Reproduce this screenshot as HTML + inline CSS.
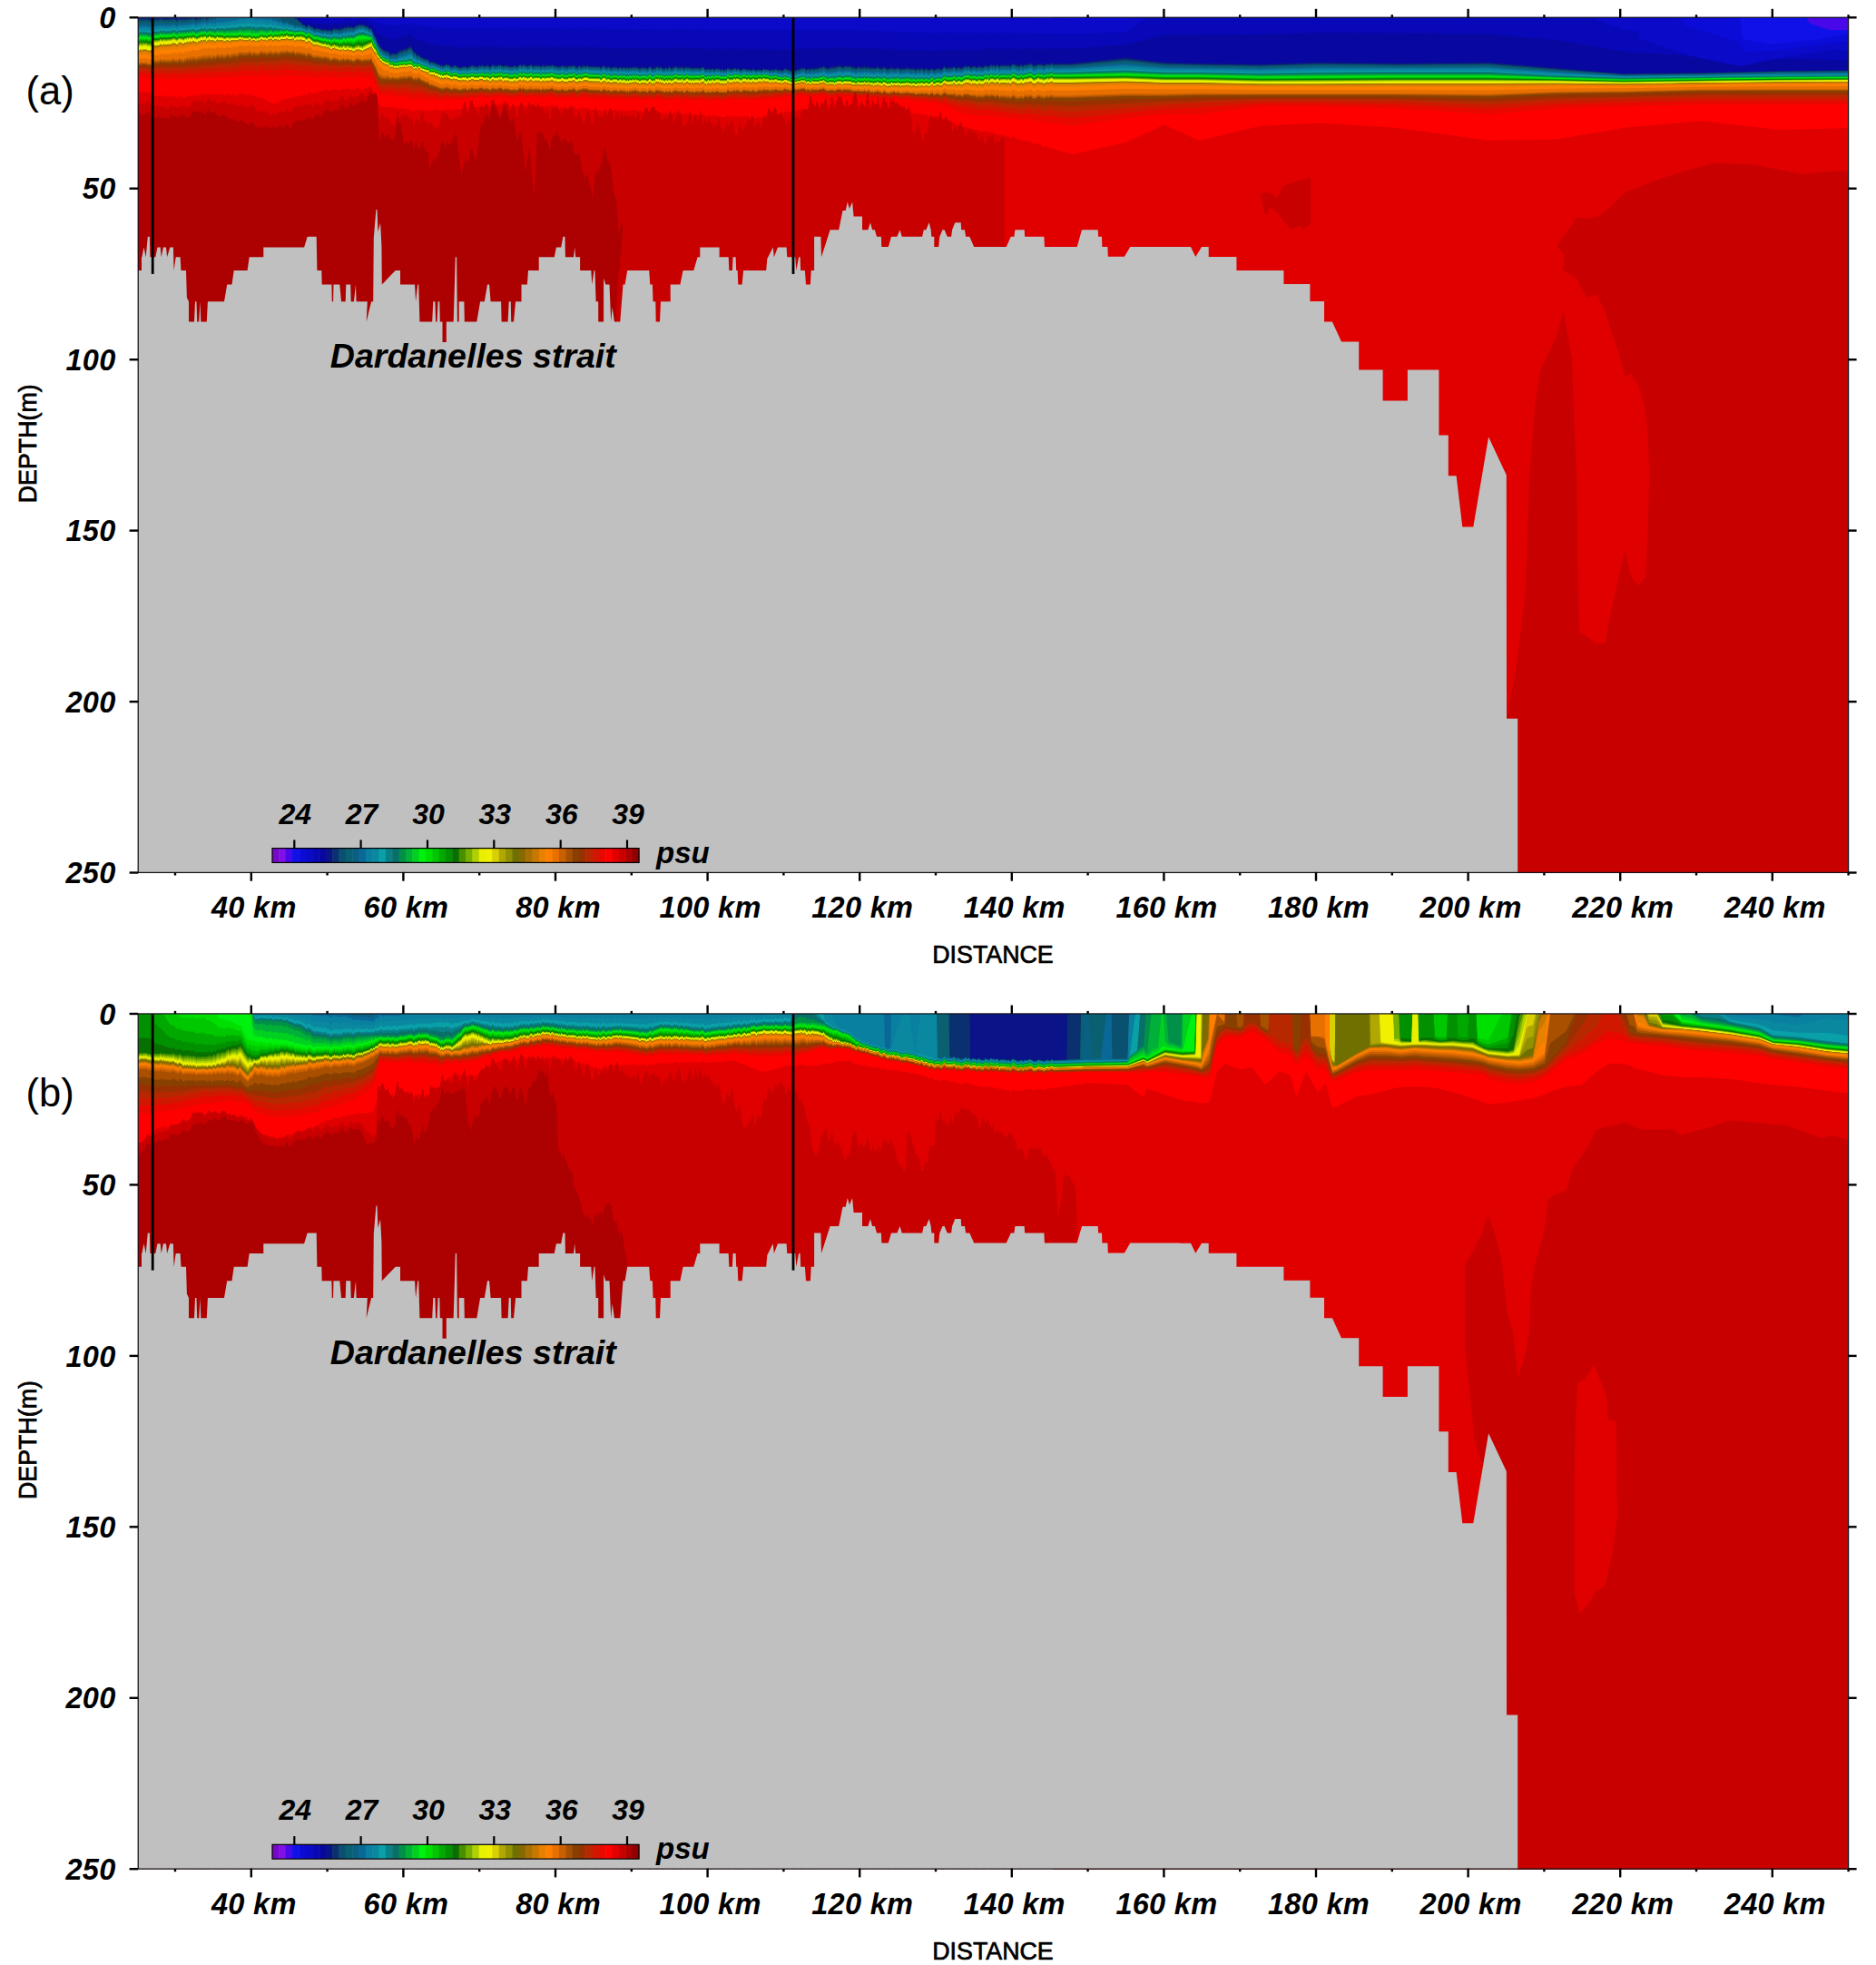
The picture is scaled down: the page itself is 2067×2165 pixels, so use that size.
<!DOCTYPE html><html><head><meta charset="utf-8"><title>Salinity sections</title>
<style>html,body{margin:0;padding:0;background:#fff}svg{display:block}text{font-family:"Liberation Sans",Arial,Helvetica,sans-serif;fill:#000}.t{font-weight:bold;font-style:italic;font-size:32.5px;letter-spacing:0.3px}.c{font-style:italic;font-weight:bold;font-size:32px}</style></head><body>
<svg width="2067" height="2165" viewBox="0 0 2067 2165">
<rect width="2067" height="2165" fill="#fff"/>
<defs><filter id="jagS" filterUnits="userSpaceOnUse" x="130" y="0" width="1930" height="990" color-interpolation-filters="sRGB"><feTurbulence type="fractalNoise" baseFrequency="0.33 0.004" numOctaves="3" seed="3" result="n"/><feColorMatrix in="n" type="matrix" values="0 0 0 0 0.5  0 1 0 0 0  0 0 0 0 0.5  0 0 0 0 1" result="m"/><feDisplacementMap in="SourceGraphic" in2="m" scale="4.5" xChannelSelector="R" yChannelSelector="G"/></filter><filter id="jagM" filterUnits="userSpaceOnUse" x="130" y="0" width="300" height="990" color-interpolation-filters="sRGB"><feTurbulence type="fractalNoise" baseFrequency="0.25 0.003" numOctaves="2" seed="5" result="n"/><feColorMatrix in="n" type="matrix" values="0 0 0 0 0.5  0 1 0 0 0  0 0 0 0 0.5  0 0 0 0 1" result="m"/><feDisplacementMap in="SourceGraphic" in2="m" scale="12" xChannelSelector="R" yChannelSelector="G"/></filter><filter id="jagL" filterUnits="userSpaceOnUse" x="130" y="0" width="1930" height="990" color-interpolation-filters="sRGB"><feTurbulence type="fractalNoise" baseFrequency="0.22 0.002" numOctaves="2" seed="11" result="n"/><feColorMatrix in="n" type="matrix" values="0 0 0 0 0.5  0 1 0 0 0  0 0 0 0 0.5  0 0 0 0 1" result="m"/><feDisplacementMap in="SourceGraphic" in2="m" scale="36" xChannelSelector="R" yChannelSelector="G"/></filter></defs>
<defs><clipPath id="cL"><rect x="130" y="0" width="1030" height="990"/></clipPath><clipPath id="cR"><rect x="1160" y="0" width="900" height="990"/></clipPath><clipPath id="cSL"><rect x="130" y="0" width="287" height="990"/></clipPath><clipPath id="cSR"><rect x="417" y="0" width="1650" height="990"/></clipPath></defs>
<defs><clipPath id="ca"><rect x="152.2" y="19.2" width="1884.4" height="942.2"/></clipPath><clipPath id="cb"><rect x="152.2" y="1117.0" width="1884.4" height="942.2"/></clipPath></defs>
<g clip-path="url(#ca)">
<g transform="translate(0,0.0)">
<defs><g id="bandsA">
<rect x="138.2" y="5.2" width="1912.4" height="970.2" fill="#e00000"/>
<polygon points="138.2,5.2 166.0,5.2 168.9,5.2 198.0,5.2 230.0,5.2 277.9,5.2 301.9,5.2 309.9,5.2 333.9,5.2 357.9,5.2 381.9,5.2 399.5,5.2 409.1,5.2 418.7,5.2 431.5,5.2 452.8,5.2 461.3,5.2 482.6,5.2 510.4,5.2 546.6,5.2 610.6,5.2 661.7,5.2 695.9,5.2 759.8,5.2 840.0,5.2 874.1,5.2 925.3,5.2 999.9,5.2 1031.9,5.2 1063.9,5.2 1117.2,5.2 1181.2,5.2 1240.0,5.2 1282.6,5.2 1321.0,5.2 1389.3,5.2 1453.2,5.2 1538.5,5.2 1640.0,5.2 1714.6,5.2 1789.3,5.2 1874.5,5.2 1959.8,5.2 2050.6,5.2 2050.6,963.5 138.2,963.5" fill="#4808e8" />
<polygon points="138.2,5.2 166.0,5.2 168.9,5.2 198.0,5.2 230.0,5.2 277.9,5.2 301.9,5.2 309.9,5.2 333.9,5.2 357.9,5.2 381.9,5.2 399.5,5.2 409.1,5.2 418.7,5.2 431.5,5.2 452.8,5.2 461.3,5.2 482.6,5.2 510.4,5.2 546.6,5.2 610.6,5.2 661.7,5.2 695.9,5.2 759.8,5.2 840.0,5.2 874.1,5.2 925.3,5.2 999.9,5.2 1031.9,5.2 1063.9,5.2 1117.2,5.2 1181.2,5.2 1240.0,5.2 1282.6,5.2 1321.0,5.2 1389.3,5.2 1453.2,5.2 1538.5,5.2 1640.0,5.2 1714.6,5.2 1789.3,5.2 1874.5,5.2 1959.8,5.2 2050.6,25.4 2050.6,963.5 138.2,963.5" fill="#1010e8" />
<polygon points="138.2,5.2 166.0,5.2 168.9,5.2 198.0,5.2 230.0,5.2 277.9,5.2 301.9,5.2 309.9,5.2 333.9,5.2 357.9,5.2 381.9,5.2 399.5,5.2 409.1,5.2 418.7,5.2 431.5,5.2 452.8,5.2 461.3,5.2 482.6,5.2 510.4,5.2 546.6,5.2 610.6,5.2 661.7,5.2 695.9,5.2 759.8,5.2 840.0,5.2 874.1,5.2 925.3,5.2 999.9,5.2 1031.9,5.2 1063.9,5.2 1117.2,5.2 1181.2,5.2 1240.0,5.2 1282.6,5.2 1321.0,5.2 1389.3,5.2 1453.2,5.2 1538.5,5.2 1640.0,5.2 1714.6,5.2 1789.3,5.2 1874.5,5.2 1959.8,25.3 2050.6,35.7 2050.6,963.5 138.2,963.5" fill="#0c0cd8" />
<polygon points="138.2,5.2 166.0,5.2 168.9,5.2 198.0,5.2 230.0,5.2 277.9,5.2 301.9,5.2 309.9,5.2 333.9,5.2 357.9,5.2 381.9,5.2 399.5,5.2 409.1,5.2 418.7,5.2 431.5,5.2 452.8,5.2 461.3,5.2 482.6,5.2 510.4,5.2 546.6,5.2 610.6,5.2 661.7,5.2 695.9,5.2 759.8,5.2 840.0,5.2 874.1,5.2 925.3,5.2 999.9,5.2 1031.9,5.2 1063.9,5.2 1117.2,19.7 1181.2,21.4 1240.0,22.0 1282.6,5.2 1321.0,5.2 1389.3,5.2 1453.2,5.2 1538.5,5.2 1640.0,5.2 1714.6,5.2 1789.3,5.2 1874.5,26.2 1959.8,38.4 2050.6,46.0 2050.6,963.5 138.2,963.5" fill="#0a0ac8" />
<polygon points="138.2,5.2 166.0,5.2 168.9,5.2 198.0,5.2 230.0,5.2 277.9,5.2 301.9,5.2 309.9,5.2 333.9,20.1 357.9,22.0 381.9,21.2 399.5,20.5 409.1,21.6 418.7,26.5 431.5,28.0 452.8,26.4 461.3,28.6 482.6,30.9 510.4,31.5 546.6,31.3 610.6,31.4 661.7,31.8 695.9,32.1 759.8,32.2 840.0,33.2 874.1,33.0 925.3,32.9 999.9,35.4 1031.9,36.1 1063.9,36.2 1117.2,36.6 1181.2,37.4 1240.0,35.7 1282.6,5.2 1321.0,5.2 1389.3,5.2 1453.2,5.2 1538.5,5.2 1640.0,5.2 1714.6,5.2 1789.3,32.7 1874.5,44.1 1959.8,51.6 2050.6,56.3 2050.6,963.5 138.2,963.5" fill="#0808b8" />
<polygon points="138.2,5.2 166.0,5.2 168.9,5.2 198.0,5.2 230.0,5.2 277.9,5.2 301.9,5.2 309.9,5.2 333.9,23.2 357.9,27.3 381.9,25.3 399.5,23.3 409.1,26.3 418.7,39.1 431.5,43.1 452.8,38.8 461.3,44.7 482.6,50.7 510.4,52.0 546.6,51.4 610.6,51.5 661.7,52.2 695.9,52.9 759.8,52.9 840.0,55.0 874.1,54.4 925.3,52.7 999.9,55.0 1031.9,55.4 1063.9,54.4 1117.2,53.5 1181.2,53.4 1240.0,49.3 1282.6,38.5 1321.0,38.4 1389.3,37.8 1453.2,36.0 1538.5,36.3 1640.0,37.7 1714.6,44.1 1789.3,56.9 1874.5,62.1 1959.8,64.7 2050.6,66.5 2050.6,963.5 138.2,963.5" fill="#0808a0" />
<polygon points="138.2,5.2 166.0,5.2 168.9,5.2 198.0,5.2 230.0,5.2 277.9,5.2 301.9,5.2 309.9,5.2 333.9,26.2 357.9,32.6 381.9,29.4 399.5,26.2 409.1,31.0 418.7,51.8 431.5,58.2 452.8,51.2 461.3,60.8 482.6,70.4 510.4,72.6 546.6,71.5 610.6,71.5 661.7,72.6 695.9,73.6 759.8,73.6 840.0,76.8 874.1,75.8 925.3,72.6 999.9,74.7 1031.9,74.7 1063.9,72.6 1117.2,70.4 1181.2,69.4 1240.0,63.0 1282.6,68.3 1321.0,69.4 1389.3,70.4 1453.2,68.3 1538.5,69.4 1640.0,68.3 1714.6,74.7 1789.3,81.1 1874.5,80.0 1959.8,77.9 2050.6,76.8 2050.6,963.5 138.2,963.5" fill="#0a1488" />
<polygon points="138.2,20.7 166.0,20.7 168.9,20.5 198.0,20.4 230.0,19.8 277.9,5.2 301.9,5.2 309.9,5.2 333.9,27.1 357.9,33.5 381.9,30.6 399.5,27.1 409.1,31.9 418.7,52.9 431.5,59.3 452.8,52.8 461.3,61.8 482.6,71.1 510.4,73.4 546.6,72.3 610.6,72.3 661.7,73.4 695.9,74.4 759.8,74.4 840.0,77.4 874.1,76.7 925.3,73.7 999.9,75.7 1031.9,75.7 1063.9,73.5 1117.2,71.5 1181.2,70.4 1240.0,64.5 1282.6,69.5 1321.0,70.4 1389.3,71.5 1453.2,69.5 1538.5,70.4 1640.0,69.4 1714.6,75.6 1789.3,81.6 1874.5,80.5 1959.8,78.5 2050.6,77.5 2050.6,963.5 138.2,963.5" fill="#0a3070" />
<polygon points="138.2,22.6 166.0,22.6 168.9,22.3 198.0,22.0 230.0,20.9 277.9,5.2 301.9,5.2 309.9,5.2 333.9,27.9 357.9,34.3 381.9,31.7 399.5,27.9 409.1,32.7 418.7,54.1 431.5,60.5 452.8,54.3 461.3,62.7 482.6,71.8 510.4,74.2 546.6,73.1 610.6,73.1 661.7,74.2 695.9,75.3 759.8,75.3 840.0,78.0 874.1,77.6 925.3,74.9 999.9,76.8 1031.9,76.8 1063.9,74.4 1117.2,72.5 1181.2,71.5 1240.0,66.0 1282.6,70.6 1321.0,71.5 1389.3,72.5 1453.2,70.6 1538.5,71.4 1640.0,70.5 1714.6,76.5 1789.3,82.0 1874.5,81.0 1959.8,79.1 2050.6,78.1 2050.6,963.5 138.2,963.5" fill="#0a5070" />
<polygon points="138.2,24.6 166.0,24.6 168.9,24.1 198.0,23.7 230.0,21.9 277.9,5.2 301.9,5.2 309.9,23.1 333.9,28.8 357.9,35.2 381.9,32.9 399.5,28.8 409.1,33.6 418.7,55.3 431.5,61.7 452.8,55.8 461.3,63.6 482.6,72.5 510.4,75.0 546.6,73.9 610.6,73.9 661.7,75.0 695.9,76.1 759.8,76.1 840.0,78.6 874.1,78.6 925.3,76.1 999.9,77.8 1031.9,77.8 1063.9,75.4 1117.2,73.6 1181.2,72.5 1240.0,67.5 1282.6,71.8 1321.0,72.5 1389.3,73.6 1453.2,71.8 1538.5,72.4 1640.0,71.7 1714.6,77.4 1789.3,82.5 1874.5,81.4 1959.8,79.6 2050.6,78.8 2050.6,963.5 138.2,963.5" fill="#0a6070" />
<polygon points="138.2,26.5 166.0,26.5 168.9,25.9 198.0,25.3 230.0,23.0 277.9,5.2 301.9,5.2 309.9,23.7 333.9,29.7 357.9,36.1 381.9,34.0 399.5,29.7 409.1,34.5 418.7,56.4 431.5,62.8 452.8,57.3 461.3,64.6 482.6,73.2 510.4,75.8 546.6,74.8 610.6,74.8 661.7,75.8 695.9,76.9 759.8,76.9 840.0,79.2 874.1,79.5 925.3,77.2 999.9,78.9 1031.9,78.9 1063.9,76.3 1117.2,74.6 1181.2,73.6 1240.0,69.0 1282.6,73.0 1321.0,73.6 1389.3,74.6 1453.2,73.0 1538.5,73.4 1640.0,72.8 1714.6,78.2 1789.3,83.0 1874.5,81.9 1959.8,80.2 2050.6,79.4 2050.6,963.5 138.2,963.5" fill="#0a6080" />
<polygon points="138.2,28.4 166.0,28.4 168.9,27.7 198.0,27.0 230.0,24.1 277.9,5.2 301.9,21.2 309.9,24.3 333.9,30.6 357.9,37.0 381.9,35.2 399.5,30.6 409.1,35.4 418.7,57.6 431.5,64.0 452.8,58.8 461.3,65.5 482.6,73.9 510.4,76.6 546.6,75.6 610.6,75.6 661.7,76.6 695.9,77.7 759.8,77.7 840.0,79.7 874.1,80.4 925.3,78.4 999.9,79.9 1031.9,79.9 1063.9,77.2 1117.2,75.7 1181.2,74.6 1240.0,70.5 1282.6,74.1 1321.0,74.6 1389.3,75.7 1453.2,74.1 1538.5,74.4 1640.0,73.9 1714.6,79.1 1789.3,83.4 1874.5,82.4 1959.8,80.8 2050.6,80.1 2050.6,963.5 138.2,963.5" fill="#0a6898" />
<polygon points="138.2,30.3 166.0,30.3 168.9,29.5 198.0,28.6 230.0,25.7 277.9,20.3 301.9,22.7 309.9,25.7 333.9,31.4 357.9,37.8 381.9,36.3 399.5,31.5 409.1,36.2 418.7,58.6 431.5,65.0 452.8,60.5 461.3,66.5 482.6,74.7 510.4,77.5 546.6,76.5 610.6,76.5 661.7,77.5 695.9,78.6 759.8,78.6 840.0,80.4 874.1,81.5 925.3,79.7 999.9,81.1 1031.9,81.1 1063.9,78.3 1117.2,76.8 1181.2,75.8 1240.0,72.2 1282.6,75.4 1321.0,75.8 1389.3,76.8 1453.2,75.4 1538.5,75.5 1640.0,75.1 1714.6,80.1 1789.3,83.9 1874.5,82.9 1959.8,81.5 2050.6,80.8 2050.6,963.5 138.2,963.5" fill="#0a80a0" />
<polygon points="138.2,32.2 166.0,32.2 168.9,31.4 198.0,30.2 230.0,27.8 277.9,23.3 301.9,25.4 309.9,27.8 333.9,32.2 357.9,38.6 381.9,37.4 399.5,32.6 409.1,37.0 418.7,59.4 431.5,65.8 452.8,62.3 461.3,67.7 482.6,75.6 510.4,78.5 546.6,77.5 610.6,77.5 661.7,78.5 695.9,79.6 759.8,79.6 840.0,81.1 874.1,82.6 925.3,81.1 999.9,82.4 1031.9,82.4 1063.9,79.4 1117.2,78.1 1181.2,77.0 1240.0,74.1 1282.6,76.8 1321.0,77.0 1389.3,78.1 1453.2,76.8 1538.5,76.7 1640.0,76.5 1714.6,81.2 1789.3,84.5 1874.5,83.4 1959.8,82.2 2050.6,81.6 2050.6,963.5 138.2,963.5" fill="#0a88a0" />
<polygon points="138.2,34.1 166.0,34.1 168.9,33.3 198.0,31.8 230.0,29.9 277.9,26.3 301.9,28.1 309.9,29.9 333.9,33.0 357.9,39.4 381.9,38.5 399.5,33.7 409.1,37.8 418.7,60.2 431.5,66.6 452.8,64.2 461.3,68.8 482.6,76.4 510.4,79.5 546.6,78.5 610.6,78.5 661.7,79.5 695.9,80.6 759.8,80.6 840.0,81.8 874.1,83.7 925.3,82.5 999.9,83.7 1031.9,83.7 1063.9,80.5 1117.2,79.4 1181.2,78.3 1240.0,75.9 1282.6,78.3 1321.0,78.3 1389.3,79.4 1453.2,78.3 1538.5,77.9 1640.0,77.9 1714.6,82.3 1789.3,85.1 1874.5,84.0 1959.8,82.9 2050.6,82.4 2050.6,963.5 138.2,963.5" fill="#0aa0a8" />
<polygon points="138.2,35.6 166.0,35.6 168.9,34.7 198.0,33.1 230.0,31.5 277.9,28.7 301.9,30.0 309.9,31.4 333.9,33.7 357.9,40.2 381.9,39.5 399.5,34.7 409.1,38.5 418.7,60.8 431.5,67.1 452.8,65.5 461.3,69.6 482.6,77.0 510.4,80.3 546.6,79.3 610.6,79.3 661.7,80.3 695.9,81.4 759.8,81.4 840.0,82.3 874.1,84.5 925.3,83.6 999.9,84.7 1031.9,84.6 1063.9,81.5 1117.2,80.3 1181.2,79.3 1240.0,77.3 1282.6,79.4 1321.0,79.4 1389.3,80.5 1453.2,79.5 1538.5,79.0 1640.0,79.0 1714.6,83.1 1789.3,85.6 1874.5,84.5 1959.8,83.5 2050.6,83.0 2050.6,963.5 138.2,963.5" fill="#088088" />
<polygon points="138.2,36.8 166.0,36.8 168.9,35.8 198.0,34.2 230.0,32.6 277.9,30.5 301.9,31.3 309.9,32.2 333.9,34.2 357.9,41.0 381.9,40.4 399.5,35.8 409.1,39.2 418.7,61.2 431.5,67.5 452.8,66.3 461.3,70.1 482.6,77.4 510.4,80.7 546.6,79.9 610.6,79.9 661.7,80.9 695.9,82.1 759.8,81.9 840.0,82.7 874.1,85.0 925.3,84.3 999.9,85.4 1031.9,85.2 1063.9,82.2 1117.2,80.9 1181.2,80.0 1240.0,78.2 1282.6,80.1 1321.0,80.1 1389.3,81.4 1453.2,80.5 1538.5,80.0 1640.0,80.0 1714.6,83.7 1789.3,86.1 1874.5,85.0 1959.8,83.9 2050.6,83.4 2050.6,963.5 138.2,963.5" fill="#087068" />
<polygon points="138.2,38.0 166.0,38.0 168.9,36.9 198.0,35.3 230.0,33.7 277.9,32.3 301.9,32.6 309.9,33.0 333.9,34.7 357.9,41.8 381.9,41.3 399.5,36.9 409.1,39.9 418.7,61.6 431.5,67.8 452.8,67.1 461.3,70.5 482.6,77.7 510.4,81.2 546.6,80.6 610.6,80.6 661.7,81.5 695.9,82.7 759.8,82.4 840.0,83.1 874.1,85.5 925.3,85.0 999.9,86.1 1031.9,85.8 1063.9,82.9 1117.2,81.5 1181.2,80.7 1240.0,79.1 1282.6,80.9 1321.0,80.9 1389.3,82.3 1453.2,81.5 1538.5,80.9 1640.0,80.9 1714.6,84.3 1789.3,86.5 1874.5,85.5 1959.8,84.4 2050.6,83.9 2050.6,963.5 138.2,963.5" fill="#009048" />
<polygon points="138.2,39.2 166.0,39.2 168.9,37.9 198.0,36.3 230.0,34.7 277.9,34.1 301.9,33.9 309.9,33.8 333.9,35.3 357.9,42.6 381.9,42.3 399.5,37.9 409.1,40.5 418.7,62.0 431.5,68.2 452.8,68.0 461.3,71.0 482.6,78.1 510.4,81.6 546.6,81.2 610.6,81.2 661.7,82.1 695.9,83.3 759.8,83.0 840.0,83.4 874.1,85.9 925.3,85.7 999.9,86.8 1031.9,86.4 1063.9,83.6 1117.2,82.1 1181.2,81.5 1240.0,79.9 1282.6,81.7 1321.0,81.7 1389.3,83.1 1453.2,82.4 1538.5,81.9 1640.0,81.9 1714.6,84.9 1789.3,87.0 1874.5,85.9 1959.8,84.8 2050.6,84.3 2050.6,963.5 138.2,963.5" fill="#00b038" />
<polygon points="138.2,40.4 166.0,40.4 168.9,39.0 198.0,37.4 230.0,35.8 277.9,35.9 301.9,35.1 309.9,34.6 333.9,35.8 357.9,43.4 381.9,43.2 399.5,39.0 409.1,41.2 418.7,62.4 431.5,68.5 452.8,68.8 461.3,71.4 482.6,78.4 510.4,82.1 546.6,81.8 610.6,81.8 661.7,82.8 695.9,84.0 759.8,83.5 840.0,83.8 874.1,86.4 925.3,86.4 999.9,87.5 1031.9,87.0 1063.9,84.3 1117.2,82.8 1181.2,82.2 1240.0,80.8 1282.6,82.5 1321.0,82.5 1389.3,84.0 1453.2,83.4 1538.5,82.9 1640.0,82.9 1714.6,85.5 1789.3,87.4 1874.5,86.4 1959.8,85.3 2050.6,84.7 2050.6,963.5 138.2,963.5" fill="#00d020" />
<polygon points="138.2,41.6 166.0,41.6 168.9,40.1 198.0,38.5 230.0,36.9 277.9,37.8 301.9,36.4 309.9,35.4 333.9,36.3 357.9,44.2 381.9,44.1 399.5,40.1 409.1,41.9 418.7,62.8 431.5,68.9 452.8,69.6 461.3,71.9 482.6,78.8 510.4,82.6 546.6,82.5 610.6,82.5 661.7,83.4 695.9,84.6 759.8,84.0 840.0,84.1 874.1,86.8 925.3,87.1 999.9,88.2 1031.9,87.6 1063.9,85.0 1117.2,83.4 1181.2,82.9 1240.0,81.7 1282.6,83.3 1321.0,83.3 1389.3,84.9 1453.2,84.4 1538.5,83.8 1640.0,83.8 1714.6,86.1 1789.3,87.9 1874.5,86.8 1959.8,85.8 2050.6,85.1 2050.6,963.5 138.2,963.5" fill="#00f010" />
<polygon points="138.2,42.7 166.0,42.7 168.9,40.9 198.0,39.2 230.0,37.6 277.9,38.9 301.9,37.3 309.9,36.1 333.9,36.9 357.9,44.9 381.9,45.1 399.5,41.5 409.1,42.5 418.7,63.1 431.5,69.2 452.8,70.2 461.3,72.3 482.6,79.1 510.4,83.0 546.6,83.0 610.6,83.0 661.7,83.9 695.9,85.1 759.8,84.6 840.0,84.6 874.1,87.2 925.3,87.7 999.9,88.8 1031.9,88.1 1063.9,85.6 1117.2,83.9 1181.2,83.5 1240.0,82.4 1282.6,83.9 1321.0,83.9 1389.3,85.6 1453.2,85.2 1538.5,84.6 1640.0,84.6 1714.6,86.6 1789.3,88.3 1874.5,87.2 1959.8,86.2 2050.6,85.5 2050.6,963.5 138.2,963.5" fill="#00e000" />
<polygon points="138.2,43.6 166.0,43.6 168.9,41.5 198.0,39.7 230.0,38.1 277.9,39.3 301.9,37.7 309.9,36.7 333.9,37.4 357.9,45.5 381.9,46.3 399.5,43.2 409.1,43.1 418.7,63.5 431.5,69.5 452.8,70.5 461.3,72.5 482.6,79.5 510.4,83.3 546.6,83.4 610.6,83.4 661.7,84.3 695.9,85.6 759.8,85.1 840.0,85.1 874.1,87.5 925.3,88.1 999.9,89.2 1031.9,88.6 1063.9,86.0 1117.2,84.3 1181.2,84.0 1240.0,83.0 1282.6,84.5 1321.0,84.5 1389.3,86.1 1453.2,85.7 1538.5,85.1 1640.0,85.1 1714.6,86.9 1789.3,88.6 1874.5,87.5 1959.8,86.4 2050.6,85.9 2050.6,963.5 138.2,963.5" fill="#00c800" />
<polygon points="138.2,44.6 166.0,44.6 168.9,42.2 198.0,40.2 230.0,38.6 277.9,39.8 301.9,38.2 309.9,37.2 333.9,37.9 357.9,46.2 381.9,47.4 399.5,45.0 409.1,43.8 418.7,63.8 431.5,69.9 452.8,70.8 461.3,72.8 482.6,79.8 510.4,83.6 546.6,83.8 610.6,83.9 661.7,84.7 695.9,86.0 759.8,85.6 840.0,85.6 874.1,87.8 925.3,88.6 999.9,89.6 1031.9,89.0 1063.9,86.4 1117.2,84.7 1181.2,84.5 1240.0,83.6 1282.6,85.0 1321.0,85.0 1389.3,86.6 1453.2,86.2 1538.5,85.7 1640.0,85.7 1714.6,87.3 1789.3,88.9 1874.5,87.8 1959.8,86.7 2050.6,86.2 2050.6,963.5 138.2,963.5" fill="#00a800" />
<polygon points="138.2,45.5 166.0,45.5 168.9,42.8 198.0,40.7 230.0,39.1 277.9,40.2 301.9,38.6 309.9,37.8 333.9,38.5 357.9,46.8 381.9,48.5 399.5,46.7 409.1,44.4 418.7,64.1 431.5,70.2 452.8,71.1 461.3,73.0 482.6,80.2 510.4,83.8 546.6,84.1 610.6,84.3 661.7,85.1 695.9,86.4 759.8,86.1 840.0,86.1 874.1,88.1 925.3,89.0 999.9,90.1 1031.9,89.4 1063.9,86.9 1117.2,85.1 1181.2,85.0 1240.0,84.1 1282.6,85.6 1321.0,85.6 1389.3,87.2 1453.2,86.7 1538.5,86.2 1640.0,86.2 1714.6,87.6 1789.3,89.2 1874.5,88.1 1959.8,87.0 2050.6,86.6 2050.6,963.5 138.2,963.5" fill="#009000" />
<polygon points="138.2,46.5 166.0,46.5 168.9,43.5 198.0,41.1 230.0,39.5 277.9,40.7 301.9,39.1 309.9,38.4 333.9,39.0 357.9,47.5 381.9,49.6 399.5,48.5 409.1,45.1 418.7,64.4 431.5,70.5 452.8,71.4 461.3,73.3 482.6,80.5 510.4,84.1 546.6,84.5 610.6,84.7 661.7,85.6 695.9,86.9 759.8,86.6 840.0,86.6 874.1,88.4 925.3,89.4 999.9,90.5 1031.9,89.8 1063.9,87.3 1117.2,85.6 1181.2,85.5 1240.0,84.7 1282.6,86.2 1321.0,86.2 1389.3,87.7 1453.2,87.2 1538.5,86.8 1640.0,86.8 1714.6,88.0 1789.3,89.5 1874.5,88.4 1959.8,87.3 2050.6,86.9 2050.6,963.5 138.2,963.5" fill="#087000" />
<polygon points="138.2,47.6 166.0,47.6 168.9,44.2 198.0,41.7 230.0,40.1 277.9,41.2 301.9,39.6 309.9,39.0 333.9,39.7 357.9,48.1 381.9,50.6 399.5,49.9 409.1,45.8 418.7,64.8 431.5,70.8 452.8,71.7 461.3,73.6 482.6,80.9 510.4,84.5 546.6,85.0 610.6,85.2 661.7,86.0 695.9,87.4 759.8,87.1 840.0,87.1 874.1,88.7 925.3,89.9 999.9,90.9 1031.9,90.3 1063.9,87.8 1117.2,86.1 1181.2,86.1 1240.0,85.2 1282.6,86.7 1321.0,86.7 1389.3,88.2 1453.2,87.9 1538.5,87.4 1640.0,87.4 1714.6,88.3 1789.3,89.8 1874.5,88.7 1959.8,87.7 2050.6,87.2 2050.6,963.5 138.2,963.5" fill="#489000" />
<polygon points="138.2,48.8 166.0,48.8 168.9,45.1 198.0,42.5 230.0,40.7 277.9,41.8 301.9,40.2 309.9,39.6 333.9,40.4 357.9,48.8 381.9,51.5 399.5,51.0 409.1,46.7 418.7,65.1 431.5,71.2 452.8,72.0 461.3,73.8 482.6,81.4 510.4,85.0 546.6,85.5 610.6,85.6 661.7,86.5 695.9,87.9 759.8,87.6 840.0,87.6 874.1,89.1 925.3,90.3 999.9,91.4 1031.9,90.8 1063.9,88.3 1117.2,86.7 1181.2,86.7 1240.0,85.8 1282.6,87.4 1321.0,87.4 1389.3,88.8 1453.2,88.6 1538.5,88.1 1640.0,88.1 1714.6,88.8 1789.3,90.2 1874.5,89.1 1959.8,88.1 2050.6,87.6 2050.6,963.5 138.2,963.5" fill="#78b000" />
<polygon points="138.2,50.1 166.0,50.1 168.9,46.0 198.0,43.2 230.0,41.3 277.9,42.3 301.9,40.7 309.9,40.2 333.9,41.1 357.9,49.6 381.9,52.4 399.5,52.0 409.1,47.6 418.7,65.5 431.5,71.5 452.8,72.3 461.3,74.1 482.6,81.9 510.4,85.5 546.6,86.0 610.6,86.1 661.7,87.0 695.9,88.5 759.8,88.2 840.0,88.0 874.1,89.4 925.3,90.8 999.9,91.9 1031.9,91.2 1063.9,88.9 1117.2,87.3 1181.2,87.3 1240.0,86.4 1282.6,88.0 1321.0,88.0 1389.3,89.5 1453.2,89.3 1538.5,88.7 1640.0,88.7 1714.6,89.2 1789.3,90.6 1874.5,89.4 1959.8,88.4 2050.6,87.9 2050.6,963.5 138.2,963.5" fill="#b0d000" />
<polygon points="138.2,51.3 166.0,51.3 168.9,46.9 198.0,43.9 230.0,41.9 277.9,42.9 301.9,41.3 309.9,40.8 333.9,41.8 357.9,50.3 381.9,53.3 399.5,53.1 409.1,48.5 418.7,65.8 431.5,71.9 452.8,72.7 461.3,74.4 482.6,82.3 510.4,86.0 546.6,86.5 610.6,86.6 661.7,87.4 695.9,89.1 759.8,88.7 840.0,88.5 874.1,89.7 925.3,91.3 999.9,92.4 1031.9,91.7 1063.9,89.5 1117.2,87.9 1181.2,87.9 1240.0,86.9 1282.6,88.6 1321.0,88.6 1389.3,90.1 1453.2,90.0 1538.5,89.4 1640.0,89.4 1714.6,89.6 1789.3,91.0 1874.5,89.7 1959.8,88.8 2050.6,88.2 2050.6,963.5 138.2,963.5" fill="#e8f000" />
<polygon points="138.2,52.6 166.0,52.6 168.9,47.8 198.0,44.6 230.0,42.5 277.9,43.5 301.9,41.9 309.9,41.4 333.9,42.5 357.9,51.0 381.9,54.2 399.5,54.2 409.1,49.4 418.7,66.2 431.5,72.2 452.8,73.0 461.3,74.7 482.6,82.8 510.4,86.4 546.6,87.1 610.6,87.1 661.7,87.9 695.9,89.6 759.8,89.2 840.0,89.0 874.1,90.1 925.3,91.8 999.9,92.8 1031.9,92.2 1063.9,90.1 1117.2,88.6 1181.2,88.6 1240.0,87.5 1282.6,89.2 1321.0,89.2 1389.3,90.7 1453.2,90.7 1538.5,90.1 1640.0,90.1 1714.6,90.1 1789.3,91.3 1874.5,90.1 1959.8,89.2 2050.6,88.6 2050.6,963.5 138.2,963.5" fill="#f0f000" />
<polygon points="138.2,55.2 166.0,55.2 168.9,50.4 198.0,47.2 230.0,44.2 277.9,44.3 301.9,43.1 309.9,42.8 333.9,43.8 357.9,52.0 381.9,55.2 399.5,55.4 409.1,51.2 418.7,67.4 431.5,73.5 452.8,74.0 461.3,75.8 482.6,84.5 510.4,87.8 546.6,88.5 610.6,88.7 661.7,89.5 695.9,91.1 759.8,90.8 840.0,90.5 874.1,91.1 925.3,92.8 999.9,94.3 1031.9,93.4 1063.9,91.8 1117.2,90.7 1181.2,90.7 1240.0,89.4 1282.6,90.9 1321.0,90.9 1389.3,92.3 1453.2,92.3 1538.5,91.8 1640.0,91.8 1714.6,91.5 1789.3,92.4 1874.5,91.1 1959.8,90.3 2050.6,89.8 2050.6,963.5 138.2,963.5" fill="#d8d000" />
<polygon points="138.2,55.4 166.0,55.4 168.9,50.6 198.0,47.4 230.0,44.4 277.9,44.4 301.9,43.3 309.9,42.9 333.9,43.9 357.9,52.1 381.9,55.3 399.5,55.5 409.1,51.3 418.7,67.5 431.5,73.6 452.8,74.0 461.3,75.9 482.6,84.7 510.4,87.9 546.6,88.6 610.6,88.8 661.7,89.7 695.9,91.3 759.8,90.9 840.0,90.6 874.1,91.2 925.3,92.9 999.9,94.4 1031.9,93.5 1063.9,92.0 1117.2,90.9 1181.2,90.9 1240.0,89.5 1282.6,91.1 1321.0,91.1 1389.3,92.4 1453.2,92.4 1538.5,92.0 1640.0,92.0 1714.6,91.7 1789.3,92.5 1874.5,91.2 1959.8,90.4 2050.6,89.9 2050.6,963.5 138.2,963.5" fill="#b0a800" />
<polygon points="138.2,55.7 166.0,55.7 168.9,50.9 198.0,47.7 230.0,44.5 277.9,44.5 301.9,43.4 309.9,43.0 333.9,44.1 357.9,52.2 381.9,55.4 399.5,55.6 409.1,51.5 418.7,67.6 431.5,73.8 452.8,74.1 461.3,76.0 482.6,84.8 510.4,88.0 546.6,88.8 610.6,89.0 661.7,89.8 695.9,91.4 759.8,91.1 840.0,90.8 874.1,91.3 925.3,93.0 999.9,94.5 1031.9,93.6 1063.9,92.1 1117.2,91.1 1181.2,91.1 1240.0,89.7 1282.6,91.2 1321.0,91.2 1389.3,92.6 1453.2,92.6 1538.5,92.1 1640.0,92.1 1714.6,91.8 1789.3,92.6 1874.5,91.3 1959.8,90.5 2050.6,90.0 2050.6,963.5 138.2,963.5" fill="#909000" />
<polygon points="138.2,55.9 166.0,55.9 168.9,51.1 198.0,47.9 230.0,44.7 277.9,44.6 301.9,43.5 309.9,43.2 333.9,44.2 357.9,52.3 381.9,55.5 399.5,55.7 409.1,51.7 418.7,67.7 431.5,73.9 452.8,74.2 461.3,76.1 482.6,85.0 510.4,88.1 546.6,88.9 610.6,89.1 661.7,90.0 695.9,91.5 759.8,91.2 840.0,90.9 874.1,91.4 925.3,93.1 999.9,94.7 1031.9,93.8 1063.9,92.3 1117.2,91.3 1181.2,91.3 1240.0,89.9 1282.6,91.4 1321.0,91.4 1389.3,92.7 1453.2,92.7 1538.5,92.3 1640.0,92.3 1714.6,92.0 1789.3,92.7 1874.5,91.4 1959.8,90.6 2050.6,90.1 2050.6,963.5 138.2,963.5" fill="#707000" />
<polygon points="138.2,56.1 166.0,56.1 168.9,51.3 198.0,48.1 230.0,44.9 277.9,44.7 301.9,43.6 309.9,43.3 333.9,44.3 357.9,52.3 381.9,55.5 399.5,55.8 409.1,51.8 418.7,67.8 431.5,74.0 452.8,74.3 461.3,76.2 482.6,85.1 510.4,88.3 546.6,89.0 610.6,89.3 661.7,90.1 695.9,91.7 759.8,91.4 840.0,91.0 874.1,91.5 925.3,93.2 999.9,94.8 1031.9,93.9 1063.9,92.5 1117.2,91.5 1181.2,91.5 1240.0,90.0 1282.6,91.5 1321.0,91.5 1389.3,92.9 1453.2,92.9 1538.5,92.5 1640.0,92.5 1714.6,92.1 1789.3,92.8 1874.5,91.5 1959.8,90.7 2050.6,90.2 2050.6,963.5 138.2,963.5" fill="#886800" />
<polygon points="138.2,56.4 166.0,56.4 168.9,51.6 198.0,48.4 230.0,45.0 277.9,44.8 301.9,43.7 309.9,43.4 333.9,44.4 357.9,52.4 381.9,55.6 399.5,55.9 409.1,52.0 418.7,67.9 431.5,74.1 452.8,74.4 461.3,76.3 482.6,85.3 510.4,88.4 546.6,89.2 610.6,89.4 661.7,90.3 695.9,91.8 759.8,91.5 840.0,91.2 874.1,91.6 925.3,93.3 999.9,94.9 1031.9,94.0 1063.9,92.6 1117.2,91.7 1181.2,91.7 1240.0,90.2 1282.6,91.7 1321.0,91.7 1389.3,93.0 1453.2,93.0 1538.5,92.6 1640.0,92.6 1714.6,92.2 1789.3,92.9 1874.5,91.6 1959.8,90.8 2050.6,90.4 2050.6,963.5 138.2,963.5" fill="#a87000" />
<polygon points="138.2,56.6 166.0,56.6 168.9,51.8 198.0,48.6 230.0,45.2 277.9,44.8 301.9,43.9 309.9,43.6 333.9,44.6 357.9,52.5 381.9,55.7 399.5,56.0 409.1,52.2 418.7,68.0 431.5,74.2 452.8,74.5 461.3,76.4 482.6,85.5 510.4,88.5 546.6,89.3 610.6,89.6 661.7,90.4 695.9,91.9 759.8,91.7 840.0,91.3 874.1,91.7 925.3,93.4 999.9,95.1 1031.9,94.1 1063.9,92.8 1117.2,91.9 1181.2,91.9 1240.0,90.4 1282.6,91.9 1321.0,91.9 1389.3,93.2 1453.2,93.2 1538.5,92.8 1640.0,92.8 1714.6,92.4 1789.3,93.0 1874.5,91.7 1959.8,90.9 2050.6,90.5 2050.6,963.5 138.2,963.5" fill="#c87800" />
<polygon points="138.2,58.3 166.0,58.3 168.9,53.5 198.0,50.3 230.0,46.3 277.9,45.4 301.9,44.7 309.9,44.5 333.9,45.4 357.9,53.2 381.9,56.4 399.5,56.8 409.1,53.3 418.7,68.8 431.5,75.1 452.8,75.1 461.3,77.0 482.6,86.6 510.4,89.4 546.6,90.2 610.6,90.6 661.7,91.4 695.9,92.9 759.8,92.7 840.0,92.3 874.1,92.4 925.3,94.1 999.9,96.0 1031.9,94.9 1063.9,93.9 1117.2,93.3 1181.2,93.3 1240.0,91.6 1282.6,93.0 1321.0,93.0 1389.3,94.2 1453.2,94.2 1538.5,93.9 1640.0,93.9 1714.6,93.3 1789.3,93.7 1874.5,92.4 1959.8,91.5 2050.6,91.3 2050.6,963.5 138.2,963.5" fill="#e88000" />
<polygon points="138.2,61.4 166.0,61.4 168.9,56.6 198.0,53.4 230.0,48.4 277.9,46.5 301.9,46.2 309.9,46.1 333.9,47.0 357.9,54.4 381.9,57.6 399.5,58.3 409.1,55.5 418.7,70.3 431.5,76.6 452.8,76.3 461.3,78.3 482.6,88.6 510.4,91.0 546.6,92.0 610.6,92.5 661.7,93.4 695.9,94.7 759.8,94.6 840.0,94.1 874.1,93.7 925.3,95.4 999.9,97.7 1031.9,96.4 1063.9,96.0 1117.2,95.8 1181.2,95.8 1240.0,93.8 1282.6,95.0 1321.0,95.0 1389.3,96.1 1453.2,96.1 1538.5,96.0 1640.0,96.0 1714.6,95.1 1789.3,95.0 1874.5,93.7 1959.8,92.8 2050.6,92.7 2050.6,963.5 138.2,963.5" fill="#ff8000" />
<polygon points="138.2,65.2 166.0,65.2 168.9,61.0 198.0,58.3 230.0,53.3 277.9,50.3 301.9,50.2 309.9,50.0 333.9,51.0 357.9,57.6 381.9,60.4 399.5,61.0 409.1,59.2 418.7,75.1 431.5,79.6 452.8,79.3 461.3,81.2 482.6,91.6 510.4,93.5 546.6,94.3 610.6,94.8 661.7,95.7 695.9,96.9 759.8,97.1 840.0,96.4 874.1,95.5 925.3,97.0 999.9,99.7 1031.9,98.8 1063.9,99.3 1117.2,99.8 1181.2,99.8 1240.0,97.7 1282.6,98.5 1321.0,98.3 1389.3,99.1 1453.2,99.1 1538.5,99.1 1640.0,99.3 1714.6,97.8 1789.3,97.2 1874.5,95.7 1959.8,95.1 2050.6,95.1 2050.6,963.5 138.2,963.5" fill="#e87000" />
<polygon points="138.2,69.7 166.0,69.7 168.9,66.6 198.0,65.1 230.0,61.1 277.9,57.1 301.9,56.5 309.9,55.9 333.9,57.3 357.9,62.8 381.9,64.9 399.5,65.1 409.1,64.4 418.7,83.3 431.5,84.1 452.8,84.3 461.3,85.7 482.6,95.6 510.4,97.0 546.6,97.3 610.6,97.5 661.7,98.5 695.9,99.6 759.8,100.1 840.0,99.4 874.1,97.8 925.3,99.0 999.9,102.0 1031.9,102.3 1063.9,103.8 1117.2,105.3 1181.2,105.3 1240.0,103.2 1282.6,103.5 1321.0,102.7 1389.3,103.1 1453.2,103.1 1538.5,103.1 1640.0,103.8 1714.6,101.2 1789.3,100.4 1874.5,98.5 1959.8,98.2 2050.6,98.2 2050.6,963.5 138.2,963.5" fill="#c86000" />
<polygon points="138.2,70.8 166.0,70.8 168.9,68.0 198.0,66.8 230.0,63.2 277.9,58.8 301.9,58.1 309.9,57.5 333.9,58.9 357.9,64.2 381.9,66.0 399.5,66.2 409.1,65.8 418.7,85.4 431.5,85.2 452.8,85.6 461.3,86.8 482.6,96.6 510.4,97.9 546.6,98.1 610.6,98.2 661.7,99.2 695.9,100.3 759.8,100.8 840.0,100.2 874.1,98.3 925.3,99.5 999.9,102.6 1031.9,103.2 1063.9,105.0 1117.2,106.7 1181.2,106.7 1240.0,104.6 1282.6,104.8 1321.0,103.9 1389.3,104.1 1453.2,104.1 1538.5,104.1 1640.0,105.0 1714.6,102.1 1789.3,101.2 1874.5,99.2 1959.8,99.1 2050.6,99.1 2050.6,963.5 138.2,963.5" fill="#a85000" />
<polygon points="138.2,72.0 166.0,72.0 168.9,69.5 198.0,68.5 230.0,65.2 277.9,60.5 301.9,59.8 309.9,59.0 333.9,60.6 357.9,65.5 381.9,67.2 399.5,67.2 409.1,67.1 418.7,87.5 431.5,86.4 452.8,86.9 461.3,88.0 482.6,97.6 510.4,98.8 546.6,98.8 610.6,98.9 661.7,99.9 695.9,101.0 759.8,101.6 840.0,101.0 874.1,98.9 925.3,100.0 999.9,103.2 1031.9,104.1 1063.9,106.1 1117.2,108.1 1181.2,108.1 1240.0,106.0 1282.6,106.0 1321.0,105.0 1389.3,105.1 1453.2,105.1 1538.5,105.1 1640.0,106.1 1714.6,103.0 1789.3,102.0 1874.5,99.9 1959.8,99.9 2050.6,99.9 2050.6,963.5 138.2,963.5" fill="#884000" />
<polygon points="138.2,73.6 166.0,73.6 168.9,71.6 198.0,71.0 230.0,68.0 277.9,63.5 301.9,62.7 309.9,61.9 333.9,63.5 357.9,67.8 381.9,69.1 399.5,69.1 409.1,69.1 418.7,90.2 431.5,88.6 452.8,89.6 461.3,90.5 482.6,99.2 510.4,100.1 546.6,99.9 610.6,99.9 661.7,101.0 695.9,102.1 759.8,102.8 840.0,102.2 874.1,99.8 925.3,100.8 999.9,104.0 1031.9,105.3 1063.9,108.1 1117.2,110.9 1181.2,111.7 1240.0,109.2 1282.6,108.5 1321.0,107.2 1389.3,106.7 1453.2,106.7 1538.5,106.9 1640.0,108.5 1714.6,105.1 1789.3,103.8 1874.5,101.7 1959.8,101.7 2050.6,101.7 2050.6,963.5 138.2,963.5" fill="#983000" />
<polygon points="138.2,75.8 166.0,75.8 168.9,74.6 198.0,74.2 230.0,71.8 277.9,67.8 301.9,67.0 309.9,66.2 333.9,67.8 357.9,71.0 381.9,71.8 399.5,71.8 409.1,71.8 418.7,93.4 431.5,91.8 452.8,93.9 461.3,94.4 482.6,101.4 510.4,101.9 546.6,101.4 610.6,101.4 661.7,102.4 695.9,103.5 759.8,104.3 840.0,104.0 874.1,100.8 925.3,101.9 999.9,105.1 1031.9,106.7 1063.9,110.9 1117.2,115.2 1181.2,117.3 1240.0,114.1 1282.6,112.0 1321.0,110.4 1389.3,108.8 1453.2,108.8 1538.5,109.3 1640.0,112.0 1714.6,108.3 1789.3,106.7 1874.5,104.6 1959.8,104.6 2050.6,104.6 2050.6,963.5 138.2,963.5" fill="#b82800" />
<polygon points="138.2,77.9 166.0,77.9 168.9,77.5 198.0,77.4 230.0,75.5 277.9,72.0 301.9,71.2 309.9,70.4 333.9,72.0 357.9,74.2 381.9,74.4 399.5,74.4 409.1,74.4 418.7,96.6 431.5,95.0 452.8,98.2 461.3,98.3 482.6,103.5 510.4,103.7 546.6,102.8 610.6,102.8 661.7,103.8 695.9,104.9 759.8,105.9 840.0,105.8 874.1,101.9 925.3,103.0 999.9,106.2 1031.9,108.1 1063.9,113.8 1117.2,119.5 1181.2,123.0 1240.0,119.1 1282.6,115.6 1321.0,113.6 1389.3,110.9 1453.2,110.9 1538.5,111.8 1640.0,115.6 1714.6,111.5 1789.3,109.5 1874.5,107.4 1959.8,107.4 2050.6,107.4 2050.6,963.5 138.2,963.5" fill="#d01800" />
<polygon points="138.2,81.1 166.0,81.1 168.9,81.6 198.0,81.6 230.0,80.0 277.9,77.4 301.9,76.8 309.9,76.3 333.9,77.4 357.9,79.0 381.9,79.0 399.5,79.0 409.1,79.0 418.7,100.3 431.5,99.2 452.8,103.1 461.3,103.1 482.6,106.3 510.4,106.0 546.6,104.7 610.6,104.7 661.7,105.8 695.9,106.7 759.8,108.0 840.0,108.0 874.1,103.5 925.3,104.6 999.9,107.8 1031.9,110.2 1063.9,118.8 1117.2,124.5 1181.2,130.1 1240.0,124.5 1282.6,120.2 1321.0,118.8 1389.3,113.8 1453.2,113.8 1538.5,115.2 1640.0,120.2 1714.6,115.2 1789.3,113.1 1874.5,110.9 1959.8,110.9 2050.6,110.9 2050.6,963.5 138.2,963.5" fill="#e80800" />
<polygon points="138.2,85.4 166.0,85.4 168.9,87.0 198.0,87.0 230.0,85.4 277.9,83.8 301.9,83.8 309.9,83.8 333.9,83.8 357.9,85.4 381.9,85.4 399.5,85.4 409.1,85.4 418.7,104.6 431.5,104.6 452.8,108.8 461.3,108.8 482.6,109.9 510.4,108.8 546.6,107.1 610.6,107.1 661.7,108.4 695.9,108.8 759.8,110.5 840.0,110.5 874.1,105.6 925.3,106.7 999.9,109.9 1031.9,113.1 1063.9,125.9 1117.2,130.1 1181.2,138.7 1240.0,130.1 1282.6,125.9 1321.0,125.9 1389.3,117.3 1453.2,117.3 1538.5,119.5 1640.0,125.9 1714.6,119.5 1789.3,117.3 1874.5,115.2 1959.8,115.2 2050.6,115.2 2050.6,963.5 138.2,963.5" fill="#ff0000" />
<polygon points="138.2,102.2 166.0,102.2 168.9,105.4 198.0,107.0 230.0,103.8 277.9,104.6 301.9,114.1 309.9,110.9 333.9,104.6 357.9,99.8 381.9,98.2 399.5,98.2 409.1,95.0 418.7,117.3 431.5,117.3 452.8,121.6 461.3,121.6 482.6,121.6 510.4,119.5 546.6,116.3 610.6,117.3 661.7,121.6 695.9,121.6 759.8,125.9 840.0,130.1 874.1,121.6 925.3,117.3 999.9,123.7 1031.9,128.0 1063.9,140.8 1117.2,151.5 1181.2,170.0 1240.0,157.0 1282.6,137.6 1321.0,154.7 1389.3,138.7 1453.2,135.5 1538.5,140.8 1640.0,154.7 1714.6,153.6 1789.3,140.8 1874.5,133.3 1959.8,142.9 2050.6,140.8 2050.6,963.5 138.2,963.5" fill="#e00000" />
</g></defs>
<g clip-path="url(#cL)"><use href="#bandsA" filter="url(#jagS)"/></g>
<g clip-path="url(#cR)"><use href="#bandsA"/></g>
<defs><g id="strA">
<polygon points="138.2,961.5 138.2,112.5 150.0,112.5 170.8,115.7 198.0,117.3 230.0,111.0 278.0,117.3 302.0,127.0 310.0,125.3 334.0,117.3 358.0,112.5 382.0,107.7 399.5,106.0 409.0,98.0 418.7,127.0 431.4,127.0 440.0,134.4 447.0,128.0 452.0,136.0 461.0,130.0 470.0,128.0 476.0,140.0 482.6,134.4 490.0,126.0 497.0,131.0 510.0,121.6 530.0,119.0 546.6,117.3 570.0,120.0 590.0,118.0 610.6,121.6 630.0,124.0 653.0,130.0 661.7,123.7 680.0,127.0 696.0,125.9 720.0,124.0 740.0,129.0 760.0,130.0 781.0,130.0 800.0,138.0 813.0,143.0 826.0,135.0 840.0,134.4 852.8,117.3 862.0,124.0 874.0,134.4 882.6,125.9 893.0,115.2 910.0,113.0 925.0,111.0 945.0,114.0 968.0,113.0 989.0,115.2 1002.0,125.9 1006.0,143.0 1011.0,133.0 1017.0,151.5 1023.0,138.7 1033.0,128.0 1042.6,130.0 1048.0,140.0 1053.0,143.0 1058.0,135.0 1064.0,153.6 1070.0,145.0 1074.5,151.5 1080.0,148.0 1085.0,164.0 1092.0,150.0 1100.0,155.0 1106.7,151.5 1106.7,961.5" fill="#c80000" />
<polygon points="138.2,961.5 138.2,123.7 150.0,123.7 170.8,128.5 198.0,127.0 230.0,123.7 278.0,136.5 302.0,141.3 310.0,141.3 334.0,133.3 358.0,123.7 382.0,117.3 399.5,114.0 409.0,101.4 416.0,105.0 417.6,149.6 441.6,140.0 444.8,162.3 457.6,159.1 472.0,162.3 473.6,187.9 483.2,162.3 495.9,159.1 502.3,143.2 508.7,194.3 515.1,175.1 524.7,175.1 527.9,143.2 540.7,124.0 553.5,120.8 566.3,136.8 574.3,152.7 579.1,184.7 583.9,168.7 588.7,219.9 591.9,149.6 598.3,146.4 604.7,155.9 614.3,149.6 623.9,159.1 636.7,168.7 646.3,194.3 652.7,213.5 655.9,200.7 665.5,162.3 671.9,187.9 678.2,213.5 681.4,251.9 686.2,255.1 684.6,283.9 681.4,296.7 678.2,360.6 678.0,961.5" fill="#ad0000" />
</g></defs>
<g clip-path="url(#cSL)"><use href="#strA" filter="url(#jagM)"/></g>
<g clip-path="url(#cSR)"><use href="#strA" filter="url(#jagL)"/></g>
<polygon points="2039.3,188.1 2010.8,189.3 1986.4,192.2 1961.9,187.3 1929.4,181.2 1888.6,180.0 1860.1,187.3 1827.6,197.5 1790.9,211.7 1774.6,228.0 1762.4,238.2 1746.1,241.1 1738.0,239.0 1725.8,256.5 1715.6,270.8 1723.7,281.0 1721.7,297.3 1738.0,307.4 1740.0,313.5 1748.2,327.8 1758.3,324.5 1766.5,338.0 1774.6,362.4 1782.8,386.8 1790.9,415.3 1797.0,411.3 1805.2,425.5 1811.3,443.8 1815.3,472.4 1817.4,521.2 1815.3,590.4 1813.3,635.2 1805.2,645.4 1797.0,635.2 1790.1,606.7 1782.8,639.3 1774.6,676.0 1768.5,708.5 1758.3,709.3 1750.2,702.4 1740.0,696.3 1738.0,610.8 1737.2,529.4 1734.7,468.3 1731.9,395.0 1722.5,343.3 1715.6,368.5 1709.5,382.8 1697.3,407.2 1691.1,447.9 1685.0,529.4 1681.0,651.5 1670.8,733.0 1660.6,790.0 1660.6,977.3 2039.3,977.3" fill="#c80000" />
<polygon points="1388.2,214.7 1393.0,211.5 1401.0,213.1 1407.4,217.9 1413.7,205.1 1444.1,194.9 1444.1,246.7 1436.1,253.1 1432.9,248.3 1421.7,253.1 1407.4,233.9 1397.8,227.5 1397.8,237.1 1393.0,235.5 1391.4,224.3" fill="#c80000" />
<polygon points="1804.2,18.2 1806.3,42.7 1863.9,61.9 1917.2,73.0 1949.2,66.2 2038.7,51.2 2038.7,18.2" fill="#0a0ac8" />
<polygon points="1853.2,18.2 1855.4,27.8 1917.2,47.0 1921.4,57.6 1959.8,55.5 2038.7,44.9 2038.7,18.2" fill="#0c0cd8" />
<polygon points="1917.2,18.2 1919.3,42.7 1949.2,49.1 2002.5,43.8 2038.7,36.3 2038.7,18.2" fill="#1010e8" />
<polygon points="1989.7,18.2 1993.9,25.7 2015.3,33.1 2038.7,33.1 2038.7,18.2" fill="#4808e8" />
<polygon points="150.2,966.5 150.2,298.1 153.2,298.1 156.0,298.1 156.0,283.2 156.4,283.2 158.5,272.5 160.7,283.2 162.8,260.8 164.9,260.8 165.4,283.2 171.3,283.2 173.5,272.5 176.7,272.5 177.7,283.2 179.9,272.5 183.0,272.5 184.1,283.2 187.3,272.5 190.9,272.5 191.6,298.1 193.7,283.2 198.6,283.2 199.5,298.1 205.0,298.1 205.9,327.9 208.0,332.2 208.0,354.6 214.0,354.6 215.0,332.2 216.5,332.2 217.2,354.6 219.3,354.6 220.4,332.2 221.4,354.6 227.8,354.6 228.9,332.2 247.0,332.2 250.2,313.6 255.5,313.6 257.7,298.1 272.6,298.1 274.7,283.2 290.3,283.2 290.3,272.5 335.1,272.5 338.7,260.8 348.7,260.8 349.4,298.1 354.3,298.1 354.7,313.6 365.4,313.6 365.8,332.2 367.1,332.2 367.5,313.6 374.3,313.6 376.0,332.2 380.7,332.2 381.3,313.6 386.2,313.6 386.7,332.2 389.9,332.2 392.0,313.6 392.6,332.2 404.8,332.2 403.7,354.6 409.1,332.2 411.2,332.2 411.8,261.8 414.4,230.9 415.5,230.9 416.5,255.4 419.1,245.8 420.4,270.4 420.8,313.6 435.7,298.1 441.0,298.1 441.0,313.6 457.0,313.6 458.1,332.2 460.2,313.6 461.3,313.6 462.4,354.6 476.2,354.6 477.3,332.2 479.4,332.2 480.1,354.6 481.6,354.6 482.6,332.2 484.3,332.2 484.8,354.6 487.5,354.6 487.5,377.0 491.8,377.0 491.8,354.6 499.7,354.6 501.8,283.2 503.1,283.2 503.9,354.6 505.7,354.6 505.7,332.2 511.4,332.2 511.8,354.6 525.3,354.6 529.1,332.2 533.8,332.2 537.0,313.6 539.1,313.6 540.6,332.2 550.0,332.2 550.0,332.2 552.1,332.2 552.6,354.6 559.6,354.6 560.7,332.2 562.8,332.2 563.2,354.6 566.0,354.6 568.1,332.2 574.5,332.2 574.5,313.6 580.9,313.6 582.0,298.1 593.7,298.1 593.7,283.2 610.8,283.2 612.9,272.5 618.2,272.5 620.4,260.8 622.5,260.8 622.9,283.2 632.1,283.2 633.2,272.5 634.2,283.2 639.1,283.2 639.1,298.1 651.3,298.1 652.3,313.6 654.5,298.1 655.5,298.1 656.6,332.2 659.2,332.2 659.2,354.6 665.1,354.6 665.1,306.6 667.3,313.6 671.5,313.6 673.2,354.6 674.7,338.6 676.9,354.6 683.3,354.6 686.5,313.6 688.6,313.6 691.2,298.1 715.2,298.1 716.3,313.6 718.9,313.6 719.5,332.2 722.3,332.2 722.7,354.6 727.0,354.6 728.0,332.2 738.7,332.2 738.7,313.6 749.4,313.6 752.6,298.1 764.3,298.1 768.6,283.2 771.3,283.2 771.3,272.5 792.6,272.5 792.6,283.2 802.7,283.2 803.3,298.1 806.9,298.1 807.6,283.2 810.6,283.2 811.2,298.1 812.7,298.1 813.3,313.6 817.6,313.6 819.1,298.1 844.2,298.1 845.3,285.3 851.7,272.5 852.8,283.2 857.0,272.5 866.6,272.5 867.3,283.2 876.2,283.2 877.3,298.1 880.1,283.2 881.6,283.2 882.2,298.1 886.9,298.1 888.0,313.6 892.9,313.6 893.7,298.1 897.1,298.1 897.1,260.8 904.4,260.8 905.0,283.2 914.6,253.3 924.2,253.3 928.5,232.0 931.7,232.0 933.8,222.4 935.9,229.9 939.1,222.4 940.6,238.4 950.0,238.4 950.0,253.3 956.4,253.3 959.0,245.2 961.1,253.3 963.9,253.3 966.0,260.8 970.9,260.8 971.3,271.9 978.8,271.9 982.0,260.8 988.4,260.8 991.6,253.3 993.7,260.8 1016.1,260.8 1017.8,253.3 1020.4,253.3 1023.6,245.2 1025.7,253.3 1026.3,260.8 1029.3,260.8 1029.3,271.9 1034.2,271.9 1035.3,260.8 1038.5,253.3 1040.6,253.3 1043.8,260.8 1048.1,260.8 1049.1,253.3 1052.3,245.2 1058.7,245.2 1059.2,253.3 1063.0,253.3 1064.1,260.8 1068.3,260.8 1073.2,271.9 1108.8,271.9 1113.8,260.8 1117.4,260.8 1118.4,253.3 1128.7,253.3 1129.1,260.8 1150.4,260.8 1150.9,271.9 1186.7,271.9 1192.0,253.3 1209.7,253.3 1210.1,260.8 1214.0,260.8 1214.4,271.9 1220.4,271.9 1220.8,282.7 1238.9,282.7 1245.3,271.9 1299.7,271.9 1300.0,272.1 1312.0,272.1 1317.3,283.1 1324.0,272.1 1331.7,272.1 1331.7,283.1 1362.4,283.1 1362.4,298.0 1414.4,298.0 1414.4,313.1 1443.4,313.1 1443.4,332.0 1459.0,332.0 1459.0,354.6 1467.9,354.6 1478.0,376.6 1497.2,376.6 1497.2,407.6 1523.6,407.6 1523.6,441.4 1550.9,441.4 1550.9,407.6 1585.4,407.6 1585.4,479.6 1595.8,479.6 1595.8,524.2 1604.6,524.2 1611.3,580.5 1623.3,580.5 1640.1,481.5 1659.8,523.4 1660.0,791.7 1672.2,791.7 1672.2,966.5" fill="#c0c0c0" />
<rect x="166.8" y="19.2" width="2.8" height="282.7" fill="#000"/>
<rect x="872.6" y="19.2" width="2.8" height="282.7" fill="#000"/>
</g></g>
<g transform="translate(0,0.0)">
<rect x="152.2" y="19.2" width="1884.4" height="942.2" fill="none" stroke="#101018" stroke-width="1.2"/>
<rect x="191.8" y="16.2" width="2.4" height="3" fill="#000"/>
<rect x="191.8" y="961.5" width="2.4" height="3" fill="#000"/>
<rect x="275.6" y="9.8" width="2.4" height="9.5" fill="#000"/>
<rect x="275.6" y="960.9" width="2.4" height="9.8" fill="#000"/>
<text class="t" x="279.8" y="1011.3" text-anchor="middle">40 km</text>
<rect x="359.4" y="16.2" width="2.4" height="3" fill="#000"/>
<rect x="359.4" y="961.5" width="2.4" height="3" fill="#000"/>
<rect x="443.2" y="9.8" width="2.4" height="9.5" fill="#000"/>
<rect x="443.2" y="960.9" width="2.4" height="9.8" fill="#000"/>
<text class="t" x="447.4" y="1011.3" text-anchor="middle">60 km</text>
<rect x="527.0" y="16.2" width="2.4" height="3" fill="#000"/>
<rect x="527.0" y="961.5" width="2.4" height="3" fill="#000"/>
<rect x="610.8" y="9.8" width="2.4" height="9.5" fill="#000"/>
<rect x="610.8" y="960.9" width="2.4" height="9.8" fill="#000"/>
<text class="t" x="615.0" y="1011.3" text-anchor="middle">80 km</text>
<rect x="694.6" y="16.2" width="2.4" height="3" fill="#000"/>
<rect x="694.6" y="961.5" width="2.4" height="3" fill="#000"/>
<rect x="778.4" y="9.8" width="2.4" height="9.5" fill="#000"/>
<rect x="778.4" y="960.9" width="2.4" height="9.8" fill="#000"/>
<text class="t" x="782.6" y="1011.3" text-anchor="middle">100 km</text>
<rect x="862.2" y="16.2" width="2.4" height="3" fill="#000"/>
<rect x="862.2" y="961.5" width="2.4" height="3" fill="#000"/>
<rect x="946.0" y="9.8" width="2.4" height="9.5" fill="#000"/>
<rect x="946.0" y="960.9" width="2.4" height="9.8" fill="#000"/>
<text class="t" x="950.2" y="1011.3" text-anchor="middle">120 km</text>
<rect x="1029.8" y="16.2" width="2.4" height="3" fill="#000"/>
<rect x="1029.8" y="961.5" width="2.4" height="3" fill="#000"/>
<rect x="1113.6" y="9.8" width="2.4" height="9.5" fill="#000"/>
<rect x="1113.6" y="960.9" width="2.4" height="9.8" fill="#000"/>
<text class="t" x="1117.8" y="1011.3" text-anchor="middle">140 km</text>
<rect x="1197.4" y="16.2" width="2.4" height="3" fill="#000"/>
<rect x="1197.4" y="961.5" width="2.4" height="3" fill="#000"/>
<rect x="1281.2" y="9.8" width="2.4" height="9.5" fill="#000"/>
<rect x="1281.2" y="960.9" width="2.4" height="9.8" fill="#000"/>
<text class="t" x="1285.4" y="1011.3" text-anchor="middle">160 km</text>
<rect x="1365.0" y="16.2" width="2.4" height="3" fill="#000"/>
<rect x="1365.0" y="961.5" width="2.4" height="3" fill="#000"/>
<rect x="1448.8" y="9.8" width="2.4" height="9.5" fill="#000"/>
<rect x="1448.8" y="960.9" width="2.4" height="9.8" fill="#000"/>
<text class="t" x="1453.0" y="1011.3" text-anchor="middle">180 km</text>
<rect x="1532.6" y="16.2" width="2.4" height="3" fill="#000"/>
<rect x="1532.6" y="961.5" width="2.4" height="3" fill="#000"/>
<rect x="1616.4" y="9.8" width="2.4" height="9.5" fill="#000"/>
<rect x="1616.4" y="960.9" width="2.4" height="9.8" fill="#000"/>
<text class="t" x="1620.6" y="1011.3" text-anchor="middle">200 km</text>
<rect x="1700.2" y="16.2" width="2.4" height="3" fill="#000"/>
<rect x="1700.2" y="961.5" width="2.4" height="3" fill="#000"/>
<rect x="1784.0" y="9.8" width="2.4" height="9.5" fill="#000"/>
<rect x="1784.0" y="960.9" width="2.4" height="9.8" fill="#000"/>
<text class="t" x="1788.2" y="1011.3" text-anchor="middle">220 km</text>
<rect x="1867.8" y="16.2" width="2.4" height="3" fill="#000"/>
<rect x="1867.8" y="961.5" width="2.4" height="3" fill="#000"/>
<rect x="1951.6" y="9.8" width="2.4" height="9.5" fill="#000"/>
<rect x="1951.6" y="960.9" width="2.4" height="9.8" fill="#000"/>
<text class="t" x="1955.8" y="1011.3" text-anchor="middle">240 km</text>
<rect x="2035.4" y="16.2" width="2.4" height="3" fill="#000"/>
<rect x="2035.4" y="961.5" width="2.4" height="3" fill="#000"/>
<rect x="142.6" y="18.1" width="9.6" height="2.4" fill="#000"/>
<rect x="2036.6" y="18.1" width="9" height="2.4" fill="#000"/>
<text class="t" x="127.6" y="30.9" text-anchor="end">0</text>
<rect x="142.6" y="206.5" width="9.6" height="2.4" fill="#000"/>
<rect x="2036.6" y="206.5" width="9" height="2.4" fill="#000"/>
<text class="t" x="127.6" y="219.4" text-anchor="end">50</text>
<rect x="142.6" y="395.0" width="9.6" height="2.4" fill="#000"/>
<rect x="2036.6" y="395.0" width="9" height="2.4" fill="#000"/>
<text class="t" x="127.6" y="407.9" text-anchor="end">100</text>
<rect x="142.6" y="583.4" width="9.6" height="2.4" fill="#000"/>
<rect x="2036.6" y="583.4" width="9" height="2.4" fill="#000"/>
<text class="t" x="127.6" y="596.3" text-anchor="end">150</text>
<rect x="142.6" y="771.9" width="9.6" height="2.4" fill="#000"/>
<rect x="2036.6" y="771.9" width="9" height="2.4" fill="#000"/>
<text class="t" x="127.6" y="784.8" text-anchor="end">200</text>
<rect x="142.6" y="960.3" width="9.6" height="2.4" fill="#000"/>
<rect x="2036.6" y="960.3" width="9" height="2.4" fill="#000"/>
<text class="t" x="127.6" y="973.2" text-anchor="end">250</text>
<text x="40" y="488.8" font-size="26.8" text-anchor="middle" stroke="#000" stroke-width="0.7" transform="rotate(-90 40 488.8)">DEPTH(m)</text>
<text x="1094" y="1060.9" font-size="26.8" text-anchor="middle" stroke="#000" stroke-width="0.7">DISTANCE</text>
<text x="28.5" y="115.3" font-size="43.5">(a)</text>
<text x="363.8" y="404.9" font-size="37" font-weight="bold" font-style="italic" textLength="315" lengthAdjust="spacingAndGlyphs">Dardanelles strait</text>
<rect x="300.00" y="934.6" width="7.75" height="15.8" fill="#7808c8"/>
<rect x="307.35" y="934.6" width="7.75" height="15.8" fill="#8010e8"/>
<rect x="314.69" y="934.6" width="7.75" height="15.8" fill="#4808e8"/>
<rect x="322.04" y="934.6" width="7.75" height="15.8" fill="#1010e8"/>
<rect x="329.38" y="934.6" width="7.75" height="15.8" fill="#0c0cd8"/>
<rect x="336.73" y="934.6" width="7.75" height="15.8" fill="#0a0ac8"/>
<rect x="344.07" y="934.6" width="7.75" height="15.8" fill="#0808b8"/>
<rect x="351.42" y="934.6" width="7.75" height="15.8" fill="#0808a0"/>
<rect x="358.76" y="934.6" width="7.75" height="15.8" fill="#0a1488"/>
<rect x="366.11" y="934.6" width="7.75" height="15.8" fill="#0a3070"/>
<rect x="373.45" y="934.6" width="7.75" height="15.8" fill="#0a5070"/>
<rect x="380.80" y="934.6" width="7.75" height="15.8" fill="#0a6070"/>
<rect x="388.15" y="934.6" width="7.75" height="15.8" fill="#0a6080"/>
<rect x="395.49" y="934.6" width="7.75" height="15.8" fill="#0a6898"/>
<rect x="402.84" y="934.6" width="7.75" height="15.8" fill="#0a80a0"/>
<rect x="410.18" y="934.6" width="7.75" height="15.8" fill="#0a88a0"/>
<rect x="417.53" y="934.6" width="7.75" height="15.8" fill="#0aa0a8"/>
<rect x="424.87" y="934.6" width="7.75" height="15.8" fill="#088088"/>
<rect x="432.22" y="934.6" width="7.75" height="15.8" fill="#087068"/>
<rect x="439.56" y="934.6" width="7.75" height="15.8" fill="#009048"/>
<rect x="446.91" y="934.6" width="7.75" height="15.8" fill="#00b038"/>
<rect x="454.25" y="934.6" width="7.75" height="15.8" fill="#00d020"/>
<rect x="461.60" y="934.6" width="7.75" height="15.8" fill="#00f010"/>
<rect x="468.95" y="934.6" width="7.75" height="15.8" fill="#00e000"/>
<rect x="476.29" y="934.6" width="7.75" height="15.8" fill="#00c800"/>
<rect x="483.64" y="934.6" width="7.75" height="15.8" fill="#00a800"/>
<rect x="490.98" y="934.6" width="7.75" height="15.8" fill="#009000"/>
<rect x="498.33" y="934.6" width="7.75" height="15.8" fill="#087000"/>
<rect x="505.67" y="934.6" width="7.75" height="15.8" fill="#489000"/>
<rect x="513.02" y="934.6" width="7.75" height="15.8" fill="#78b000"/>
<rect x="520.36" y="934.6" width="7.75" height="15.8" fill="#b0d000"/>
<rect x="527.71" y="934.6" width="7.75" height="15.8" fill="#e8f000"/>
<rect x="535.05" y="934.6" width="7.75" height="15.8" fill="#f0f000"/>
<rect x="542.40" y="934.6" width="7.75" height="15.8" fill="#d8d000"/>
<rect x="549.75" y="934.6" width="7.75" height="15.8" fill="#b0a800"/>
<rect x="557.09" y="934.6" width="7.75" height="15.8" fill="#909000"/>
<rect x="564.44" y="934.6" width="7.75" height="15.8" fill="#707000"/>
<rect x="571.78" y="934.6" width="7.75" height="15.8" fill="#886800"/>
<rect x="579.13" y="934.6" width="7.75" height="15.8" fill="#a87000"/>
<rect x="586.47" y="934.6" width="7.75" height="15.8" fill="#c87800"/>
<rect x="593.82" y="934.6" width="7.75" height="15.8" fill="#e88000"/>
<rect x="601.16" y="934.6" width="7.75" height="15.8" fill="#ff8000"/>
<rect x="608.51" y="934.6" width="7.75" height="15.8" fill="#e87000"/>
<rect x="615.85" y="934.6" width="7.75" height="15.8" fill="#c86000"/>
<rect x="623.20" y="934.6" width="7.75" height="15.8" fill="#a85000"/>
<rect x="630.55" y="934.6" width="7.75" height="15.8" fill="#884000"/>
<rect x="637.89" y="934.6" width="7.75" height="15.8" fill="#983000"/>
<rect x="645.24" y="934.6" width="7.75" height="15.8" fill="#b82800"/>
<rect x="652.58" y="934.6" width="7.75" height="15.8" fill="#d01800"/>
<rect x="659.93" y="934.6" width="7.75" height="15.8" fill="#e80800"/>
<rect x="667.27" y="934.6" width="7.75" height="15.8" fill="#ff0000"/>
<rect x="674.62" y="934.6" width="7.75" height="15.8" fill="#e00000"/>
<rect x="681.96" y="934.6" width="7.75" height="15.8" fill="#c80000"/>
<rect x="689.31" y="934.6" width="7.75" height="15.8" fill="#ad0000"/>
<rect x="696.65" y="934.6" width="7.75" height="15.8" fill="#900000"/>
<rect x="300.0" y="934.6" width="404.0" height="15.8" fill="none" stroke="#000" stroke-width="1.2"/>
<rect x="323.2" y="925.4" width="2.2" height="9.2" fill="#000"/>
<text class="c" x="325.3" y="907.6" text-anchor="middle">24</text>
<rect x="396.5" y="925.4" width="2.2" height="9.2" fill="#000"/>
<text class="c" x="398.6" y="907.6" text-anchor="middle">27</text>
<rect x="469.9" y="925.4" width="2.2" height="9.2" fill="#000"/>
<text class="c" x="472.0" y="907.6" text-anchor="middle">30</text>
<rect x="543.2" y="925.4" width="2.2" height="9.2" fill="#000"/>
<text class="c" x="545.3" y="907.6" text-anchor="middle">33</text>
<rect x="616.6" y="925.4" width="2.2" height="9.2" fill="#000"/>
<text class="c" x="618.7" y="907.6" text-anchor="middle">36</text>
<rect x="689.9" y="925.4" width="2.2" height="9.2" fill="#000"/>
<text class="c" x="692.0" y="907.6" text-anchor="middle">39</text>
<text x="723" y="950.5" font-size="33" font-weight="bold" font-style="italic">psu</text>
</g>
<g clip-path="url(#cb)">
<g transform="translate(0,1097.7)">
<defs><g id="bandsB">
<rect x="138.2" y="5.2" width="1912.4" height="970.2" fill="#e00000"/>
<polygon points="138.2,5.2 2050.6,5.2 2050.6,963.5 138.2,963.5" fill="#0a1488" />
<polygon points="138.2,5.2 1068.3,5.2 1069.1,68.2 1071.9,68.3 1114.5,69.8 1157.2,70.5 1175.3,69.7 1176.4,5.2 2050.6,5.2 2050.6,963.5 138.2,963.5" fill="#0a3070" />
<polygon points="138.2,5.2 1045.2,5.2 1046.3,67.3 1068.3,68.2 1069.1,68.5 1071.9,68.6 1114.5,70.1 1157.2,70.7 1175.3,70.0 1176.4,69.7 1190.2,69.1 1191.3,5.2 2050.6,5.2 2050.6,963.5 138.2,963.5" fill="#0a5070" />
<polygon points="138.2,5.2 1045.2,5.2 1046.3,67.6 1068.3,68.5 1069.1,68.7 1071.9,68.8 1114.5,70.3 1157.2,71.0 1175.3,70.2 1176.4,70.0 1190.2,69.5 1191.3,5.2 1224.3,5.2 1225.4,68.7 1242.5,68.5 1244.6,5.2 2050.6,5.2 2050.6,963.5 138.2,963.5" fill="#0a6070" />
<polygon points="138.2,5.2 377.6,5.2 392.5,19.2 411.2,19.9 418.7,5.2 1031.8,5.2 1032.7,66.9 1045.2,67.4 1046.3,67.9 1068.3,68.8 1069.1,69.0 1071.9,69.1 1114.5,70.6 1157.2,71.2 1175.3,70.5 1176.4,70.3 1190.2,69.8 1191.3,69.2 1195.6,5.2 1199.8,18.8 1204.1,68.9 1212.6,68.7 1221.2,5.2 1224.3,5.2 1225.4,69.1 1242.5,68.9 1244.6,5.2 2050.6,5.2 2050.6,963.5 138.2,963.5" fill="#0a6080" />
<polygon points="138.2,5.2 364.6,5.2 377.6,18.8 392.5,22.1 411.2,23.6 418.7,5.2 1031.8,5.2 1032.7,67.6 1045.2,68.1 1046.3,68.3 1068.3,69.1 1069.1,69.2 1071.9,69.3 1114.5,70.8 1157.2,71.5 1175.3,70.7 1176.4,70.6 1190.2,70.1 1191.3,69.9 1195.6,69.3 1199.8,69.4 1204.1,69.5 1212.6,69.4 1221.2,5.2 1224.3,5.2 1225.4,69.4 1242.5,69.3 1244.6,5.2 2050.6,5.2 2050.6,963.5 138.2,963.5" fill="#0a6898" />
<polygon points="138.2,5.2 329.1,5.2 345.9,20.8 364.6,22.3 377.6,22.2 392.5,26.0 411.2,27.5 418.7,21.7 441.0,21.4 470.9,5.2 973.8,5.2 974.9,56.3 975.9,56.6 981.3,57.5 982.3,5.2 1031.8,5.2 1032.7,68.2 1045.2,68.7 1046.3,68.7 1068.3,69.6 1069.1,69.6 1071.9,69.7 1114.5,71.2 1157.2,71.9 1175.3,71.1 1176.4,71.1 1190.2,70.5 1191.3,70.5 1195.6,70.3 1199.8,70.2 1204.1,70.1 1212.6,70.0 1221.2,69.9 1224.3,69.9 1225.4,69.9 1242.5,69.7 1244.6,5.2 1895.9,5.2 1906.5,19.7 1917.2,20.5 1938.5,20.5 1949.2,5.2 1953.4,19.5 1981.2,23.0 2013.1,5.2 2050.6,5.2 2050.6,963.5 138.2,963.5" fill="#0a80a0" />
<polygon points="138.2,5.2 291.8,5.2 310.4,19.8 329.1,21.9 345.9,27.1 364.6,29.5 377.6,29.1 392.5,31.0 411.2,31.9 418.7,27.7 441.0,26.7 470.9,24.4 485.8,23.6 498.9,24.4 500.0,24.4 502.1,24.1 512.8,22.7 523.5,22.3 538.4,23.6 553.3,24.4 570.4,23.6 602.3,22.3 627.9,23.6 659.9,24.4 681.2,24.0 713.2,24.9 730.3,23.2 777.2,24.9 809.2,23.6 841.2,21.5 871.0,5.2 909.9,5.2 922.6,33.6 935.4,39.1 944.0,45.0 950.4,49.5 973.8,56.4 974.9,57.2 975.9,57.5 981.3,58.3 982.3,57.7 999.4,5.2 1007.9,62.1 1016.5,5.2 1031.8,5.2 1032.7,68.7 1045.2,69.2 1046.3,69.3 1068.3,70.2 1069.1,70.2 1071.9,70.3 1114.5,71.8 1157.2,72.4 1175.3,71.7 1176.4,71.7 1190.2,71.1 1191.3,71.1 1195.6,70.9 1199.8,70.7 1204.1,70.7 1212.6,70.6 1221.2,70.5 1224.3,70.5 1225.4,70.5 1242.5,70.3 1244.6,66.6 1253.1,5.2 1874.5,5.2 1895.9,18.8 1906.5,22.7 1917.2,24.1 1938.5,25.7 1949.2,27.1 1953.4,28.6 1981.2,31.5 2013.1,24.1 2050.6,29.2 2050.6,963.5 138.2,963.5" fill="#0a88a0" />
<polygon points="138.2,5.2 275.9,5.2 278.7,18.8 280.6,21.5 291.8,21.5 310.4,22.9 329.1,26.7 345.9,33.4 364.6,36.7 377.6,36.0 392.5,35.9 411.2,36.2 418.7,33.6 441.0,32.0 470.9,30.0 485.8,28.5 498.9,30.0 500.0,30.1 502.1,29.6 512.8,26.7 523.5,25.9 538.4,28.4 553.3,30.1 570.4,28.4 602.3,25.9 627.9,28.4 659.9,30.1 681.2,29.3 713.2,31.0 730.3,27.6 777.2,31.0 809.2,28.4 841.2,25.6 871.0,24.0 880.0,5.2 901.3,5.2 909.9,28.0 922.6,35.2 935.4,40.6 944.0,46.4 950.4,50.9 973.8,57.6 974.9,58.1 975.9,58.4 981.3,59.2 982.3,59.1 999.4,61.3 1007.9,63.2 1016.5,64.3 1029.3,68.2 1031.8,68.3 1032.7,69.3 1045.2,69.8 1046.3,69.8 1068.3,70.7 1069.1,70.8 1071.9,70.9 1114.5,72.4 1157.2,73.0 1175.3,72.3 1176.4,72.2 1190.2,71.7 1191.3,71.6 1195.6,71.5 1199.8,71.3 1204.1,71.2 1212.6,71.2 1221.2,71.1 1224.3,71.0 1225.4,71.0 1242.5,70.9 1244.6,66.6 1253.1,5.2 1874.5,5.2 1895.9,18.8 1906.5,25.7 1917.2,27.6 1938.5,31.0 1949.2,35.5 1953.4,37.6 1981.2,40.0 2013.1,40.4 2050.6,44.9 2050.6,963.5 138.2,963.5" fill="#0aa0a8" />
<polygon points="138.2,5.2 275.9,5.2 278.7,18.8 280.6,24.0 291.8,24.1 310.4,25.0 329.1,30.0 345.9,37.8 364.6,41.5 377.6,40.6 392.5,39.5 411.2,39.4 418.7,37.9 441.0,36.2 470.9,34.2 485.8,33.7 498.9,35.0 500.0,35.1 502.1,34.2 512.8,29.4 523.5,28.4 538.4,31.9 553.3,33.9 570.4,31.7 602.3,28.5 627.9,31.7 659.9,33.9 681.2,32.6 713.2,34.9 730.3,30.5 777.2,34.8 809.2,31.6 841.2,28.4 871.0,27.5 880.0,5.2 901.3,19.9 909.9,30.1 922.6,36.2 935.4,41.5 944.0,47.4 950.4,51.8 973.8,58.4 974.9,58.7 975.9,59.0 981.3,59.8 982.3,60.0 999.4,62.6 1007.9,63.9 1016.5,66.2 1029.3,69.7 1031.8,69.8 1032.7,69.8 1045.2,70.3 1046.3,70.4 1068.3,71.3 1069.1,71.3 1071.9,71.4 1114.5,72.9 1157.2,73.5 1175.3,72.8 1176.4,72.8 1190.2,72.2 1191.3,72.2 1195.6,72.0 1199.8,71.8 1204.1,71.8 1212.6,71.7 1221.2,71.6 1224.3,71.6 1225.4,71.6 1242.5,71.4 1244.6,66.6 1253.1,60.1 1257.4,5.2 1863.9,5.2 1874.5,20.0 1895.9,20.6 1906.5,27.9 1917.2,30.1 1938.5,34.3 1949.2,40.4 1953.4,42.8 1981.2,44.9 2013.1,49.2 2050.6,53.3 2050.6,963.5 138.2,963.5" fill="#088088" />
<polygon points="138.2,5.2 275.9,5.2 278.7,18.8 280.6,24.9 291.8,25.4 310.4,26.3 329.1,31.9 345.9,40.3 364.6,44.0 377.6,42.9 392.5,41.7 411.2,41.2 418.7,40.7 441.0,39.3 470.9,36.9 485.8,39.3 498.9,39.4 500.0,39.4 502.1,38.0 512.8,30.9 523.5,29.8 538.4,34.0 553.3,35.6 570.4,33.5 602.3,30.3 627.9,33.5 659.9,35.6 681.2,34.0 713.2,36.7 730.3,31.9 777.2,36.2 809.2,33.2 841.2,29.8 871.0,29.3 880.0,5.2 901.3,23.5 909.9,31.0 922.6,36.7 935.4,42.0 944.0,47.9 950.4,52.3 973.8,58.9 974.9,59.2 975.9,59.5 981.3,60.3 982.3,60.5 999.4,63.1 1007.9,64.4 1016.5,66.7 1029.3,70.2 1031.8,70.3 1032.7,70.3 1045.2,70.8 1046.3,70.9 1068.3,71.7 1069.1,71.8 1071.9,71.9 1114.5,73.4 1157.2,74.0 1175.3,73.3 1176.4,73.3 1190.2,72.7 1191.3,72.7 1195.6,72.5 1199.8,72.3 1204.1,72.3 1212.6,72.2 1221.2,72.1 1224.3,72.1 1225.4,72.1 1242.5,71.9 1244.6,66.6 1253.1,60.1 1257.4,5.2 1853.2,5.2 1863.9,18.8 1874.5,22.5 1895.9,24.2 1906.5,29.4 1917.2,31.5 1938.5,35.8 1949.2,41.7 1953.4,44.1 1981.2,46.2 2013.1,50.5 2050.6,54.4 2050.6,963.5 138.2,963.5" fill="#087068" />
<polygon points="138.2,5.2 275.9,5.2 278.7,18.8 280.6,25.8 291.8,26.6 310.4,27.5 329.1,33.8 345.9,42.8 364.6,46.5 377.6,45.3 392.5,43.9 411.2,43.1 418.7,43.4 441.0,42.3 470.9,39.7 485.8,44.8 498.9,43.7 500.0,43.6 502.1,41.7 512.8,32.3 523.5,31.2 538.4,36.2 553.3,37.4 570.4,35.3 602.3,32.1 627.9,35.3 659.9,37.4 681.2,35.5 713.2,38.5 730.3,33.3 777.2,37.6 809.2,34.8 841.2,31.2 871.0,31.0 880.0,22.5 901.3,27.1 909.9,31.9 922.6,37.2 935.4,42.5 944.0,48.4 950.4,52.8 973.8,59.4 974.9,59.7 975.9,60.0 981.3,60.8 982.3,61.0 999.4,63.6 1007.9,64.9 1016.5,67.2 1029.3,70.7 1031.8,70.8 1032.7,70.8 1045.2,71.3 1046.3,71.4 1068.3,72.2 1069.1,72.3 1071.9,72.4 1114.5,73.9 1157.2,74.5 1175.3,73.8 1176.4,73.8 1190.2,73.2 1191.3,73.2 1195.6,73.0 1199.8,72.8 1204.1,72.8 1212.6,72.7 1221.2,72.6 1224.3,72.6 1225.4,72.6 1242.5,72.4 1244.6,66.6 1253.1,60.1 1257.4,56.9 1260.0,54.9 1263.8,5.2 1853.2,5.2 1863.9,18.8 1874.5,24.9 1895.9,27.9 1906.5,30.8 1917.2,32.9 1938.5,37.2 1949.2,43.0 1953.4,45.3 1981.2,47.5 2013.1,51.7 2050.6,55.5 2050.6,963.5 138.2,963.5" fill="#009048" />
<polygon points="138.2,5.2 275.9,5.2 278.7,23.3 280.6,29.6 291.8,31.0 310.4,32.0 329.1,38.1 345.9,46.2 364.6,49.3 377.6,48.0 392.5,46.5 411.2,44.9 418.7,45.1 441.0,44.2 470.9,41.4 485.8,47.9 498.9,46.3 500.0,46.1 502.1,44.0 512.8,33.3 523.5,32.3 538.4,37.6 553.3,38.7 570.4,36.5 602.3,33.3 627.9,36.5 659.9,38.7 681.2,36.5 713.2,39.7 730.3,34.4 777.2,38.7 809.2,35.9 841.2,32.3 871.0,32.3 880.0,29.0 901.3,29.7 909.9,32.9 922.6,37.7 935.4,43.0 944.0,48.9 950.4,53.3 973.8,59.9 974.9,60.2 975.9,60.5 981.3,61.3 982.3,61.5 999.4,64.1 1007.9,65.4 1016.5,67.7 1029.3,71.2 1031.8,71.3 1032.7,71.3 1045.2,71.8 1046.3,71.9 1068.3,72.7 1069.1,72.8 1071.9,72.9 1114.5,74.4 1157.2,75.0 1175.3,74.3 1176.4,74.3 1190.2,73.7 1191.3,73.7 1195.6,73.5 1199.8,73.3 1204.1,73.3 1212.6,73.2 1221.2,73.1 1224.3,73.1 1225.4,73.1 1242.5,72.9 1244.6,67.7 1253.1,61.7 1257.4,58.7 1260.0,56.9 1263.8,63.5 1270.2,5.2 1283.5,5.2 1287.7,50.0 1301.6,55.4 1302.6,5.2 1853.2,5.2 1863.9,20.4 1874.5,26.9 1895.9,30.4 1906.5,32.1 1917.2,34.2 1938.5,38.4 1949.2,44.1 1953.4,46.4 1981.2,48.5 2013.1,52.8 2050.6,56.4 2050.6,963.5 138.2,963.5" fill="#00b038" />
<polygon points="138.2,5.2 275.9,5.2 278.7,32.3 280.6,36.1 291.8,38.4 310.4,39.8 329.1,44.9 345.9,50.5 364.6,52.4 377.6,51.1 392.5,49.6 411.2,46.8 418.7,45.8 441.0,44.9 470.9,42.1 485.8,48.6 498.9,47.0 500.0,46.8 502.1,44.7 512.8,34.0 523.5,33.0 538.4,38.3 553.3,39.4 570.4,37.2 602.3,34.0 627.9,37.2 659.9,39.4 681.2,37.2 713.2,40.4 730.3,35.1 777.2,39.4 809.2,36.6 841.2,33.0 871.0,33.0 880.0,30.4 901.3,31.3 909.9,34.0 922.6,38.2 935.4,43.5 944.0,49.4 950.4,53.8 973.8,60.4 974.9,60.7 975.9,61.0 981.3,61.8 982.3,62.0 999.4,64.6 1007.9,65.9 1016.5,68.2 1029.3,71.7 1031.8,71.8 1032.7,71.8 1045.2,72.3 1046.3,72.4 1068.3,73.2 1069.1,73.3 1071.9,73.4 1114.5,74.9 1157.2,75.5 1175.3,74.8 1176.4,74.8 1190.2,74.2 1191.3,74.2 1195.6,74.0 1199.8,73.8 1204.1,73.8 1212.6,73.7 1221.2,73.6 1224.3,73.6 1225.4,73.6 1242.5,73.4 1244.6,69.9 1253.1,64.9 1257.4,62.3 1260.0,60.8 1263.8,65.6 1270.2,58.9 1276.0,56.5 1281.3,5.2 1283.5,49.1 1287.7,53.5 1301.6,57.3 1302.6,56.6 1303.7,5.2 1842.6,5.2 1853.2,22.1 1863.9,23.8 1874.5,28.3 1895.9,31.7 1906.5,33.4 1917.2,35.4 1938.5,39.5 1949.2,45.0 1953.4,47.3 1981.2,49.2 2013.1,53.7 2050.6,57.1 2050.6,963.5 138.2,963.5" fill="#00d020" />
<polygon points="138.2,5.2 275.9,5.2 278.7,41.4 280.6,42.6 291.8,45.9 310.4,47.6 329.1,51.8 345.9,54.9 364.6,55.5 377.6,54.2 392.5,52.7 411.2,48.7 418.7,46.5 441.0,45.5 470.9,42.7 485.8,49.3 498.9,47.7 500.0,47.6 502.1,45.4 512.8,34.8 523.5,33.7 538.4,39.0 553.3,40.1 570.4,38.0 602.3,34.8 627.9,38.0 659.9,40.1 681.2,38.0 713.2,41.2 730.3,35.8 777.2,40.1 809.2,37.3 841.2,33.7 871.0,33.7 880.0,31.8 901.3,32.8 909.9,35.2 922.6,38.7 935.4,44.0 944.0,49.9 950.4,54.3 973.8,60.9 974.9,61.2 975.9,61.5 981.3,62.3 982.3,62.5 999.4,65.1 1007.9,66.4 1016.5,68.7 1029.3,72.2 1031.8,72.3 1032.7,72.3 1045.2,72.8 1046.3,72.9 1068.3,73.7 1069.1,73.8 1071.9,73.9 1114.5,75.4 1157.2,76.0 1175.3,75.3 1176.4,75.2 1190.2,74.7 1191.3,74.7 1195.6,74.5 1199.8,74.3 1204.1,74.3 1212.6,74.2 1221.2,74.1 1224.3,74.1 1225.4,74.1 1242.5,73.9 1244.6,72.1 1253.1,68.0 1257.4,66.0 1260.0,64.7 1263.8,67.7 1270.2,63.2 1276.0,60.3 1281.3,54.5 1283.5,55.1 1287.7,56.9 1301.6,59.2 1302.6,59.0 1303.7,57.2 1316.5,5.2 1842.6,5.2 1853.2,25.5 1863.9,27.1 1874.5,29.7 1895.9,33.0 1906.5,34.7 1917.2,36.6 1938.5,40.6 1949.2,46.0 1953.4,48.1 1981.2,49.9 2013.1,54.5 2050.6,57.8 2050.6,963.5 138.2,963.5" fill="#00f010" />
<polygon points="138.2,5.2 237.7,5.2 239.6,23.9 254.5,27.2 265.7,33.8 273.1,48.4 275.9,48.5 278.7,48.6 280.6,48.7 291.8,51.5 310.4,52.4 329.1,56.1 345.9,57.9 364.6,57.9 377.6,56.6 392.5,55.2 411.2,50.4 418.7,47.3 441.0,46.3 470.9,43.5 485.8,50.1 498.9,48.6 500.0,48.4 502.1,46.3 512.8,35.6 523.5,34.6 538.4,40.1 553.3,41.2 570.4,38.8 602.3,35.4 627.9,38.7 659.9,40.9 681.2,38.7 713.2,41.9 730.3,36.9 777.2,40.9 809.2,38.1 841.2,34.4 871.0,34.4 880.0,32.9 901.3,34.0 909.9,36.3 922.6,39.8 935.4,45.0 944.0,50.5 950.4,54.7 973.8,61.3 974.9,61.6 975.9,61.9 981.3,62.7 982.3,62.9 999.4,65.5 1007.9,66.8 1016.5,69.1 1029.3,72.6 1031.8,72.7 1032.7,72.7 1045.2,73.2 1046.3,73.2 1068.3,74.1 1069.1,74.2 1071.9,74.3 1114.5,75.8 1157.2,76.4 1175.3,75.7 1176.4,75.6 1190.2,75.1 1191.3,75.0 1195.6,74.9 1199.8,74.7 1204.1,74.6 1212.6,74.6 1221.2,74.5 1224.3,74.4 1225.4,74.4 1242.5,74.3 1244.6,73.4 1253.1,69.8 1257.4,67.9 1260.0,66.8 1263.8,69.0 1270.2,65.6 1276.0,62.4 1281.3,59.5 1283.5,58.4 1287.7,58.9 1301.6,60.4 1302.6,60.6 1303.7,60.6 1316.5,60.5 1317.6,5.2 1831.9,5.2 1842.6,18.8 1853.2,27.8 1863.9,29.3 1874.5,30.9 1895.9,34.1 1906.5,35.7 1917.2,37.6 1938.5,41.4 1949.2,46.7 1953.4,48.8 1981.2,50.5 2013.1,55.2 2050.6,58.4 2050.6,963.5 138.2,963.5" fill="#00e000" />
<polygon points="138.2,5.2 187.3,5.2 198.5,23.2 206.0,23.6 224.6,24.3 237.7,29.7 239.6,34.2 254.5,34.7 265.7,39.4 273.1,53.3 275.9,53.7 278.7,54.0 280.6,54.3 291.8,55.2 310.4,54.3 329.1,58.0 345.9,59.4 364.6,59.4 377.6,58.3 392.5,57.1 411.2,51.9 418.7,48.2 441.0,47.3 470.9,44.5 485.8,51.0 498.9,49.6 500.0,49.5 502.1,47.4 512.8,36.7 523.5,35.6 538.4,41.5 553.3,42.6 570.4,39.9 602.3,36.0 627.9,39.4 659.9,41.8 681.2,39.4 713.2,42.8 730.3,38.3 777.2,41.8 809.2,39.1 841.2,35.1 871.0,35.1 880.0,33.6 901.3,34.8 909.9,37.5 922.6,41.5 935.4,46.5 944.0,51.3 950.4,55.0 973.8,61.6 974.9,61.9 975.9,62.2 981.3,63.0 982.3,63.1 999.4,65.8 1007.9,67.1 1016.5,69.4 1029.3,72.8 1031.8,72.9 1032.7,72.9 1045.2,73.5 1046.3,73.5 1068.3,74.4 1069.1,74.4 1071.9,74.5 1114.5,76.0 1157.2,76.6 1175.3,75.9 1176.4,75.9 1190.2,75.3 1191.3,75.3 1195.6,75.1 1199.8,74.9 1204.1,74.9 1212.6,74.8 1221.2,74.7 1224.3,74.7 1225.4,74.7 1242.5,74.5 1244.6,73.6 1253.1,70.1 1257.4,68.3 1260.0,67.2 1263.8,69.4 1270.2,66.0 1276.0,62.9 1281.3,60.0 1283.5,58.9 1287.7,59.4 1301.6,61.0 1302.6,61.1 1303.7,61.1 1316.5,60.8 1317.6,5.2 1625.7,5.2 1627.8,46.1 1635.3,47.2 1640.0,49.0 1661.3,5.2 1831.9,5.2 1842.6,18.8 1853.2,28.8 1863.9,30.3 1874.5,31.8 1895.9,34.9 1906.5,36.4 1917.2,38.3 1938.5,42.2 1949.2,47.2 1953.4,49.2 1981.2,51.0 2013.1,55.8 2050.6,59.0 2050.6,963.5 138.2,963.5" fill="#00c800" />
<polygon points="138.2,5.2 170.5,5.2 187.3,31.0 198.5,36.8 206.0,38.5 224.6,41.2 237.7,43.0 239.6,44.5 254.5,42.2 265.7,44.9 273.1,58.3 275.9,58.9 278.7,59.5 280.6,59.9 291.8,58.9 310.4,56.1 329.1,59.9 345.9,61.0 364.6,61.0 377.6,60.0 392.5,58.9 411.2,53.5 418.7,49.1 441.0,48.2 470.9,45.4 485.8,51.9 498.9,50.7 500.0,50.6 502.1,48.4 512.8,37.8 523.5,36.7 538.4,42.9 553.3,44.0 570.4,41.0 602.3,36.5 627.9,40.1 659.9,42.8 681.2,40.1 713.2,43.6 730.3,39.7 777.2,42.8 809.2,40.0 841.2,35.8 871.0,35.8 880.0,34.4 901.3,35.5 909.9,38.6 922.6,43.2 935.4,48.0 944.0,52.2 950.4,55.3 973.8,61.8 974.9,62.1 975.9,62.4 981.3,63.2 982.3,63.4 999.4,66.1 1007.9,67.4 1016.5,69.7 1029.3,73.1 1031.8,73.2 1032.7,73.2 1045.2,73.7 1046.3,73.7 1068.3,74.6 1069.1,74.7 1071.9,74.8 1114.5,76.3 1157.2,76.9 1175.3,76.2 1176.4,76.1 1190.2,75.6 1191.3,75.5 1195.6,75.4 1199.8,75.2 1204.1,75.2 1212.6,75.1 1221.2,75.0 1224.3,75.0 1225.4,74.9 1242.5,74.8 1244.6,73.9 1253.1,70.4 1257.4,68.6 1260.0,67.6 1263.8,69.9 1270.2,66.5 1276.0,63.4 1281.3,60.5 1283.5,59.4 1287.7,59.9 1301.6,61.6 1302.6,61.7 1303.7,61.7 1316.5,61.2 1317.6,5.2 1578.8,5.2 1580.9,44.3 1586.2,45.6 1593.7,45.3 1595.8,5.2 1625.7,5.2 1627.8,48.8 1635.3,51.7 1640.0,53.0 1661.3,45.8 1667.7,5.2 1831.9,5.2 1842.6,18.8 1853.2,29.9 1863.9,31.3 1874.5,32.7 1895.9,35.6 1906.5,37.1 1917.2,39.0 1938.5,42.9 1949.2,47.7 1953.4,49.6 1981.2,51.5 2013.1,56.4 2050.6,59.6 2050.6,963.5 138.2,963.5" fill="#00a800" />
<polygon points="138.2,5.2 167.7,5.2 170.5,29.7 187.3,45.9 198.5,48.7 206.0,50.5 224.6,53.8 237.7,53.0 239.6,52.9 254.5,48.7 265.7,49.6 273.1,62.2 275.9,62.9 278.7,63.6 280.6,64.1 291.8,61.7 310.4,57.8 329.1,61.5 345.9,62.4 364.6,62.4 377.6,61.6 392.5,60.6 411.2,55.0 418.7,50.1 441.0,49.1 470.9,46.3 485.8,52.9 498.9,51.7 500.0,51.6 502.1,49.5 512.8,38.8 523.5,37.8 538.4,44.2 553.3,45.2 570.4,42.0 602.3,37.2 627.9,40.8 659.9,43.6 681.2,40.8 713.2,44.5 730.3,41.0 777.2,43.6 809.2,40.8 841.2,36.4 871.0,36.6 880.0,35.1 901.3,36.3 909.9,39.8 922.6,44.9 935.4,49.5 944.0,53.0 950.4,55.6 973.8,62.1 974.9,62.4 975.9,62.7 981.3,63.5 982.3,63.7 999.4,66.4 1007.9,67.7 1016.5,70.0 1029.3,73.3 1031.8,73.4 1032.7,73.5 1045.2,74.0 1046.3,74.0 1068.3,74.9 1069.1,74.9 1071.9,75.0 1114.5,76.5 1157.2,77.2 1175.3,76.4 1176.4,76.4 1190.2,75.8 1191.3,75.8 1195.6,75.6 1199.8,75.5 1204.1,75.4 1212.6,75.3 1221.2,75.2 1224.3,75.2 1225.4,75.2 1242.5,75.0 1244.6,74.2 1253.1,70.8 1257.4,69.0 1260.0,68.0 1263.8,70.3 1270.2,66.9 1276.0,63.9 1281.3,61.1 1283.5,60.0 1287.7,60.5 1301.6,62.2 1302.6,62.4 1303.7,62.3 1316.5,61.7 1317.6,5.2 1578.8,5.2 1580.9,45.4 1586.2,48.0 1593.7,47.5 1595.8,5.2 1604.3,5.2 1606.5,45.1 1611.8,45.2 1617.1,45.2 1619.3,5.2 1625.7,5.2 1627.8,50.8 1635.3,54.7 1640.0,55.7 1661.3,51.5 1667.7,5.2 1825.5,5.2 1831.9,21.1 1842.6,21.7 1853.2,31.0 1863.9,32.3 1874.5,33.6 1895.9,36.4 1906.5,37.8 1917.2,39.7 1938.5,43.5 1949.2,48.2 1953.4,50.0 1981.2,52.0 2013.1,56.9 2050.6,60.1 2050.6,963.5 138.2,963.5" fill="#009000" />
<polygon points="138.2,46.2 167.7,46.2 170.5,51.7 187.3,57.1 198.5,58.8 206.0,59.9 224.6,62.2 237.7,59.8 239.6,59.4 254.5,54.3 265.7,53.3 273.1,65.0 275.9,65.7 278.7,66.4 280.6,66.9 291.8,63.6 310.4,59.2 329.1,62.9 345.9,63.8 364.6,63.8 377.6,63.0 392.5,62.0 411.2,56.4 418.7,51.0 441.0,50.1 470.9,47.3 485.8,53.8 498.9,52.8 500.0,52.7 502.1,50.6 512.8,39.9 523.5,38.8 538.4,45.2 553.3,46.3 570.4,43.1 602.3,37.9 627.9,41.6 659.9,44.3 681.2,41.6 713.2,45.3 730.3,42.0 777.2,44.3 809.2,41.6 841.2,37.0 871.0,37.3 880.0,35.8 901.3,37.1 909.9,40.9 922.6,46.6 935.4,51.0 944.0,53.8 950.4,55.9 973.8,62.3 974.9,62.6 975.9,62.9 981.3,63.8 982.3,63.9 999.4,66.7 1007.9,68.0 1016.5,70.2 1029.3,73.6 1031.8,73.7 1032.7,73.7 1045.2,74.2 1046.3,74.3 1068.3,75.1 1069.1,75.2 1071.9,75.3 1114.5,76.8 1157.2,77.4 1175.3,76.7 1176.4,76.6 1190.2,76.1 1191.3,76.1 1195.6,75.9 1199.8,75.7 1204.1,75.7 1212.6,75.6 1221.2,75.5 1224.3,75.5 1225.4,75.5 1242.5,75.3 1244.6,74.5 1253.1,71.2 1257.4,69.5 1260.0,68.5 1263.8,70.7 1270.2,67.4 1276.0,64.4 1281.3,61.7 1283.5,60.6 1287.7,61.2 1301.6,63.0 1302.6,63.1 1303.7,63.0 1316.5,62.2 1317.6,5.2 1540.4,5.2 1542.5,44.7 1543.6,46.0 1555.3,47.3 1556.8,5.2 1561.7,5.2 1563.2,46.7 1569.2,45.6 1578.8,46.0 1580.9,47.8 1586.2,49.1 1593.7,48.5 1595.8,46.1 1601.2,46.0 1604.3,46.1 1606.5,47.8 1611.8,48.2 1617.1,48.2 1619.3,46.4 1622.5,46.4 1625.7,47.1 1627.8,52.1 1635.3,56.3 1640.0,57.3 1661.3,57.3 1667.7,41.2 1674.1,5.2 1825.5,5.2 1831.9,25.9 1842.6,27.5 1853.2,32.0 1863.9,33.2 1874.5,34.3 1895.9,37.1 1906.5,38.4 1917.2,40.3 1938.5,44.0 1949.2,48.6 1953.4,50.5 1981.2,52.5 2013.1,57.4 2050.6,60.6 2050.6,963.5 138.2,963.5" fill="#087000" />
<polygon points="138.2,63.3 167.7,63.3 170.5,63.4 187.3,63.5 198.5,64.8 206.0,65.7 224.6,67.4 237.7,64.4 239.6,63.9 254.5,58.1 265.7,56.5 273.1,67.4 275.9,67.9 278.7,68.4 280.6,68.7 291.8,65.0 310.4,60.6 329.1,64.1 345.9,65.0 364.6,64.8 377.6,64.0 392.5,63.0 411.2,57.3 418.7,51.8 441.0,50.9 470.9,48.1 485.8,54.6 498.9,53.7 500.0,53.6 502.1,51.5 512.8,40.9 523.5,39.9 538.4,46.4 553.3,47.2 570.4,43.9 602.3,38.5 627.9,42.2 659.9,44.9 681.2,42.2 713.2,46.0 730.3,42.9 777.2,44.9 809.2,42.2 841.2,37.5 871.0,37.9 880.0,36.5 901.3,37.7 909.9,41.8 922.6,47.8 935.4,51.9 944.0,54.3 950.4,56.2 973.8,62.6 974.9,62.9 975.9,63.2 981.3,64.1 982.3,64.2 999.4,67.0 1007.9,68.4 1016.5,70.6 1029.3,73.9 1031.8,74.0 1032.7,74.0 1045.2,74.5 1046.3,74.6 1068.3,75.4 1069.1,75.5 1071.9,75.6 1114.5,77.1 1157.2,77.7 1175.3,77.0 1176.4,76.9 1190.2,76.4 1191.3,76.3 1195.6,76.2 1199.8,76.0 1204.1,76.0 1212.6,75.9 1221.2,75.8 1224.3,75.8 1225.4,75.7 1242.5,75.6 1244.6,74.8 1253.1,71.6 1257.4,70.0 1260.0,69.0 1263.8,71.2 1270.2,67.9 1276.0,65.0 1281.3,62.3 1283.5,61.2 1287.7,61.8 1301.6,63.6 1302.6,63.8 1303.7,63.7 1316.5,62.8 1317.6,5.2 1540.4,5.2 1542.5,45.7 1543.6,49.0 1555.3,49.7 1556.8,5.2 1561.7,5.2 1563.2,49.0 1569.2,48.0 1578.8,49.1 1580.9,49.3 1586.2,50.0 1593.7,49.5 1595.8,49.4 1601.2,49.0 1604.3,49.3 1606.5,49.6 1611.8,50.1 1617.1,50.1 1619.3,50.2 1622.5,50.2 1625.7,52.0 1627.8,53.2 1635.3,57.4 1640.0,58.6 1661.3,60.7 1667.7,58.8 1674.1,22.2 1682.6,5.2 1825.5,5.2 1831.9,28.8 1842.6,30.8 1853.2,32.8 1863.9,33.9 1874.5,34.9 1895.9,37.6 1906.5,39.0 1917.2,40.8 1938.5,44.5 1949.2,49.0 1953.4,50.8 1981.2,53.0 2013.1,57.9 2050.6,61.2 2050.6,963.5 138.2,963.5" fill="#489000" />
<polygon points="138.2,64.5 167.7,64.5 170.5,64.8 187.3,65.2 198.5,66.8 206.0,68.0 224.6,69.5 237.7,66.8 239.6,66.4 254.5,60.2 265.7,58.9 273.1,69.5 280.6,69.5 291.8,65.8 310.4,62.1 329.1,65.2 345.9,65.8 364.6,65.5 377.6,64.6 392.5,63.6 411.2,57.7 418.7,52.4 441.0,51.5 470.9,48.7 485.8,55.2 498.9,54.4 500.0,54.3 502.1,52.2 512.8,41.9 523.5,40.8 538.4,47.6 553.3,47.9 570.4,44.5 602.3,39.0 627.9,42.6 659.9,45.4 681.2,42.6 713.2,46.5 730.3,43.5 777.2,45.4 809.2,42.6 841.2,38.0 871.0,38.4 880.0,37.1 901.3,38.3 909.9,42.4 922.6,48.5 935.4,52.2 944.0,54.7 950.4,56.5 973.8,63.0 974.9,63.3 975.9,63.5 981.3,64.4 982.3,64.6 999.4,67.3 1007.9,68.7 1016.5,70.9 1029.3,74.2 1031.8,74.3 1032.7,74.3 1045.2,74.8 1046.3,74.9 1068.3,75.8 1069.1,75.8 1071.9,75.9 1114.5,77.4 1157.2,78.0 1175.3,77.3 1176.4,77.3 1190.2,76.7 1191.3,76.7 1195.6,76.5 1199.8,76.3 1204.1,76.3 1212.6,76.2 1221.2,76.1 1224.3,76.1 1225.4,76.1 1242.5,75.9 1244.6,75.1 1253.1,71.9 1257.4,70.3 1260.0,69.3 1263.8,71.6 1270.2,68.4 1276.0,65.5 1281.3,62.8 1283.5,61.8 1287.7,62.3 1301.6,64.2 1302.6,64.3 1303.7,64.3 1316.5,63.5 1317.6,59.5 1319.3,5.2 1540.4,5.2 1542.5,47.5 1543.6,50.0 1555.3,50.2 1556.8,5.2 1561.7,5.2 1563.2,49.7 1569.2,48.9 1578.8,49.9 1580.9,50.1 1586.2,50.7 1593.7,50.3 1595.8,50.2 1601.2,50.0 1604.3,50.3 1606.5,50.5 1611.8,51.0 1617.1,51.2 1619.3,51.3 1622.5,51.4 1625.7,53.1 1627.8,54.2 1635.3,58.1 1640.0,59.6 1661.3,61.7 1667.7,60.1 1674.1,32.5 1682.6,5.2 1817.0,5.2 1825.5,18.8 1831.9,29.7 1842.6,31.5 1853.2,33.3 1863.9,34.3 1874.5,35.4 1895.9,38.1 1906.5,39.4 1917.2,41.2 1938.5,44.9 1949.2,49.3 1953.4,51.1 1981.2,53.4 2013.1,58.4 2050.6,61.6 2050.6,963.5 138.2,963.5" fill="#78b000" />
<polygon points="138.2,65.8 167.7,65.8 170.5,66.3 187.3,66.8 198.5,68.9 206.0,70.2 224.6,71.6 237.7,69.2 239.6,68.9 254.5,62.3 265.7,61.4 273.1,71.6 275.9,71.1 278.7,70.7 280.6,70.3 291.8,66.6 310.4,63.5 329.1,66.2 345.9,66.6 364.6,66.1 377.6,65.2 392.5,64.2 411.2,58.1 418.7,53.0 441.0,52.1 470.9,49.3 485.8,55.8 498.9,55.1 500.0,55.0 502.1,53.0 512.8,42.8 523.5,41.7 538.4,48.7 553.3,48.6 570.4,45.1 602.3,39.5 627.9,43.1 659.9,45.9 681.2,43.1 713.2,47.0 730.3,44.1 777.2,45.9 809.2,43.1 841.2,38.4 871.0,38.9 880.0,37.7 901.3,38.9 909.9,43.0 922.6,49.3 935.4,52.6 944.0,55.0 950.4,56.8 973.8,63.3 974.9,63.6 975.9,63.9 981.3,64.7 982.3,64.9 999.4,67.7 1007.9,69.1 1016.5,71.3 1029.3,74.5 1031.8,74.6 1032.7,74.7 1045.2,75.2 1046.3,75.2 1068.3,76.1 1069.1,76.1 1071.9,76.2 1114.5,77.7 1157.2,78.4 1175.3,77.6 1176.4,77.6 1190.2,77.1 1191.3,77.0 1195.6,76.8 1199.8,76.7 1204.1,76.6 1212.6,76.5 1221.2,76.5 1224.3,76.4 1225.4,76.4 1242.5,76.2 1244.6,75.4 1253.1,72.2 1257.4,70.6 1260.0,69.6 1263.8,72.1 1270.2,68.9 1276.0,66.0 1281.3,63.4 1283.5,62.3 1287.7,62.9 1301.6,64.8 1302.6,64.9 1303.7,64.8 1316.5,64.2 1317.6,61.5 1319.3,5.2 1534.0,5.2 1536.1,47.0 1540.4,46.9 1542.5,49.2 1543.6,50.9 1555.3,50.8 1556.8,5.2 1561.7,5.2 1563.2,50.4 1569.2,49.9 1578.8,50.7 1580.9,50.9 1586.2,51.4 1593.7,51.2 1595.8,51.1 1601.2,50.9 1604.3,51.2 1606.5,51.4 1611.8,52.0 1617.1,52.3 1619.3,52.4 1622.5,52.6 1625.7,54.1 1627.8,55.2 1635.3,58.9 1640.0,60.5 1661.3,62.6 1667.7,61.3 1674.1,42.8 1682.6,5.2 1817.0,5.2 1825.5,18.8 1831.9,30.7 1842.6,32.2 1853.2,33.7 1863.9,34.8 1874.5,35.9 1895.9,38.5 1906.5,39.8 1917.2,41.6 1938.5,45.2 1949.2,49.6 1953.4,51.4 1981.2,53.8 2013.1,58.8 2050.6,62.1 2050.6,963.5 138.2,963.5" fill="#b0d000" />
<polygon points="138.2,67.0 167.7,67.0 170.5,67.8 187.3,68.5 198.5,70.9 206.0,72.5 224.6,73.7 237.7,71.7 239.6,71.4 254.5,64.3 265.7,63.9 273.1,73.7 275.9,72.7 278.7,71.8 280.6,71.2 291.8,67.4 310.4,65.0 329.1,67.2 345.9,67.4 364.6,66.7 377.6,65.8 392.5,64.8 411.2,58.5 418.7,53.7 441.0,52.7 470.9,49.9 485.8,56.5 498.9,55.8 500.0,55.7 502.1,53.7 512.8,43.8 523.5,42.7 538.4,49.9 553.3,49.3 570.4,45.6 602.3,40.0 627.9,43.6 659.9,46.4 681.2,43.6 713.2,47.4 730.3,44.7 777.2,46.4 809.2,43.6 841.2,38.9 871.0,39.3 880.0,38.3 901.3,39.4 909.9,43.7 922.6,50.0 935.4,52.9 944.0,55.3 950.4,57.2 973.8,63.6 974.9,63.9 975.9,64.2 981.3,65.1 982.3,65.3 999.4,68.1 1007.9,69.5 1016.5,71.6 1029.3,74.9 1031.8,75.0 1032.7,75.0 1045.2,75.5 1046.3,75.6 1068.3,76.4 1069.1,76.5 1071.9,76.6 1114.5,78.1 1157.2,78.7 1175.3,78.0 1176.4,77.9 1190.2,77.4 1191.3,77.3 1195.6,77.2 1199.8,77.0 1204.1,77.0 1212.6,76.9 1221.2,76.8 1224.3,76.8 1225.4,76.7 1242.5,76.6 1244.6,75.8 1253.1,72.6 1257.4,70.9 1260.0,70.0 1263.8,72.6 1270.2,69.4 1276.0,66.6 1281.3,64.0 1283.5,62.9 1287.7,63.5 1301.6,65.3 1302.6,65.5 1303.7,65.4 1316.5,64.9 1317.6,63.6 1319.3,5.2 1534.0,5.2 1536.1,49.4 1540.4,49.7 1542.5,50.9 1543.6,51.9 1555.3,51.4 1556.8,5.2 1561.7,5.2 1563.2,51.1 1569.2,50.8 1578.8,51.5 1580.9,51.7 1586.2,52.1 1593.7,52.0 1595.8,51.9 1601.2,51.9 1604.3,52.2 1606.5,52.4 1611.8,52.9 1617.1,53.3 1619.3,53.5 1622.5,53.8 1625.7,55.2 1627.8,56.2 1635.3,59.6 1640.0,61.5 1661.3,63.6 1667.7,62.6 1674.1,53.1 1682.6,19.3 1689.0,5.2 1817.0,5.2 1825.5,18.8 1831.9,31.6 1842.6,32.9 1853.2,34.2 1863.9,35.3 1874.5,36.3 1895.9,38.9 1906.5,40.2 1917.2,42.0 1938.5,45.6 1949.2,49.9 1953.4,51.7 1981.2,54.1 2013.1,59.2 2050.6,62.6 2050.6,963.5 138.2,963.5" fill="#e8f000" />
<polygon points="138.2,68.3 167.7,68.3 170.5,69.2 187.3,70.1 198.5,72.9 206.0,74.8 224.6,75.7 237.7,74.1 239.6,73.9 254.5,66.4 265.7,66.4 273.1,75.7 275.9,74.3 278.7,72.9 280.6,72.0 291.8,68.3 310.4,66.4 329.1,68.3 345.9,68.3 364.6,67.3 377.6,66.5 392.5,65.5 411.2,58.9 418.7,54.3 441.0,53.3 470.9,50.5 485.8,57.1 498.9,56.5 500.0,56.4 502.1,54.5 512.8,44.7 523.5,43.6 538.4,51.1 553.3,50.0 570.4,46.2 602.3,40.4 627.9,44.1 659.9,46.8 681.2,44.1 713.2,47.9 730.3,45.3 777.2,46.8 809.2,44.1 841.2,39.4 871.0,39.8 880.0,39.0 901.3,40.0 909.9,44.3 922.6,50.7 935.4,53.2 944.0,55.7 950.4,57.5 973.8,64.0 974.9,64.2 975.9,64.5 981.3,65.4 982.3,65.6 999.4,68.4 1007.9,69.9 1016.5,72.0 1029.3,75.2 1031.8,75.3 1032.7,75.3 1045.2,75.8 1046.3,75.9 1068.3,76.8 1069.1,76.8 1071.9,76.9 1114.5,78.4 1157.2,79.0 1175.3,78.3 1176.4,78.3 1190.2,77.7 1191.3,77.7 1195.6,77.5 1199.8,77.3 1204.1,77.3 1212.6,77.2 1221.2,77.1 1224.3,77.1 1225.4,77.1 1242.5,76.9 1244.6,76.1 1253.1,72.9 1257.4,71.3 1260.0,70.3 1263.8,73.1 1270.2,69.9 1276.0,67.1 1281.3,64.5 1283.5,63.5 1287.7,64.0 1301.6,65.9 1302.6,66.0 1303.7,66.0 1316.5,65.6 1317.6,65.6 1319.3,5.2 1534.0,5.2 1536.1,51.9 1540.4,52.4 1542.5,52.7 1543.6,52.8 1555.3,52.0 1556.8,51.9 1558.5,51.7 1569.2,51.7 1578.8,52.3 1580.9,52.5 1586.2,52.8 1601.2,52.8 1604.3,53.1 1606.5,53.3 1611.8,53.9 1617.1,54.4 1619.3,54.6 1622.5,54.9 1625.7,56.3 1627.8,57.2 1635.3,60.3 1640.0,62.4 1661.3,64.5 1667.7,63.9 1674.1,63.5 1682.6,21.1 1689.0,5.2 1817.0,5.2 1825.5,18.8 1831.9,32.6 1842.6,33.6 1853.2,34.7 1863.9,35.8 1874.5,36.8 1895.9,39.4 1906.5,40.7 1917.2,42.4 1938.5,46.0 1949.2,50.3 1953.4,52.0 1981.2,54.5 2013.1,59.6 2050.6,63.0 2050.6,963.5 138.2,963.5" fill="#f0f000" />
<polygon points="138.2,68.9 167.7,68.9 170.5,69.8 187.3,70.8 198.5,73.6 206.0,75.4 224.6,76.4 237.7,74.7 239.6,74.5 254.5,68.1 265.7,68.9 273.1,77.8 275.9,75.9 278.7,73.9 280.6,72.6 291.8,70.1 310.4,68.5 329.1,69.5 345.9,68.8 364.6,67.8 377.6,66.9 392.5,65.9 411.2,59.3 418.7,55.4 441.0,54.5 470.9,51.9 485.8,58.2 498.9,57.1 500.0,57.0 502.1,55.3 512.8,46.8 523.5,45.8 538.4,52.4 553.3,51.0 570.4,47.2 602.3,41.5 627.9,45.0 659.9,47.9 681.2,45.1 713.2,49.2 730.3,46.5 777.2,48.2 809.2,45.3 841.2,41.0 871.0,41.3 880.0,40.6 901.3,41.6 909.9,45.5 922.6,51.2 935.4,53.7 944.0,56.1 950.4,57.9 973.8,64.3 974.9,64.6 975.9,64.9 981.3,65.8 982.3,66.0 999.4,68.9 1007.9,70.3 1016.5,72.4 1029.3,75.6 1031.8,75.7 1032.7,75.7 1045.2,76.2 1046.3,76.3 1068.3,77.1 1069.1,77.2 1071.9,77.3 1114.5,78.8 1157.2,79.4 1175.3,78.7 1176.4,78.7 1190.2,78.1 1191.3,78.1 1195.6,77.9 1199.8,77.8 1204.1,77.7 1212.6,77.6 1221.2,77.5 1224.3,77.5 1225.4,77.5 1242.5,77.3 1244.6,76.5 1253.1,73.2 1257.4,71.6 1260.0,70.6 1263.8,73.6 1270.2,70.5 1276.0,67.6 1281.3,65.0 1283.5,63.9 1287.7,64.5 1301.6,66.5 1302.6,66.6 1303.7,66.6 1316.5,66.6 1317.6,66.6 1319.3,66.8 1322.9,67.2 1324.0,5.2 1519.1,5.2 1521.2,49.9 1526.5,51.4 1534.0,52.3 1536.1,52.6 1540.4,53.1 1542.5,53.4 1543.6,53.5 1555.3,52.7 1556.8,52.6 1558.5,52.5 1569.2,52.5 1578.8,53.1 1580.9,53.2 1586.2,53.5 1601.2,53.5 1604.3,53.8 1606.5,54.1 1611.8,54.6 1617.1,55.1 1619.3,55.3 1622.5,55.7 1625.7,57.0 1627.8,57.9 1635.3,61.0 1640.0,63.0 1661.3,65.2 1667.7,64.7 1674.1,64.3 1682.6,21.4 1689.0,18.8 1695.4,5.2 1810.6,5.2 1817.0,18.8 1825.5,18.8 1831.9,33.0 1842.6,34.4 1853.2,35.8 1863.9,36.8 1874.5,37.9 1895.9,40.4 1906.5,41.7 1917.2,43.4 1938.5,46.9 1949.2,51.0 1953.4,52.7 1981.2,55.4 2013.1,60.6 2050.6,64.0 2050.6,963.5 138.2,963.5" fill="#d8d000" />
<polygon points="138.2,69.5 167.7,69.5 170.5,70.4 187.3,71.4 198.5,74.2 206.0,76.0 224.6,77.0 237.7,75.3 239.6,75.1 254.5,69.7 265.7,71.4 273.1,79.9 275.9,77.4 278.7,74.9 280.6,73.2 291.8,72.0 310.4,70.6 329.1,70.8 345.9,69.3 364.6,68.2 377.6,67.3 392.5,66.3 411.2,59.6 418.7,55.6 441.0,54.6 470.9,52.1 485.8,58.3 498.9,57.6 500.0,57.6 502.1,56.1 512.8,49.0 523.5,47.9 538.4,52.6 553.3,51.1 570.4,47.2 602.3,41.6 627.9,45.1 659.9,48.0 681.2,45.2 713.2,49.4 730.3,46.6 777.2,48.3 809.2,45.4 841.2,41.1 871.0,41.4 880.0,40.7 901.3,41.8 909.9,45.6 922.6,51.3 935.4,53.7 944.0,56.1 950.4,58.0 973.8,64.4 974.9,64.7 975.9,64.9 981.3,65.8 982.3,66.0 999.4,68.9 1007.9,70.3 1016.5,72.4 1029.3,75.6 1031.8,75.7 1032.7,75.7 1045.2,76.2 1046.3,76.3 1068.3,77.2 1069.1,77.2 1071.9,77.3 1114.5,78.8 1157.2,79.4 1175.3,78.7 1176.4,78.7 1190.2,78.2 1191.3,78.1 1195.6,78.0 1199.8,77.8 1204.1,77.8 1212.6,77.7 1221.2,77.6 1224.3,77.6 1225.4,77.5 1242.5,77.4 1244.6,76.6 1253.1,73.4 1257.4,71.8 1260.0,70.9 1263.8,73.6 1270.2,70.6 1276.0,67.9 1281.3,65.4 1283.5,64.4 1287.7,65.1 1301.6,67.1 1302.6,67.3 1303.7,67.3 1316.5,67.5 1317.6,67.5 1319.3,67.7 1322.9,68.0 1324.0,5.2 1464.3,5.2 1465.1,60.4 1467.9,70.4 1470.7,71.8 1471.5,5.2 1519.1,5.2 1521.2,51.1 1526.5,52.1 1534.0,53.0 1536.1,53.3 1540.4,53.8 1542.5,54.1 1543.6,54.2 1555.3,53.4 1556.8,53.3 1558.5,53.2 1569.2,53.2 1578.8,53.8 1580.9,53.9 1586.2,54.2 1601.2,54.2 1604.3,54.6 1606.5,54.8 1611.8,55.3 1617.1,55.8 1619.3,56.0 1622.5,56.4 1625.7,57.7 1627.8,58.6 1635.3,61.7 1640.0,63.6 1661.3,65.8 1667.7,65.4 1674.1,65.2 1682.6,33.9 1689.0,31.5 1695.4,5.2 1810.6,5.2 1817.0,22.1 1825.5,22.8 1831.9,33.5 1842.6,34.7 1853.2,35.9 1863.9,36.9 1874.5,38.0 1895.9,40.5 1906.5,41.8 1917.2,43.5 1938.5,47.0 1949.2,51.1 1953.4,52.8 1981.2,55.5 2013.1,60.7 2050.6,64.1 2050.6,963.5 138.2,963.5" fill="#b0a800" />
<polygon points="138.2,70.1 167.7,70.1 170.5,71.1 187.3,72.0 198.5,74.8 206.0,76.7 224.6,77.6 237.7,76.0 239.6,75.7 254.5,71.4 265.7,73.9 273.1,82.0 275.9,78.9 278.7,75.9 280.6,73.9 291.8,73.9 310.4,72.6 329.1,72.0 345.9,69.8 364.6,68.6 377.6,67.7 392.5,66.7 411.2,59.9 418.7,55.7 441.0,54.7 470.9,52.2 485.8,58.5 498.9,58.2 500.0,58.1 502.1,57.0 512.8,51.1 523.5,50.0 538.4,52.7 553.3,51.2 570.4,47.3 602.3,41.7 627.9,45.2 659.9,48.1 681.2,45.3 713.2,49.5 730.3,46.7 777.2,48.4 809.2,45.5 841.2,41.3 871.0,41.6 880.0,40.8 901.3,41.9 909.9,45.7 922.6,51.3 935.4,53.7 944.0,56.2 950.4,58.0 973.8,64.4 974.9,64.7 975.9,65.0 981.3,65.9 982.3,66.1 999.4,68.9 1007.9,70.4 1016.5,72.5 1029.3,75.6 1031.8,75.7 1032.7,75.8 1045.2,76.3 1046.3,76.3 1068.3,77.2 1069.1,77.2 1071.9,77.3 1114.5,78.8 1157.2,79.5 1175.3,78.8 1176.4,78.7 1190.2,78.2 1191.3,78.2 1195.6,78.0 1199.8,77.8 1204.1,77.8 1212.6,77.7 1221.2,77.6 1224.3,77.6 1225.4,77.6 1242.5,77.4 1244.6,76.6 1253.1,73.6 1257.4,72.1 1260.0,71.1 1263.8,73.7 1270.2,70.8 1276.0,68.2 1281.3,65.8 1283.5,64.9 1287.7,65.6 1301.6,67.7 1302.6,67.9 1303.7,67.9 1316.5,68.4 1317.6,68.4 1319.3,68.5 1322.9,68.7 1324.0,66.7 1325.0,5.2 1464.3,5.2 1465.1,60.4 1467.9,71.5 1470.7,72.8 1471.5,5.2 1509.5,5.2 1510.5,53.0 1519.1,51.6 1521.2,52.4 1526.5,52.8 1534.0,53.7 1536.1,54.0 1540.4,54.5 1542.5,54.8 1543.6,54.9 1555.3,54.1 1556.8,54.0 1558.5,53.9 1569.2,53.9 1578.8,54.5 1580.9,54.6 1586.2,54.9 1601.2,54.9 1604.3,55.3 1606.5,55.5 1611.8,56.0 1617.1,56.5 1619.3,56.8 1622.5,57.1 1625.7,58.4 1627.8,59.3 1635.3,62.4 1640.0,64.3 1661.3,66.4 1667.7,66.2 1674.1,66.0 1682.6,46.4 1689.0,44.3 1695.4,5.2 1810.6,5.2 1817.0,25.4 1825.5,26.8 1831.9,34.0 1842.6,35.0 1853.2,36.0 1863.9,37.0 1874.5,38.1 1895.9,40.6 1906.5,41.9 1917.2,43.6 1938.5,47.1 1949.2,51.2 1953.4,52.8 1981.2,55.6 2013.1,60.8 2050.6,64.2 2050.6,963.5 138.2,963.5" fill="#909000" />
<polygon points="138.2,70.8 167.7,70.8 170.5,71.7 187.3,72.6 198.5,75.4 206.0,77.3 224.6,78.2 237.7,76.6 239.6,76.4 254.5,73.0 265.7,76.4 273.1,84.0 275.9,80.4 278.7,76.9 280.6,74.5 291.8,75.7 310.4,74.7 329.1,73.2 345.9,70.3 364.6,69.0 377.6,68.1 392.5,67.1 411.2,60.3 418.7,55.8 441.0,54.8 470.9,52.3 485.8,58.6 498.9,58.7 500.0,58.7 502.1,57.8 512.8,53.2 523.5,52.2 538.4,52.8 553.3,51.3 570.4,47.4 602.3,41.8 627.9,45.3 659.9,48.2 681.2,45.4 713.2,49.6 730.3,46.8 777.2,48.5 809.2,45.6 841.2,41.4 871.0,41.7 880.0,41.0 901.3,42.1 909.9,45.8 922.6,51.4 935.4,53.8 944.0,56.2 950.4,58.0 973.8,64.4 974.9,64.7 975.9,65.0 981.3,65.9 982.3,66.1 999.4,69.0 1007.9,70.4 1016.5,72.5 1029.3,75.7 1031.8,75.8 1032.7,75.8 1045.2,76.3 1046.3,76.4 1068.3,77.2 1069.1,77.3 1071.9,77.4 1114.5,78.9 1157.2,79.5 1175.3,78.8 1176.4,78.8 1190.2,78.2 1191.3,78.2 1195.6,78.0 1199.8,77.9 1204.1,77.8 1212.6,77.7 1221.2,77.7 1224.3,77.6 1225.4,77.6 1242.5,77.5 1244.6,76.7 1253.1,73.8 1257.4,72.3 1260.0,71.4 1263.8,73.7 1270.2,71.0 1276.0,68.5 1281.3,66.3 1283.5,65.4 1287.7,66.1 1301.6,68.3 1302.6,68.5 1303.7,68.6 1316.5,69.3 1317.6,69.4 1319.3,69.4 1322.9,69.5 1324.0,68.8 1325.0,5.2 1464.3,5.2 1465.1,60.4 1467.9,72.5 1470.7,73.7 1471.5,5.2 1508.4,5.2 1509.5,53.9 1510.5,54.2 1519.1,53.4 1521.2,53.6 1526.5,53.5 1534.0,54.5 1536.1,54.7 1540.4,55.3 1542.5,55.5 1543.6,55.7 1555.3,54.8 1556.8,54.7 1558.5,54.6 1569.2,54.6 1578.8,55.2 1580.9,55.3 1586.2,55.7 1601.2,55.7 1604.3,56.0 1606.5,56.2 1611.8,56.7 1617.1,57.3 1619.3,57.5 1622.5,57.8 1625.7,59.1 1627.8,60.0 1635.3,63.1 1640.0,64.9 1661.3,67.0 1667.7,66.9 1674.1,66.9 1682.6,58.9 1689.0,57.1 1695.4,23.8 1701.8,5.2 1810.6,5.2 1817.0,28.8 1825.5,30.8 1831.9,34.5 1842.6,35.3 1853.2,36.0 1863.9,37.1 1874.5,38.2 1895.9,40.7 1906.5,42.0 1917.2,43.7 1938.5,47.1 1949.2,51.3 1953.4,52.9 1981.2,55.7 2013.1,60.9 2050.6,64.3 2050.6,963.5 138.2,963.5" fill="#707000" />
<polygon points="138.2,71.5 167.7,71.5 170.5,72.5 187.3,73.4 198.5,76.1 206.0,78.0 224.6,78.9 237.7,77.3 239.6,77.0 254.5,74.4 265.7,78.2 273.1,85.6 275.9,81.7 278.7,77.9 280.6,75.3 291.8,77.2 310.4,76.3 329.1,74.2 345.9,70.9 364.6,69.6 377.6,68.7 392.5,67.7 411.2,60.8 418.7,55.9 441.0,54.9 470.9,52.5 485.8,58.7 498.9,59.2 500.0,59.3 502.1,58.5 512.8,54.8 523.5,53.8 538.4,52.9 553.3,51.4 570.4,47.5 602.3,41.9 627.9,45.4 659.9,48.3 681.2,45.5 713.2,49.7 730.3,47.0 777.2,48.7 809.2,45.7 841.2,41.6 871.0,41.8 880.0,41.1 901.3,42.2 909.9,45.9 922.6,51.4 935.4,53.8 944.0,56.3 950.4,58.1 973.8,64.5 974.9,64.8 975.9,65.0 981.3,66.0 982.3,66.1 999.4,69.0 1007.9,70.5 1016.5,72.6 1029.3,75.7 1031.8,75.8 1032.7,75.8 1045.2,76.4 1046.3,76.4 1068.3,77.3 1069.1,77.3 1071.9,77.4 1114.5,78.9 1157.2,79.5 1175.3,78.9 1176.4,78.8 1190.2,78.3 1191.3,78.2 1195.6,78.1 1199.8,77.9 1204.1,77.9 1212.6,77.8 1221.2,77.7 1224.3,77.7 1225.4,77.7 1242.5,77.5 1244.6,76.8 1253.1,74.0 1257.4,72.6 1260.0,71.7 1263.8,73.8 1270.2,71.2 1276.0,68.9 1281.3,66.7 1283.5,65.9 1287.7,66.6 1301.6,68.9 1302.6,69.1 1303.7,69.2 1316.5,70.2 1317.6,70.3 1319.3,70.4 1322.9,70.5 1324.0,70.5 1325.0,63.0 1331.4,5.2 1464.3,5.2 1465.1,60.4 1467.9,73.8 1470.7,74.7 1471.5,75.0 1473.2,75.5 1494.5,62.7 1508.4,55.8 1509.5,55.3 1510.5,55.2 1519.1,54.7 1521.2,54.6 1526.5,54.3 1534.0,55.2 1536.1,55.5 1540.4,56.0 1542.5,56.3 1543.6,56.4 1555.3,55.5 1556.8,55.4 1558.5,55.3 1561.7,55.3 1563.2,55.3 1569.2,55.4 1578.8,56.0 1580.9,56.1 1586.2,56.4 1593.7,56.5 1595.8,56.5 1601.2,56.5 1604.3,56.8 1606.5,57.1 1611.8,57.6 1617.1,58.1 1619.3,58.4 1622.5,58.7 1625.7,60.0 1627.8,60.8 1635.3,63.8 1640.0,65.5 1661.3,67.8 1667.7,67.8 1674.1,67.9 1682.6,65.8 1689.0,64.2 1695.4,26.7 1701.8,5.2 1804.2,5.2 1810.6,18.8 1817.0,30.9 1825.5,33.2 1831.9,35.0 1842.6,35.6 1853.2,36.1 1863.9,37.2 1874.5,38.3 1895.9,40.8 1906.5,42.0 1917.2,43.8 1938.5,47.2 1949.2,51.3 1953.4,53.0 1981.2,55.8 2013.1,60.9 2050.6,64.4 2050.6,963.5 138.2,963.5" fill="#886800" />
<polygon points="138.2,72.5 167.7,72.5 170.5,73.4 187.3,74.3 198.5,77.0 206.0,78.7 224.6,79.7 237.7,78.0 239.6,77.8 254.5,75.5 265.7,79.3 273.1,86.7 275.9,82.8 278.7,78.8 280.6,76.2 291.8,78.3 310.4,77.4 329.1,75.0 345.9,71.8 364.6,70.3 377.6,69.5 392.5,68.5 411.2,61.4 418.7,56.0 441.0,55.0 470.9,52.6 485.8,58.8 498.9,59.7 500.0,59.8 502.1,59.2 512.8,55.9 523.5,54.8 538.4,53.1 553.3,51.4 570.4,47.6 602.3,42.0 627.9,45.5 659.9,48.4 681.2,45.6 713.2,49.9 730.3,47.1 777.2,48.8 809.2,45.9 841.2,41.7 871.0,42.0 880.0,41.3 901.3,42.4 909.9,46.0 922.6,51.5 935.4,53.9 944.0,56.3 950.4,58.1 973.8,64.5 974.9,64.8 975.9,65.1 981.3,66.0 982.3,66.2 999.4,69.1 1007.9,70.5 1016.5,72.6 1029.3,75.7 1031.8,75.8 1032.7,75.9 1045.2,76.4 1046.3,76.4 1068.3,77.3 1069.1,77.3 1071.9,77.5 1114.5,78.9 1157.2,79.6 1175.3,78.9 1176.4,78.9 1190.2,78.3 1191.3,78.3 1195.6,78.1 1199.8,78.0 1204.1,77.9 1212.6,77.8 1221.2,77.7 1224.3,77.7 1225.4,77.7 1242.5,77.5 1244.6,76.9 1253.1,74.2 1257.4,72.8 1260.0,72.0 1263.8,73.8 1270.2,71.4 1276.0,69.2 1281.3,67.2 1283.5,66.4 1287.7,67.1 1301.6,69.6 1302.6,69.8 1303.7,69.9 1316.5,71.0 1317.6,71.1 1319.3,71.3 1322.9,71.7 1324.0,71.8 1325.0,63.0 1331.4,46.9 1332.5,5.2 1464.3,5.2 1465.1,60.4 1467.9,75.3 1470.7,75.7 1471.5,75.9 1473.2,76.2 1494.5,63.4 1508.4,56.4 1509.5,55.9 1510.5,55.9 1519.1,55.5 1521.2,55.4 1526.5,55.2 1534.0,56.1 1536.1,56.4 1540.4,56.9 1542.5,57.2 1543.6,57.3 1555.3,56.2 1556.8,56.1 1558.5,55.9 1561.7,56.0 1563.2,56.0 1569.2,56.2 1578.8,56.8 1580.9,57.0 1586.2,57.3 1593.7,57.4 1595.8,57.4 1601.2,57.5 1604.3,57.8 1606.5,58.1 1611.8,58.7 1617.1,59.2 1619.3,59.4 1622.5,59.7 1625.7,60.9 1627.8,61.7 1635.3,64.4 1640.0,66.3 1661.3,68.7 1667.7,68.8 1674.1,69.0 1682.6,67.1 1689.0,65.7 1695.4,27.5 1701.8,5.2 1804.2,5.2 1810.6,18.8 1817.0,31.7 1825.5,33.9 1831.9,35.5 1842.6,35.9 1853.2,36.2 1863.9,37.3 1874.5,38.4 1895.9,40.9 1906.5,42.1 1917.2,43.9 1938.5,47.3 1949.2,51.4 1953.4,53.0 1981.2,55.8 2013.1,61.0 2050.6,64.4 2050.6,963.5 138.2,963.5" fill="#a87000" />
<polygon points="138.2,73.4 167.7,73.4 170.5,74.3 187.3,75.3 198.5,77.8 206.0,79.5 224.6,80.4 237.7,78.8 239.6,78.5 254.5,76.7 265.7,80.4 273.1,87.9 275.9,83.8 278.7,79.8 280.6,77.1 291.8,79.5 310.4,78.5 329.1,75.7 345.9,72.7 364.6,71.1 377.6,70.2 392.5,69.2 411.2,62.0 418.7,56.1 441.0,55.2 470.9,52.7 485.8,58.9 498.9,60.3 500.0,60.4 502.1,59.8 512.8,57.0 523.5,55.9 538.4,53.2 553.3,51.5 570.4,47.7 602.3,42.1 627.9,45.6 659.9,48.5 681.2,45.7 713.2,50.0 730.3,47.2 777.2,48.9 809.2,46.0 841.2,41.9 871.0,42.1 880.0,41.4 901.3,42.5 909.9,46.1 922.6,51.5 935.4,53.9 944.0,56.3 950.4,58.2 973.8,64.5 974.9,64.8 975.9,65.1 981.3,66.0 982.3,66.2 999.4,69.1 1007.9,70.5 1016.5,72.6 1029.3,75.8 1031.8,75.9 1032.7,75.9 1045.2,76.4 1046.3,76.5 1068.3,77.3 1069.1,77.4 1071.9,77.5 1114.5,79.0 1157.2,79.6 1175.3,78.9 1176.4,78.9 1190.2,78.4 1191.3,78.3 1195.6,78.2 1199.8,78.0 1204.1,78.0 1212.6,77.9 1221.2,77.8 1224.3,77.7 1225.4,77.7 1242.5,77.6 1244.6,76.9 1253.1,74.4 1257.4,73.1 1260.0,72.3 1263.8,73.9 1270.2,71.6 1276.0,69.5 1281.3,67.6 1283.5,66.9 1287.7,67.7 1301.6,70.2 1302.6,70.4 1303.7,70.5 1316.5,71.9 1317.6,72.0 1319.3,72.3 1322.9,72.9 1324.0,73.1 1325.0,63.1 1331.4,46.9 1332.5,5.2 1464.3,5.2 1465.1,60.4 1467.9,76.8 1473.2,76.8 1494.5,64.0 1508.4,57.1 1509.5,56.5 1510.5,56.5 1519.1,56.2 1521.2,56.2 1526.5,56.0 1534.0,56.9 1536.1,57.2 1540.4,57.7 1542.5,58.0 1543.6,58.1 1555.3,56.9 1556.8,56.7 1558.5,56.5 1561.7,56.7 1563.2,56.8 1569.2,57.1 1578.8,57.7 1580.9,57.8 1586.2,58.1 1593.7,58.3 1595.8,58.3 1601.2,58.5 1604.3,58.8 1606.5,59.1 1611.8,59.7 1617.1,60.3 1619.3,60.5 1622.5,60.8 1625.7,61.9 1627.8,62.6 1635.3,65.1 1640.0,67.0 1661.3,69.7 1667.7,69.9 1674.1,70.2 1682.6,68.5 1689.0,67.2 1695.4,28.2 1701.8,18.8 1708.2,5.2 1804.2,5.2 1810.6,18.8 1817.0,32.6 1825.5,34.6 1831.9,36.1 1842.6,36.2 1853.2,36.3 1863.9,37.4 1874.5,38.5 1895.9,41.0 1906.5,42.2 1917.2,44.0 1938.5,47.4 1949.2,51.5 1953.4,53.1 1981.2,55.9 2013.1,61.1 2050.6,64.5 2050.6,963.5 138.2,963.5" fill="#c87800" />
<polygon points="138.2,74.3 167.7,74.3 170.5,75.3 187.3,76.2 198.5,78.6 206.0,80.2 224.6,81.1 237.7,79.5 239.6,79.3 254.5,77.8 265.7,81.5 273.1,89.0 275.9,84.9 278.7,80.8 280.6,78.1 291.8,80.6 310.4,79.7 329.1,76.5 345.9,73.5 364.6,71.8 377.6,70.9 392.5,69.9 411.2,62.7 418.7,56.8 441.0,55.9 470.9,53.6 485.8,59.6 498.9,60.8 500.0,60.9 502.1,60.5 512.8,58.0 523.5,57.0 538.4,54.0 553.3,52.2 570.4,48.3 602.3,42.8 627.9,46.2 659.9,49.2 681.2,46.4 713.2,50.8 730.3,47.9 777.2,49.8 809.2,46.8 841.2,42.9 871.0,43.1 880.0,42.5 901.3,43.5 909.9,46.9 922.6,51.9 935.4,54.2 944.0,56.6 950.4,58.4 973.8,64.8 974.9,65.1 975.9,65.4 981.3,66.3 982.3,66.4 999.4,69.4 1007.9,70.8 1016.5,72.9 1029.3,76.0 1031.8,76.1 1032.7,76.2 1045.2,76.7 1046.3,76.7 1068.3,77.6 1069.1,77.6 1071.9,77.7 1114.5,79.2 1157.2,79.9 1175.3,79.2 1176.4,79.1 1190.2,78.6 1191.3,78.6 1195.6,78.4 1199.8,78.3 1204.1,78.2 1212.6,78.1 1221.2,78.1 1224.3,78.0 1225.4,78.0 1242.5,77.8 1244.6,77.2 1253.1,74.7 1257.4,73.4 1260.0,72.6 1263.8,74.2 1270.2,72.0 1276.0,70.0 1281.3,68.1 1283.5,67.4 1287.7,68.2 1301.6,70.8 1302.6,71.0 1303.7,71.2 1316.5,72.7 1317.6,72.9 1319.3,73.3 1322.9,74.1 1324.0,74.3 1325.0,65.8 1331.4,49.6 1332.5,46.9 1333.6,5.2 1464.3,5.2 1465.1,62.2 1467.9,78.3 1470.7,77.8 1471.5,77.7 1473.2,77.4 1494.5,64.6 1508.4,57.7 1509.5,57.2 1510.5,57.2 1519.1,57.0 1521.2,57.0 1526.5,56.9 1534.0,57.8 1536.1,58.1 1540.4,58.6 1542.5,58.9 1543.6,59.0 1555.3,57.6 1556.8,57.4 1558.5,57.2 1561.7,57.4 1563.2,57.5 1569.2,57.9 1578.8,58.5 1580.9,58.7 1586.2,59.0 1593.7,59.2 1595.8,59.3 1601.2,59.4 1604.3,59.9 1606.5,60.1 1611.8,60.8 1617.1,61.3 1619.3,61.6 1622.5,61.9 1625.7,62.8 1627.8,63.5 1635.3,65.7 1640.0,67.7 1661.3,70.6 1667.7,70.9 1674.1,71.3 1682.6,69.8 1689.0,68.7 1695.4,38.0 1701.8,29.4 1708.2,5.2 1799.9,5.2 1804.2,21.6 1810.6,22.3 1817.0,33.4 1825.5,35.2 1831.9,36.6 1842.6,36.8 1853.2,37.0 1863.9,38.1 1874.5,39.2 1895.9,41.6 1906.5,42.9 1917.2,44.6 1938.5,48.0 1949.2,52.0 1953.4,53.6 1981.2,56.5 2013.1,61.7 2050.6,65.2 2050.6,963.5 138.2,963.5" fill="#e88000" />
<polygon points="138.2,75.3 167.7,75.3 170.5,76.2 187.3,77.1 198.5,79.4 206.0,81.0 224.6,81.9 237.7,80.3 239.6,80.0 254.5,78.9 265.7,82.6 273.1,90.1 275.9,85.9 278.7,81.8 280.6,79.0 291.8,81.7 310.4,80.8 329.1,77.2 345.9,74.4 364.6,72.6 377.6,71.7 392.5,70.7 411.2,63.3 418.7,58.2 441.0,57.3 470.9,55.3 485.8,61.0 498.9,61.5 500.0,61.5 502.1,61.1 512.8,59.1 523.5,58.0 538.4,55.6 553.3,53.3 570.4,49.5 602.3,44.1 627.9,47.3 659.9,50.5 681.2,47.7 713.2,52.4 730.3,49.3 777.2,51.4 809.2,48.2 841.2,44.8 871.0,44.9 880.0,44.4 901.3,45.5 909.9,48.3 922.6,52.5 935.4,54.7 944.0,57.1 950.4,59.0 973.8,65.2 974.9,65.5 975.9,65.8 981.3,66.7 982.3,66.9 999.4,69.8 1007.9,71.3 1016.5,73.4 1029.3,76.5 1031.8,76.6 1032.7,76.6 1045.2,77.1 1046.3,77.2 1068.3,78.0 1069.1,78.1 1071.9,78.2 1114.5,79.7 1157.2,80.3 1175.3,79.7 1176.4,79.6 1190.2,79.1 1191.3,79.1 1195.6,78.9 1199.8,78.8 1204.1,78.7 1212.6,78.7 1221.2,78.6 1224.3,78.5 1225.4,78.5 1242.5,78.4 1244.6,77.7 1253.1,75.0 1257.4,73.7 1260.0,72.9 1263.8,74.9 1270.2,72.6 1276.0,70.6 1281.3,68.7 1283.5,67.9 1287.7,68.7 1301.6,71.5 1302.6,71.7 1303.7,71.8 1316.5,73.6 1317.6,73.7 1319.3,74.2 1322.9,75.3 1324.0,75.6 1325.0,71.0 1331.4,54.9 1332.5,52.3 1333.6,5.2 1464.3,5.2 1465.1,66.0 1467.9,79.8 1470.7,78.9 1471.5,78.6 1473.2,78.1 1494.5,65.3 1508.4,58.4 1509.5,57.8 1510.5,57.8 1519.1,57.8 1521.2,57.7 1526.5,57.7 1534.0,58.6 1536.1,58.9 1540.4,59.4 1542.5,59.7 1543.6,59.8 1555.3,58.3 1556.8,58.1 1558.5,57.8 1561.7,58.1 1563.2,58.2 1569.2,58.8 1578.8,59.4 1580.9,59.5 1586.2,59.8 1593.7,60.1 1595.8,60.2 1601.2,60.4 1604.3,60.9 1606.5,61.1 1611.8,61.9 1617.1,62.4 1619.3,62.6 1622.5,62.9 1625.7,63.8 1627.8,64.4 1635.3,66.4 1640.0,68.4 1661.3,71.5 1667.7,71.9 1674.1,72.5 1682.6,71.2 1689.0,70.2 1695.4,56.8 1701.8,50.7 1708.2,5.2 1799.9,5.2 1804.2,28.2 1810.6,29.5 1817.0,34.3 1825.5,35.9 1831.9,37.2 1842.6,37.7 1853.2,38.3 1863.9,39.4 1874.5,40.4 1895.9,42.9 1906.5,44.1 1917.2,45.8 1938.5,49.1 1949.2,52.9 1953.4,54.5 1981.2,57.6 2013.1,62.9 2050.6,66.3 2050.6,963.5 138.2,963.5" fill="#ff8000" />
<polygon points="138.2,76.9 167.7,76.9 170.5,77.8 187.3,78.7 198.5,80.8 206.0,82.2 224.6,83.1 237.7,81.6 239.6,81.3 254.5,80.5 265.7,84.1 273.1,91.4 275.9,87.4 278.7,83.4 280.6,80.7 291.8,83.4 310.4,82.6 329.1,78.8 345.9,75.9 364.6,73.9 377.6,73.0 392.5,72.0 411.2,64.4 418.7,59.6 441.0,58.7 470.9,57.0 485.8,62.3 498.9,62.3 500.0,62.3 502.1,62.0 512.8,60.3 523.5,59.2 538.4,57.0 553.3,54.3 570.4,50.5 602.3,45.2 627.9,48.4 659.9,51.6 681.2,48.9 713.2,53.9 730.3,50.7 777.2,52.8 809.2,49.6 841.2,46.8 871.0,46.7 880.0,46.4 901.3,47.1 909.9,49.5 922.6,53.1 935.4,55.2 944.0,57.6 950.4,59.4 973.8,65.7 974.9,66.0 975.9,66.2 981.3,67.2 982.3,67.4 999.4,70.3 1007.9,71.8 1016.5,73.8 1029.3,76.9 1031.8,77.0 1032.7,77.0 1045.2,77.5 1046.3,77.6 1068.3,78.5 1069.1,78.5 1071.9,78.6 1114.5,80.1 1157.2,80.7 1175.3,80.1 1176.4,80.1 1190.2,79.6 1191.3,79.6 1195.6,79.4 1199.8,79.3 1204.1,79.2 1212.6,79.1 1221.2,79.1 1224.3,79.0 1225.4,79.0 1242.5,78.9 1244.6,78.2 1253.1,75.6 1257.4,74.3 1260.0,73.5 1263.8,75.6 1270.2,73.4 1276.0,71.4 1281.3,69.5 1283.5,68.8 1287.7,69.6 1301.6,72.3 1302.6,72.5 1303.7,72.7 1316.5,74.6 1317.6,74.8 1319.3,75.4 1322.9,76.6 1324.0,76.9 1325.0,74.5 1331.4,60.0 1332.5,57.6 1333.6,49.1 1341.0,18.8 1348.5,5.2 1459.4,5.2 1460.4,45.7 1460.9,50.2 1464.3,65.2 1465.1,69.0 1467.9,81.2 1470.7,80.1 1471.5,79.7 1473.2,79.1 1494.5,66.4 1508.4,59.7 1509.5,59.2 1526.5,59.2 1534.0,60.1 1536.1,60.3 1540.4,60.8 1542.5,61.1 1543.6,61.2 1555.3,59.6 1556.8,59.4 1558.5,59.2 1561.7,59.5 1563.2,59.7 1569.2,60.3 1578.8,60.9 1580.9,61.0 1586.2,61.3 1593.7,61.7 1595.8,61.8 1601.2,62.0 1604.3,62.5 1606.5,62.8 1611.8,63.5 1617.1,64.0 1619.3,64.2 1622.5,64.5 1625.7,65.3 1627.8,65.8 1635.3,67.6 1640.0,69.7 1661.3,73.1 1667.7,73.5 1674.1,74.1 1682.6,73.0 1689.0,72.1 1695.4,67.6 1701.8,63.1 1708.2,18.8 1710.4,18.8 1725.3,5.2 1795.7,5.2 1799.9,18.8 1804.2,32.7 1810.6,34.2 1817.0,35.6 1825.5,37.1 1831.9,38.2 1842.6,39.0 1853.2,39.8 1863.9,40.8 1874.5,41.9 1895.9,44.3 1906.5,45.5 1917.2,47.1 1938.5,50.3 1949.2,54.0 1953.4,55.5 1981.2,58.8 2013.1,64.1 2050.6,67.5 2050.6,963.5 138.2,963.5" fill="#e87000" />
<polygon points="138.2,79.1 167.7,79.1 170.5,80.2 187.3,81.0 198.5,82.8 206.0,84.0 224.6,84.8 237.7,83.4 239.6,83.3 254.5,82.5 265.7,85.9 273.1,93.0 275.9,89.3 278.7,85.6 280.6,83.2 291.8,85.8 310.4,85.0 329.1,81.3 345.9,78.0 364.6,75.8 377.6,74.9 392.5,73.9 411.2,66.1 418.7,61.0 441.0,60.1 470.9,58.6 485.8,63.5 498.9,63.4 500.0,63.4 502.1,63.1 512.8,61.6 523.5,60.6 538.4,58.0 553.3,55.2 570.4,51.5 602.3,46.1 627.9,49.3 659.9,52.7 681.2,50.2 713.2,55.2 730.3,52.0 777.2,54.2 809.2,51.0 841.2,49.0 871.0,48.6 880.0,48.5 901.3,48.4 909.9,50.5 922.6,53.6 935.4,55.6 944.0,58.0 950.4,59.8 973.8,66.1 974.9,66.4 975.9,66.7 981.3,67.6 982.3,67.8 999.4,70.7 1007.9,72.2 1016.5,74.3 1029.3,77.3 1031.8,77.4 1032.7,77.5 1045.2,78.0 1046.3,78.0 1068.3,78.9 1069.1,78.9 1071.9,79.0 1114.5,80.5 1157.2,81.2 1175.3,80.6 1176.4,80.5 1190.2,80.1 1191.3,80.0 1195.6,79.9 1199.8,79.8 1204.1,79.7 1212.6,79.6 1221.2,79.5 1224.3,79.5 1225.4,79.5 1242.5,79.3 1244.6,78.7 1253.1,76.3 1257.4,75.0 1260.0,74.3 1263.8,76.4 1270.2,74.3 1276.0,72.4 1281.3,70.7 1283.5,70.0 1287.7,70.8 1301.6,73.4 1302.6,73.6 1303.7,73.8 1316.5,76.0 1317.6,76.1 1319.3,76.7 1322.9,77.9 1324.0,78.3 1325.0,76.3 1331.4,64.9 1332.5,62.9 1333.6,53.7 1341.0,19.8 1348.5,28.2 1349.6,5.2 1442.3,5.2 1444.4,44.3 1451.9,44.3 1459.4,45.1 1460.4,50.7 1460.9,53.8 1464.3,67.7 1465.1,71.2 1467.9,82.5 1470.7,81.4 1471.5,81.1 1473.2,80.4 1494.5,68.0 1508.4,61.8 1509.5,61.3 1526.5,61.3 1534.0,62.1 1536.1,62.3 1540.4,62.7 1542.5,63.0 1543.6,63.1 1555.3,61.7 1556.8,61.5 1558.5,61.3 1561.7,61.7 1563.2,61.8 1569.2,62.4 1578.8,63.0 1580.9,63.1 1586.2,63.5 1593.7,63.9 1595.8,64.0 1601.2,64.3 1604.3,64.7 1606.5,64.9 1611.8,65.6 1617.1,66.1 1619.3,66.4 1622.5,66.7 1625.7,67.4 1627.8,67.8 1635.3,69.5 1640.0,71.6 1661.3,75.2 1667.7,75.6 1674.1,76.3 1682.6,75.3 1689.0,74.5 1695.4,70.5 1701.8,66.5 1708.2,18.8 1710.4,18.8 1725.3,5.2 1793.5,5.2 1795.7,18.8 1799.9,18.8 1804.2,35.1 1810.6,36.3 1817.0,37.5 1825.5,38.7 1831.9,39.6 1842.6,40.5 1853.2,41.4 1863.9,42.4 1874.5,43.5 1895.9,45.8 1906.5,46.9 1917.2,48.5 1938.5,51.6 1949.2,55.2 1953.4,56.7 1981.2,60.1 2013.1,65.2 2050.6,68.8 2050.6,963.5 138.2,963.5" fill="#c86000" />
<polygon points="138.2,81.3 167.7,81.3 170.5,82.5 187.3,83.2 198.5,84.8 206.0,85.8 224.6,86.5 237.7,85.3 239.6,85.2 254.5,84.5 265.7,87.7 273.1,94.6 275.9,91.2 278.7,87.9 280.6,85.6 291.8,88.1 310.4,87.5 329.1,83.8 345.9,80.1 364.6,77.7 377.6,76.8 392.5,75.8 411.2,67.8 418.7,62.4 441.0,61.5 470.9,60.2 485.8,64.7 498.9,64.4 500.0,64.4 502.1,64.2 512.8,63.0 523.5,61.9 538.4,59.1 553.3,56.1 570.4,52.4 602.3,47.0 627.9,50.3 659.9,53.8 681.2,51.4 713.2,56.6 730.3,53.4 777.2,55.5 809.2,52.3 841.2,51.1 871.0,50.4 880.0,50.7 901.3,49.7 909.9,51.5 922.6,54.1 935.4,56.0 944.0,58.4 950.4,60.3 973.8,66.5 974.9,66.8 975.9,67.1 981.3,68.0 982.3,68.2 999.4,71.2 1007.9,72.6 1016.5,74.7 1029.3,77.8 1031.8,77.9 1032.7,77.9 1045.2,78.4 1046.3,78.4 1068.3,79.3 1069.1,79.4 1071.9,79.5 1114.5,81.0 1157.2,81.6 1175.3,81.0 1176.4,81.0 1190.2,80.5 1191.3,80.5 1195.6,80.4 1199.8,80.2 1204.1,80.2 1212.6,80.1 1221.2,80.0 1224.3,80.0 1225.4,80.0 1242.5,79.8 1244.6,79.2 1253.1,76.9 1257.4,75.8 1260.0,75.1 1263.8,77.2 1270.2,75.3 1276.0,73.5 1281.3,71.9 1283.5,71.2 1287.7,72.0 1301.6,74.5 1302.6,74.7 1303.7,74.9 1316.5,77.3 1317.6,77.5 1319.3,78.0 1322.9,79.2 1324.0,79.6 1325.0,78.2 1331.4,69.7 1332.5,68.3 1333.6,58.4 1341.0,19.8 1348.5,28.2 1349.6,29.4 1350.6,5.2 1442.3,5.2 1444.4,44.3 1451.9,44.3 1459.4,47.4 1460.4,55.7 1460.9,57.4 1464.3,70.2 1465.1,73.4 1467.9,83.9 1470.7,82.8 1471.5,82.4 1473.2,81.7 1494.5,69.6 1508.4,63.9 1509.5,63.5 1526.5,63.5 1534.0,64.1 1536.1,64.3 1540.4,64.7 1542.5,64.8 1543.6,64.9 1555.3,63.8 1556.8,63.6 1558.5,63.5 1561.7,63.8 1563.2,63.9 1569.2,64.5 1578.8,65.1 1580.9,65.3 1586.2,65.6 1593.7,66.1 1595.8,66.2 1601.2,66.5 1604.3,66.9 1606.5,67.1 1611.8,67.7 1617.1,68.3 1619.3,68.5 1622.5,68.8 1625.7,69.4 1627.8,69.9 1635.3,71.3 1640.0,73.5 1661.3,77.3 1667.7,77.8 1674.1,78.4 1682.6,77.6 1689.0,76.9 1695.4,73.5 1701.8,70.0 1708.2,18.8 1710.4,18.8 1725.3,5.2 1787.1,5.2 1793.5,18.8 1799.9,18.8 1804.2,37.5 1810.6,38.4 1817.0,39.4 1825.5,40.3 1831.9,41.1 1842.6,42.0 1853.2,43.0 1863.9,44.0 1874.5,45.1 1895.9,47.3 1906.5,48.4 1917.2,49.9 1938.5,52.9 1949.2,56.5 1953.4,57.9 1981.2,61.5 2013.1,66.4 2050.6,70.1 2050.6,963.5 138.2,963.5" fill="#a85000" />
<polygon points="138.2,90.0 167.7,90.0 170.5,91.7 187.3,91.9 198.5,92.4 206.0,92.8 224.6,93.0 237.7,92.6 239.6,92.6 254.5,92.3 265.7,94.6 273.1,100.7 275.9,98.6 278.7,96.6 280.6,95.2 291.8,97.3 310.4,97.1 329.1,93.3 345.9,88.4 364.6,85.1 377.6,84.2 392.5,83.2 411.2,74.3 418.7,63.8 441.0,62.9 470.9,61.9 485.8,65.8 498.9,65.5 500.0,65.5 502.1,65.3 512.8,64.3 523.5,63.2 538.4,60.2 553.3,57.0 570.4,53.4 602.3,47.9 627.9,51.3 659.9,54.8 681.2,52.6 713.2,57.9 730.3,54.7 777.2,56.8 809.2,53.6 841.2,53.2 871.0,52.3 880.0,52.8 901.3,51.1 909.9,52.5 922.6,54.7 935.4,56.4 944.0,58.9 950.4,60.7 973.8,67.0 974.9,67.2 975.9,67.5 981.3,68.4 982.3,68.6 999.4,71.6 1007.9,73.1 1016.5,75.1 1029.3,78.2 1031.8,78.3 1032.7,78.3 1045.2,78.8 1046.3,78.9 1068.3,79.7 1069.1,79.8 1071.9,79.9 1114.5,81.4 1157.2,82.0 1175.3,81.5 1176.4,81.4 1190.2,81.0 1191.3,81.0 1195.6,80.8 1199.8,80.7 1204.1,80.7 1212.6,80.6 1221.2,80.5 1224.3,80.5 1225.4,80.5 1242.5,80.3 1244.6,79.8 1253.1,77.6 1257.4,76.5 1260.0,75.9 1263.8,78.0 1270.2,76.2 1276.0,74.6 1281.3,73.1 1283.5,72.5 1287.7,73.2 1301.6,75.6 1302.6,75.7 1303.7,76.0 1316.5,78.6 1317.6,78.8 1319.3,79.4 1322.9,80.6 1324.0,80.9 1325.0,80.0 1331.4,74.5 1332.5,73.6 1333.6,67.3 1341.0,33.3 1348.5,31.1 1349.6,30.8 1350.6,5.2 1361.3,5.2 1363.4,33.7 1366.6,34.3 1369.8,32.7 1371.9,5.2 1386.9,5.2 1389.0,32.7 1394.3,35.4 1397.5,37.5 1399.7,5.2 1442.3,5.2 1444.4,49.9 1451.9,55.7 1459.4,56.7 1460.4,59.5 1460.9,60.9 1464.3,72.7 1465.1,75.6 1467.9,85.2 1470.7,84.1 1471.5,83.7 1473.2,83.1 1494.5,71.2 1508.4,66.0 1509.5,65.6 1526.5,65.6 1534.0,66.1 1536.1,66.3 1540.4,66.6 1542.5,66.7 1543.6,66.8 1555.3,65.9 1556.8,65.7 1558.5,65.6 1561.7,65.9 1563.2,66.1 1569.2,66.7 1578.8,67.3 1580.9,67.4 1586.2,67.7 1593.7,68.2 1595.8,68.4 1601.2,68.7 1604.3,69.1 1606.5,69.3 1611.8,69.9 1617.1,70.4 1619.3,70.6 1622.5,70.9 1625.7,71.5 1627.8,71.9 1635.3,73.2 1640.0,75.3 1661.3,79.5 1667.7,79.9 1674.1,80.5 1682.6,79.8 1689.0,79.3 1695.4,76.4 1701.8,73.5 1708.2,51.6 1710.4,50.0 1725.3,38.6 1742.3,5.2 1787.1,5.2 1793.5,23.4 1795.7,31.5 1799.9,32.6 1804.2,39.9 1810.6,40.6 1817.0,41.2 1825.5,41.9 1831.9,42.5 1842.6,43.5 1853.2,44.5 1863.9,45.6 1874.5,46.7 1895.9,48.8 1906.5,49.9 1917.2,51.4 1938.5,54.3 1949.2,57.7 1953.4,59.0 1981.2,62.8 2013.1,67.6 2050.6,71.4 2050.6,963.5 138.2,963.5" fill="#884000" />
<polygon points="138.2,98.1 167.7,98.1 170.5,99.7 187.3,99.4 198.5,99.0 206.0,98.7 224.6,98.1 237.7,97.8 239.6,97.8 254.5,97.8 265.7,99.7 273.1,105.0 275.9,104.1 278.7,103.3 280.6,102.8 291.8,105.0 310.4,105.3 329.1,101.9 345.9,96.6 364.6,92.2 377.6,90.9 392.5,89.4 411.2,79.8 418.7,65.2 441.0,64.4 470.9,63.6 485.8,67.2 498.9,66.7 500.0,66.6 502.1,66.5 512.8,65.7 523.5,64.6 538.4,61.2 553.3,58.0 570.4,54.3 602.3,48.9 627.9,52.2 659.9,55.9 681.2,53.9 713.2,59.3 730.3,56.1 777.2,58.2 809.2,55.2 841.2,55.5 871.0,54.3 880.0,55.2 901.3,52.5 909.9,53.6 922.6,55.3 935.4,56.9 944.0,59.4 950.4,61.2 973.8,67.5 974.9,67.7 975.9,68.0 981.3,68.9 982.3,69.1 999.4,72.1 1007.9,73.6 1016.5,75.6 1029.3,78.7 1031.8,78.8 1032.7,78.8 1045.2,79.3 1046.3,79.4 1068.3,80.2 1069.1,80.3 1071.9,80.4 1114.5,81.9 1157.2,82.5 1175.3,82.0 1176.4,82.0 1190.2,81.5 1191.3,81.5 1195.6,81.4 1199.8,81.3 1204.1,81.2 1212.6,81.2 1221.2,81.1 1224.3,81.0 1225.4,81.0 1242.5,80.9 1244.6,80.4 1253.1,78.5 1257.4,77.6 1260.0,77.0 1263.8,78.9 1270.2,77.3 1276.0,75.8 1281.3,74.5 1283.5,74.0 1287.7,74.7 1301.6,77.0 1302.6,77.2 1303.7,77.4 1316.5,80.0 1317.6,80.2 1319.3,80.7 1322.9,82.0 1324.0,82.3 1325.0,81.7 1331.4,78.3 1332.5,77.7 1333.6,73.2 1341.0,41.4 1348.5,34.0 1349.6,32.9 1350.6,33.1 1361.3,35.5 1363.4,35.9 1366.6,36.6 1369.8,34.7 1371.9,5.2 1386.9,5.2 1389.0,34.6 1394.3,37.7 1397.5,39.6 1399.7,5.2 1423.1,5.2 1425.2,55.7 1428.4,60.6 1431.6,56.8 1433.8,5.2 1442.3,5.2 1444.4,54.2 1451.9,63.1 1460.4,63.1 1460.9,64.5 1464.3,75.2 1465.1,77.9 1467.9,86.6 1470.7,85.5 1471.5,85.1 1473.2,84.4 1494.5,73.1 1508.4,68.4 1509.5,68.1 1526.5,68.1 1534.0,68.5 1536.1,68.6 1540.4,68.8 1542.5,68.9 1543.6,69.0 1555.3,68.1 1556.8,68.0 1558.5,67.9 1561.7,68.2 1563.2,68.4 1569.2,69.0 1578.8,69.6 1580.9,69.7 1586.2,70.0 1593.7,70.6 1595.8,70.7 1601.2,71.1 1604.3,71.4 1606.5,71.6 1611.8,72.2 1617.1,72.7 1619.3,72.9 1622.5,73.2 1625.7,73.8 1627.8,74.1 1635.3,75.4 1640.0,77.7 1661.3,82.0 1667.7,82.4 1674.1,83.0 1682.6,82.3 1689.0,81.8 1695.4,79.2 1701.8,76.6 1708.2,69.7 1710.4,67.4 1725.3,51.0 1742.3,5.2 1787.1,5.2 1793.5,28.8 1795.7,39.3 1799.9,40.7 1804.2,42.2 1810.6,42.7 1817.0,43.2 1825.5,43.8 1831.9,44.3 1842.6,45.4 1853.2,46.6 1863.9,47.7 1874.5,48.7 1895.9,50.7 1906.5,51.7 1917.2,53.1 1938.5,55.8 1949.2,59.1 1953.4,60.5 1981.2,64.4 2013.1,69.0 2050.6,72.9 2050.6,963.5 138.2,963.5" fill="#983000" />
<polygon points="138.2,105.6 167.7,105.6 170.5,106.5 187.3,105.6 198.5,104.5 206.0,103.7 224.6,101.9 237.7,101.0 239.6,100.9 254.5,100.9 265.7,102.8 273.1,107.4 275.9,107.8 278.7,108.1 280.6,108.4 291.8,111.2 310.4,112.1 329.1,109.3 345.9,104.7 364.6,99.1 377.6,96.9 392.5,94.4 411.2,84.1 418.7,66.4 441.0,65.9 470.9,65.5 485.8,68.7 498.9,67.9 500.0,67.8 502.1,67.7 512.8,67.1 523.5,66.0 538.4,62.3 553.3,58.9 570.4,55.2 602.3,50.0 627.9,53.2 659.9,57.0 681.2,55.4 713.2,60.7 730.3,57.5 777.2,59.6 809.2,57.0 841.2,58.0 871.0,56.4 880.0,57.8 901.3,53.9 909.9,54.7 922.6,56.0 935.4,57.5 944.0,59.9 950.4,61.8 973.8,68.0 974.9,68.3 975.9,68.6 981.3,69.5 982.3,69.7 999.4,72.7 1007.9,74.1 1016.5,76.2 1029.3,79.3 1031.8,79.4 1032.7,79.4 1045.2,79.9 1046.3,79.9 1068.3,80.8 1069.1,80.8 1071.9,81.0 1114.5,82.4 1157.2,83.1 1175.3,82.6 1176.4,82.5 1190.2,82.2 1191.3,82.1 1195.6,82.0 1199.8,81.9 1204.1,81.9 1212.6,81.8 1221.2,81.7 1224.3,81.7 1225.4,81.7 1242.5,81.6 1244.6,81.2 1253.1,79.7 1257.4,78.9 1260.0,78.4 1263.8,79.8 1270.2,78.5 1276.0,77.3 1281.3,76.2 1283.5,75.7 1287.7,76.4 1301.6,78.8 1302.6,78.9 1303.7,79.1 1316.5,81.4 1317.6,81.6 1319.3,82.2 1322.9,83.4 1324.0,83.7 1325.0,83.3 1331.4,80.9 1332.5,80.5 1333.6,76.0 1341.0,44.3 1348.5,36.8 1349.6,35.8 1350.6,35.9 1361.3,37.6 1363.4,37.9 1366.6,38.4 1369.8,36.4 1371.9,32.1 1379.4,28.9 1386.9,32.5 1389.0,36.2 1394.3,39.5 1397.5,41.5 1399.7,5.2 1423.1,5.2 1425.2,58.4 1428.4,63.5 1431.6,59.6 1433.8,51.7 1439.1,46.2 1442.3,47.0 1444.4,57.3 1451.9,66.7 1460.4,66.7 1460.9,67.9 1464.3,77.6 1465.1,80.1 1467.9,88.0 1470.7,86.9 1471.5,86.5 1473.2,85.9 1494.5,75.2 1508.4,71.2 1509.5,70.9 1526.5,70.9 1534.0,71.2 1536.1,71.2 1540.4,71.4 1542.5,71.4 1543.6,71.5 1555.3,70.6 1556.8,70.5 1558.5,70.4 1561.7,70.7 1563.2,70.9 1569.2,71.5 1578.8,72.1 1580.9,72.2 1586.2,72.5 1593.7,73.1 1595.8,73.2 1601.2,73.6 1604.3,73.9 1606.5,74.1 1611.8,74.7 1617.1,75.2 1619.3,75.4 1622.5,75.7 1625.7,76.3 1627.8,76.6 1635.3,77.9 1640.0,80.5 1661.3,84.8 1667.7,85.2 1674.1,85.9 1682.6,84.9 1689.0,84.3 1695.4,81.9 1701.8,79.5 1708.2,73.1 1710.4,70.9 1725.3,56.0 1742.3,33.2 1759.4,5.2 1785.0,5.2 1787.1,22.9 1793.5,35.0 1795.7,42.2 1799.9,43.2 1804.2,44.3 1810.6,44.8 1817.0,45.3 1825.5,46.0 1831.9,46.4 1842.6,47.7 1853.2,49.1 1863.9,50.1 1874.5,51.2 1895.9,53.0 1906.5,53.9 1917.2,55.1 1938.5,57.6 1949.2,60.8 1953.4,62.1 1981.2,66.1 2013.1,70.6 2050.6,74.7 2050.6,963.5 138.2,963.5" fill="#b82800" />
<polygon points="138.2,113.0 167.7,113.0 170.5,113.4 187.3,111.8 198.5,109.9 206.0,108.7 224.6,105.6 237.7,104.2 239.6,104.0 254.5,104.0 265.7,105.9 273.1,109.9 275.9,111.5 278.7,113.0 280.6,114.0 291.8,117.4 310.4,119.0 329.1,116.8 345.9,112.7 364.6,105.9 377.6,102.8 392.5,99.4 411.2,88.5 418.7,67.6 441.0,67.5 470.9,67.3 485.8,70.3 498.9,69.1 500.0,69.1 502.1,69.0 512.8,68.5 523.5,67.5 538.4,63.4 553.3,59.8 570.4,56.0 602.3,51.2 627.9,54.2 659.9,58.0 681.2,56.8 713.2,62.1 730.3,58.9 777.2,61.1 809.2,58.7 841.2,60.5 871.0,58.6 880.0,60.4 901.3,55.3 909.9,55.9 922.6,56.7 935.4,58.1 944.0,60.5 950.4,62.3 973.8,68.6 974.9,68.9 975.9,69.2 981.3,70.1 982.3,70.3 999.4,73.2 1007.9,74.7 1016.5,76.7 1029.3,79.8 1031.8,79.9 1032.7,80.0 1045.2,80.5 1046.3,80.5 1068.3,81.4 1069.1,81.4 1071.9,81.5 1114.5,83.0 1157.2,83.7 1175.3,83.2 1176.4,83.1 1190.2,82.8 1191.3,82.7 1195.6,82.6 1199.8,82.5 1204.1,82.5 1212.6,82.4 1221.2,82.4 1224.3,82.4 1225.4,82.4 1242.5,82.3 1244.6,82.0 1253.1,80.8 1257.4,80.2 1260.0,79.8 1263.8,80.8 1270.2,79.7 1276.0,78.7 1281.3,77.9 1283.5,77.5 1287.7,78.2 1301.6,80.5 1302.6,80.7 1303.7,80.9 1316.5,82.9 1317.6,83.0 1319.3,83.6 1322.9,84.8 1324.0,85.2 1325.0,84.9 1331.4,83.6 1332.5,83.4 1333.6,78.8 1341.0,47.1 1348.5,39.7 1349.6,38.6 1350.6,38.7 1361.3,39.7 1363.4,39.9 1366.6,40.2 1369.8,38.1 1371.9,35.7 1379.4,31.3 1386.9,35.8 1389.0,37.9 1394.3,41.3 1397.5,43.5 1399.7,42.3 1409.3,49.1 1422.0,53.4 1423.1,54.9 1425.2,61.1 1428.4,66.3 1431.6,62.5 1433.8,58.1 1439.1,52.0 1442.3,55.1 1444.4,60.5 1451.9,70.2 1460.4,70.2 1460.9,71.3 1464.3,80.1 1465.1,82.3 1467.9,89.4 1470.7,88.3 1471.5,88.0 1473.2,87.3 1494.5,77.3 1508.4,74.0 1509.5,73.8 1526.5,73.8 1534.0,73.9 1536.1,73.9 1540.4,73.9 1542.5,73.9 1543.6,74.0 1555.3,73.1 1556.8,73.0 1558.5,72.9 1561.7,73.2 1563.2,73.4 1569.2,74.0 1578.8,74.6 1580.9,74.7 1586.2,75.0 1593.7,75.6 1595.8,75.7 1601.2,76.1 1604.3,76.4 1606.5,76.6 1611.8,77.2 1617.1,77.7 1619.3,77.9 1622.5,78.2 1625.7,78.8 1627.8,79.1 1635.3,80.4 1640.0,83.4 1661.3,87.6 1667.7,88.1 1674.1,88.7 1682.6,87.6 1689.0,86.7 1695.4,84.5 1701.8,82.3 1708.2,76.4 1710.4,74.5 1725.3,61.0 1742.3,47.7 1759.4,33.3 1772.2,5.2 1785.0,26.1 1787.1,32.9 1793.5,41.2 1795.7,45.0 1799.9,45.7 1804.2,46.4 1810.6,46.9 1817.0,47.5 1825.5,48.1 1831.9,48.5 1842.6,50.1 1853.2,51.6 1863.9,52.6 1874.5,53.7 1895.9,55.2 1906.5,56.0 1917.2,57.1 1938.5,59.4 1949.2,62.5 1953.4,63.7 1981.2,67.9 2013.1,72.3 2050.6,76.4 2050.6,963.5 138.2,963.5" fill="#d01800" />
<polygon points="138.2,121.1 167.7,121.1 170.5,120.5 187.3,118.6 198.5,116.4 206.0,114.9 224.6,111.2 237.7,109.5 239.6,109.3 254.5,108.7 265.7,110.6 273.1,113.7 275.9,116.0 278.7,118.3 280.6,119.9 291.8,124.2 310.4,126.1 329.1,124.2 345.9,120.5 364.6,113.7 377.6,109.9 392.5,105.6 411.2,93.8 418.7,69.5 441.0,69.5 470.9,70.1 485.8,72.6 498.9,70.7 500.0,70.6 502.1,70.5 512.8,70.3 523.5,69.2 538.4,64.6 553.3,61.0 570.4,57.3 602.3,52.6 627.9,55.7 659.9,59.4 681.2,58.6 713.2,63.9 730.3,61.1 777.2,62.8 809.2,61.1 841.2,63.5 871.0,61.4 880.0,63.0 901.3,56.7 909.9,57.0 922.6,57.4 935.4,58.6 944.0,61.1 950.4,62.9 973.8,69.2 974.9,69.4 975.9,69.7 981.3,70.7 982.3,70.8 999.4,73.8 1007.9,75.3 1016.5,77.3 1029.3,80.4 1031.8,80.5 1032.7,80.5 1045.2,81.0 1046.3,81.1 1068.3,81.9 1069.1,82.0 1071.9,82.1 1114.5,83.6 1157.2,84.2 1175.3,83.8 1176.4,83.7 1190.2,83.4 1191.3,83.3 1195.6,83.2 1199.8,83.1 1204.1,83.1 1212.6,83.1 1221.2,83.1 1224.3,83.1 1225.4,83.1 1242.5,83.0 1244.6,82.9 1253.1,82.4 1257.4,82.1 1260.0,82.0 1263.8,81.7 1270.2,81.2 1276.0,80.8 1281.3,80.3 1283.5,80.2 1287.7,80.8 1301.6,82.9 1302.6,83.0 1303.7,83.2 1316.5,85.0 1317.6,85.2 1319.3,85.6 1322.9,86.6 1324.0,86.9 1332.5,86.9 1333.6,82.4 1341.0,50.7 1348.5,42.9 1349.6,41.8 1350.6,41.8 1361.3,42.3 1363.4,42.4 1366.6,42.5 1369.8,40.6 1371.9,39.2 1379.4,34.7 1386.9,39.3 1389.0,40.6 1394.3,43.9 1397.5,46.4 1399.7,48.1 1409.3,55.7 1422.0,59.9 1423.1,61.7 1425.2,65.2 1428.4,70.6 1431.6,67.0 1433.8,64.5 1439.1,58.5 1442.3,62.6 1444.4,65.3 1451.9,74.8 1460.4,74.8 1460.9,75.8 1464.3,83.4 1465.1,85.3 1467.9,91.5 1470.7,90.4 1471.5,90.1 1473.2,89.4 1494.5,80.2 1508.4,77.5 1509.5,77.3 1543.6,77.3 1555.3,76.5 1556.8,76.4 1558.5,76.3 1561.7,76.6 1563.2,76.7 1569.2,77.3 1578.8,77.9 1580.9,78.1 1586.2,78.4 1593.7,78.9 1595.8,79.1 1601.2,79.5 1604.3,79.8 1606.5,80.0 1611.8,80.5 1617.1,81.1 1619.3,81.3 1622.5,81.6 1625.7,82.0 1627.8,82.3 1635.3,83.4 1640.0,86.9 1661.3,91.2 1667.7,91.6 1674.1,92.3 1682.6,91.0 1689.0,90.1 1695.4,88.0 1701.8,85.9 1708.2,80.3 1710.4,78.4 1725.3,65.6 1742.3,57.8 1759.4,47.1 1772.2,37.9 1785.0,40.9 1787.1,41.4 1793.5,46.5 1795.7,48.2 1799.9,48.7 1804.2,49.3 1810.6,49.8 1817.0,50.3 1825.5,50.9 1831.9,51.4 1842.6,53.0 1853.2,54.6 1863.9,55.7 1874.5,56.7 1895.9,58.1 1906.5,58.9 1917.2,59.9 1938.5,62.1 1949.2,64.8 1953.4,66.0 1981.2,70.2 2013.1,74.5 2050.6,78.8 2050.6,963.5 138.2,963.5" fill="#e80800" />
<polygon points="138.2,129.8 167.7,129.8 170.5,128.0 187.3,126.1 198.5,123.9 206.0,122.4 224.6,118.6 237.7,117.0 239.6,116.8 254.5,114.9 265.7,116.8 273.1,118.6 275.9,121.4 278.7,124.2 280.6,126.1 291.8,131.7 310.4,133.6 329.1,131.7 345.9,128.0 364.6,122.4 377.6,118.0 392.5,113.0 411.2,100.0 418.7,72.0 441.0,72.0 470.9,73.9 485.8,75.7 498.9,72.7 500.0,72.4 512.8,72.4 523.5,71.4 538.4,66.0 553.3,62.4 570.4,59.0 602.3,54.3 627.9,57.5 659.9,61.1 681.2,60.7 713.2,66.0 730.3,63.9 777.2,65.0 809.2,63.9 841.2,67.1 871.0,65.0 880.0,65.6 901.3,58.1 922.6,58.1 935.4,59.2 944.0,61.6 950.4,63.5 973.8,69.7 974.9,70.0 975.9,70.3 981.3,71.2 982.3,71.4 999.4,74.4 1007.9,75.8 1016.5,77.9 1029.3,81.0 1031.8,81.1 1032.7,81.1 1045.2,81.6 1046.3,81.6 1068.3,82.5 1069.1,82.6 1071.9,82.7 1114.5,84.2 1157.2,84.8 1175.3,84.3 1176.4,84.3 1190.2,84.0 1191.3,83.9 1195.6,83.8 1199.8,83.7 1242.5,83.7 1244.6,83.9 1253.1,84.4 1257.4,84.6 1260.0,84.8 1263.8,82.7 1270.2,83.0 1276.0,83.3 1281.3,83.6 1283.5,83.7 1287.7,84.2 1301.6,85.7 1302.6,85.9 1303.7,86.0 1316.5,87.8 1317.6,88.0 1319.3,88.3 1322.9,88.9 1324.0,89.1 1325.0,89.3 1331.4,90.9 1332.5,91.2 1333.6,86.7 1341.0,54.9 1348.5,46.5 1349.6,45.3 1366.6,45.3 1369.8,43.7 1371.9,42.7 1379.4,39.0 1386.9,43.2 1389.0,44.4 1394.3,47.5 1397.5,50.5 1399.7,52.4 1409.3,61.3 1422.0,65.6 1423.1,67.4 1425.2,70.9 1428.4,76.3 1431.6,73.1 1433.8,70.9 1439.1,65.6 1442.3,69.3 1444.4,71.8 1451.9,80.5 1460.4,80.5 1460.9,81.3 1464.3,87.7 1465.1,89.2 1467.9,94.4 1470.7,93.3 1471.5,92.9 1473.2,92.3 1494.5,83.7 1508.4,81.7 1509.5,81.6 1543.6,81.6 1555.3,80.8 1556.8,80.7 1558.5,80.5 1561.7,80.9 1563.2,81.0 1569.2,81.6 1578.8,82.2 1580.9,82.3 1586.2,82.7 1593.7,83.2 1595.8,83.3 1601.2,83.7 1604.3,84.0 1606.5,84.3 1611.8,84.8 1617.1,85.3 1619.3,85.5 1622.5,85.9 1625.7,86.1 1627.8,86.3 1635.3,86.9 1640.0,91.2 1661.3,95.5 1667.7,95.9 1674.1,96.5 1682.6,95.3 1689.0,94.4 1695.4,92.3 1701.8,90.1 1708.2,84.5 1710.4,82.7 1725.3,69.9 1742.3,63.5 1759.4,52.8 1772.2,46.4 1785.0,48.2 1787.1,48.5 1793.5,50.9 1795.7,51.7 1799.9,52.3 1804.2,52.8 1810.6,53.3 1817.0,53.9 1825.5,54.5 1831.9,54.9 1842.6,56.5 1853.2,58.1 1863.9,59.2 1874.5,60.3 1895.9,61.7 1906.5,62.4 1917.2,63.5 1938.5,65.6 1949.2,67.9 1953.4,68.8 1981.2,73.1 2013.1,77.3 2050.6,81.6 2050.6,963.5 138.2,963.5" fill="#ff0000" />
<polygon points="138.2,161.6 167.7,161.6 170.5,146.6 187.3,142.9 198.5,140.7 206.0,139.2 224.6,135.4 237.7,132.2 239.6,131.7 254.5,129.8 265.7,131.7 273.1,133.6 275.9,138.5 278.7,143.4 280.6,146.6 291.8,154.1 310.4,156.0 329.1,150.4 345.9,142.9 364.6,135.4 377.6,132.8 392.5,129.8 411.2,128.0 418.7,105.6 441.0,109.3 470.9,109.3 485.8,98.1 498.9,85.3 500.0,84.2 502.1,84.5 512.8,86.3 523.5,88.4 538.4,75.6 553.3,71.4 570.4,68.2 602.3,67.1 627.9,69.2 659.9,79.9 681.2,75.6 713.2,75.6 730.3,73.5 777.2,72.4 809.2,71.4 841.2,84.2 871.0,75.6 880.0,76.3 901.3,76.3 909.9,74.6 922.6,72.0 935.4,72.0 944.0,74.4 950.4,76.3 973.8,80.2 974.9,80.4 975.9,80.5 981.3,81.2 982.3,81.4 999.4,83.7 1007.9,84.8 1016.5,87.4 1029.3,91.2 1031.8,91.6 1032.7,91.7 1045.2,93.6 1046.3,93.7 1068.3,97.0 1069.1,97.2 1071.9,97.6 1114.5,104.0 1157.2,101.9 1175.3,99.1 1176.4,99.0 1190.2,96.9 1191.3,96.7 1195.6,96.1 1199.8,95.5 1204.1,95.7 1212.6,96.1 1221.2,96.5 1224.3,96.7 1225.4,96.7 1242.5,97.6 1244.6,99.3 1253.1,106.0 1257.4,109.4 1260.0,111.4 1263.8,101.9 1270.2,103.9 1276.0,105.8 1281.3,107.6 1283.5,108.2 1287.7,109.7 1301.6,114.3 1302.6,114.6 1303.7,114.8 1316.5,116.6 1317.6,116.8 1319.3,117.1 1322.9,117.7 1324.0,117.8 1325.0,117.7 1331.4,116.9 1332.5,116.8 1333.6,112.5 1341.0,82.7 1348.5,75.2 1349.6,74.1 1350.6,74.5 1361.3,78.5 1363.4,79.3 1366.6,80.5 1369.8,80.0 1371.9,79.6 1379.4,78.4 1386.9,88.0 1389.0,90.7 1394.3,97.6 1397.5,94.4 1399.7,92.3 1409.3,82.7 1422.0,86.9 1423.1,90.8 1425.2,98.7 1428.4,110.4 1431.6,102.1 1433.8,96.5 1439.1,82.7 1442.3,88.5 1444.4,92.4 1451.9,106.1 1459.4,96.8 1460.4,95.5 1460.9,97.0 1464.3,109.7 1465.1,112.9 1467.9,123.2 1470.7,122.1 1471.5,121.7 1473.2,121.0 1494.5,110.4 1508.4,108.4 1509.5,108.2 1510.5,108.0 1519.1,105.9 1521.2,105.3 1526.5,104.0 1534.0,102.1 1536.1,101.6 1540.4,100.5 1542.5,100.0 1543.6,99.7 1569.2,99.7 1578.8,100.9 1580.9,101.2 1586.2,101.9 1593.7,104.0 1595.8,104.6 1601.2,106.1 1604.3,106.8 1606.5,107.2 1611.8,108.2 1617.1,110.4 1619.3,111.2 1622.5,112.5 1625.7,113.6 1627.8,114.3 1635.3,116.8 1640.0,118.9 1661.3,116.8 1667.7,115.7 1674.1,114.6 1682.6,113.4 1689.0,112.5 1695.4,110.4 1701.8,108.2 1708.2,105.1 1710.4,104.0 1725.3,99.7 1742.3,97.6 1759.4,82.7 1772.2,74.1 1787.1,74.1 1793.5,75.7 1795.7,76.3 1799.9,78.4 1804.2,80.5 1810.6,81.6 1817.0,82.7 1825.5,85.1 1831.9,86.9 1842.6,88.0 1853.2,89.1 1874.5,89.1 1895.9,90.5 1906.5,91.2 1917.2,92.6 1938.5,95.5 1949.2,97.0 1953.4,97.6 1981.2,99.7 2013.1,104.0 2050.6,108.2 2050.6,963.5 138.2,963.5" fill="#e00000" />
</g></defs>
<g clip-path="url(#cL)"><use href="#bandsB" filter="url(#jagS)"/></g>
<g clip-path="url(#cR)"><use href="#bandsB"/></g>
<defs><g id="strB">
<polygon points="138.2,961.5 138.2,162.2 150.0,162.2 169.2,152.6 214.0,130.2 245.9,127.0 277.9,136.6 290.7,152.6 306.7,159.0 341.9,146.2 393.1,139.8 410.7,152.6 414.8,152.6 416.1,95.0 447.4,107.8 457.0,111.0 469.8,107.8 482.6,95.0 500.2,93.5 500.0,85.9 510.7,89.1 521.3,97.6 527.7,82.7 542.6,76.3 564.0,72.0 595.9,69.9 627.9,72.0 649.3,82.7 655.7,89.1 662.0,80.5 681.2,78.4 691.9,86.9 713.2,89.1 734.5,91.2 745.2,86.9 777.2,84.8 787.8,93.3 798.5,112.5 807.0,108.2 815.6,129.6 820.9,146.6 828.4,138.1 836.9,131.7 845.4,108.2 858.2,93.3 871.0,101.9 873.1,107.8 877.9,107.8 884.3,117.4 890.7,139.8 893.9,168.6 900.3,176.6 903.5,155.8 913.1,149.4 919.5,159.0 932.3,178.2 938.7,159.0 954.7,165.4 967.5,168.6 980.3,159.0 988.3,181.4 997.9,194.2 999.5,155.8 1005.9,159.0 1015.5,187.8 1029.8,165.4 1031.4,133.4 1037.8,131.8 1044.2,143.0 1057.0,125.4 1069.8,130.2 1079.4,139.8 1098.6,146.2 1111.4,159.0 1121.0,162.2 1130.6,175.0 1140.2,163.8 1153.0,176.6 1162.6,191.0 1165.8,251.8 1172.2,200.6 1178.6,199.0 1185.0,216.6 1186.6,255.0 1186.6,322.1 1186.6,961.5" fill="#c80000" />
<polygon points="138.2,961.5 138.2,175.0 150.0,175.0 167.6,162.2 182.0,155.8 214.0,143.0 245.9,133.4 277.9,139.8 290.7,162.2 306.7,167.0 341.9,155.8 373.9,149.4 393.1,146.2 405.9,162.2 410.7,159.0 414.8,159.0 416.1,133.4 447.4,136.6 457.0,159.0 469.8,143.0 482.6,111.0 500.2,104.6 500.0,106.1 507.5,97.6 512.8,114.6 519.2,159.4 523.5,131.7 532.0,116.8 542.6,112.5 545.8,101.9 555.4,106.1 570.4,104.0 578.9,112.5 585.3,101.9 597.0,80.5 602.3,84.8 606.6,101.9 613.0,123.2 615.1,172.2 616.9,168.6 629.7,200.6 639.3,226.2 648.9,245.4 655.3,250.2 661.7,232.6 674.5,235.8 687.3,274.2 693.7,322.1 693.7,961.5" fill="#ad0000" />
</g></defs>
<g clip-path="url(#cSL)"><use href="#strB" filter="url(#jagM)"/></g>
<g clip-path="url(#cSR)"><use href="#strB" filter="url(#jagL)"/></g>
<polygon points="2039.3,159.1 2018.9,153.0 2006.7,156.2 1970.1,142.8 1929.4,138.7 1904.9,136.7 1888.6,142.8 1852.0,153.0 1843.8,146.9 1807.2,146.9 1790.9,138.7 1774.6,142.8 1758.3,146.9 1750.2,165.2 1742.0,177.4 1731.9,191.6 1725.8,214.0 1713.5,218.1 1705.4,224.2 1703.4,246.6 1699.3,267.0 1691.1,295.5 1687.1,319.9 1685.0,368.8 1681.0,393.2 1672.8,419.7 1666.7,368.8 1660.6,348.4 1654.5,291.4 1646.4,258.8 1639.4,240.5 1632.1,262.9 1624.0,279.2 1614.6,295.5 1614.6,389.1 1619.9,442.1 1624.8,490.9 1634.1,519.4 1660.6,527.6 1660.6,1020.3 2039.3,1020.3" fill="#c80000" />
<polygon points="1738.0,425.8 1746.1,421.7 1756.3,405.4 1764.4,425.8 1770.6,442.1 1771.4,466.5 1780.7,468.5 1782.0,572.4 1776.7,613.1 1768.5,649.7 1758.3,655.9 1750.2,670.1 1740.0,680.3 1734.7,657.9 1734.7,531.7 1735.9,470.6" fill="#e00000" />
<polygon points="150.2,966.5 150.2,298.1 153.2,298.1 156.0,298.1 156.0,283.2 156.4,283.2 158.5,272.5 160.7,283.2 162.8,260.8 164.9,260.8 165.4,283.2 171.3,283.2 173.5,272.5 176.7,272.5 177.7,283.2 179.9,272.5 183.0,272.5 184.1,283.2 187.3,272.5 190.9,272.5 191.6,298.1 193.7,283.2 198.6,283.2 199.5,298.1 205.0,298.1 205.9,327.9 208.0,332.2 208.0,354.6 214.0,354.6 215.0,332.2 216.5,332.2 217.2,354.6 219.3,354.6 220.4,332.2 221.4,354.6 227.8,354.6 228.9,332.2 247.0,332.2 250.2,313.6 255.5,313.6 257.7,298.1 272.6,298.1 274.7,283.2 290.3,283.2 290.3,272.5 335.1,272.5 338.7,260.8 348.7,260.8 349.4,298.1 354.3,298.1 354.7,313.6 365.4,313.6 365.8,332.2 367.1,332.2 367.5,313.6 374.3,313.6 376.0,332.2 380.7,332.2 381.3,313.6 386.2,313.6 386.7,332.2 389.9,332.2 392.0,313.6 392.6,332.2 404.8,332.2 403.7,354.6 409.1,332.2 411.2,332.2 411.8,261.8 414.4,230.9 415.5,230.9 416.5,255.4 419.1,245.8 420.4,270.4 420.8,313.6 435.7,298.1 441.0,298.1 441.0,313.6 457.0,313.6 458.1,332.2 460.2,313.6 461.3,313.6 462.4,354.6 476.2,354.6 477.3,332.2 479.4,332.2 480.1,354.6 481.6,354.6 482.6,332.2 484.3,332.2 484.8,354.6 487.5,354.6 487.5,377.0 491.8,377.0 491.8,354.6 499.7,354.6 501.8,283.2 503.1,283.2 503.9,354.6 505.7,354.6 505.7,332.2 511.4,332.2 511.8,354.6 525.3,354.6 529.1,332.2 533.8,332.2 537.0,313.6 539.1,313.6 540.6,332.2 550.0,332.2 550.0,332.2 552.1,332.2 552.6,354.6 559.6,354.6 560.7,332.2 562.8,332.2 563.2,354.6 566.0,354.6 568.1,332.2 574.5,332.2 574.5,313.6 580.9,313.6 582.0,298.1 593.7,298.1 593.7,283.2 610.8,283.2 612.9,272.5 618.2,272.5 620.4,260.8 622.5,260.8 622.9,283.2 632.1,283.2 633.2,272.5 634.2,283.2 639.1,283.2 639.1,298.1 651.3,298.1 652.3,313.6 654.5,298.1 655.5,298.1 656.6,332.2 659.2,332.2 659.2,354.6 665.1,354.6 665.1,306.6 667.3,313.6 671.5,313.6 673.2,354.6 674.7,338.6 676.9,354.6 683.3,354.6 686.5,313.6 688.6,313.6 691.2,298.1 715.2,298.1 716.3,313.6 718.9,313.6 719.5,332.2 722.3,332.2 722.7,354.6 727.0,354.6 728.0,332.2 738.7,332.2 738.7,313.6 749.4,313.6 752.6,298.1 764.3,298.1 768.6,283.2 771.3,283.2 771.3,272.5 792.6,272.5 792.6,283.2 802.7,283.2 803.3,298.1 806.9,298.1 807.6,283.2 810.6,283.2 811.2,298.1 812.7,298.1 813.3,313.6 817.6,313.6 819.1,298.1 844.2,298.1 845.3,285.3 851.7,272.5 852.8,283.2 857.0,272.5 866.6,272.5 867.3,283.2 876.2,283.2 877.3,298.1 880.1,283.2 881.6,283.2 882.2,298.1 886.9,298.1 888.0,313.6 892.9,313.6 893.7,298.1 897.1,298.1 897.1,260.8 904.4,260.8 905.0,283.2 914.6,253.3 924.2,253.3 928.5,232.0 931.7,232.0 933.8,222.4 935.9,229.9 939.1,222.4 940.6,238.4 950.0,238.4 950.0,253.3 956.4,253.3 959.0,245.2 961.1,253.3 963.9,253.3 966.0,260.8 970.9,260.8 971.3,271.9 978.8,271.9 982.0,260.8 988.4,260.8 991.6,253.3 993.7,260.8 1016.1,260.8 1017.8,253.3 1020.4,253.3 1023.6,245.2 1025.7,253.3 1026.3,260.8 1029.3,260.8 1029.3,271.9 1034.2,271.9 1035.3,260.8 1038.5,253.3 1040.6,253.3 1043.8,260.8 1048.1,260.8 1049.1,253.3 1052.3,245.2 1058.7,245.2 1059.2,253.3 1063.0,253.3 1064.1,260.8 1068.3,260.8 1073.2,271.9 1108.8,271.9 1113.8,260.8 1117.4,260.8 1118.4,253.3 1128.7,253.3 1129.1,260.8 1150.4,260.8 1150.9,271.9 1186.7,271.9 1192.0,253.3 1209.7,253.3 1210.1,260.8 1214.0,260.8 1214.4,271.9 1220.4,271.9 1220.8,282.7 1238.9,282.7 1245.3,271.9 1299.7,271.9 1300.0,272.1 1312.0,272.1 1317.3,283.1 1324.0,272.1 1331.7,272.1 1331.7,283.1 1362.4,283.1 1362.4,298.0 1414.4,298.0 1414.4,313.1 1443.4,313.1 1443.4,332.0 1459.0,332.0 1459.0,354.6 1467.9,354.6 1478.0,376.6 1497.2,376.6 1497.2,407.6 1523.6,407.6 1523.6,441.4 1550.9,441.4 1550.9,407.6 1585.4,407.6 1585.4,479.6 1595.8,479.6 1595.8,524.2 1604.6,524.2 1611.3,580.5 1623.3,580.5 1640.1,481.5 1659.8,523.4 1660.0,791.7 1672.2,791.7 1672.2,966.5" fill="#c0c0c0" />
<rect x="166.8" y="19.2" width="2.8" height="282.7" fill="#000"/>
<rect x="872.6" y="19.2" width="2.8" height="282.7" fill="#000"/>
</g></g>
<g transform="translate(0,1097.7)">
<rect x="152.2" y="19.2" width="1884.4" height="942.2" fill="none" stroke="#101018" stroke-width="1.2"/>
<rect x="191.8" y="16.2" width="2.4" height="3" fill="#000"/>
<rect x="191.8" y="961.5" width="2.4" height="3" fill="#000"/>
<rect x="275.6" y="9.8" width="2.4" height="9.5" fill="#000"/>
<rect x="275.6" y="960.9" width="2.4" height="9.8" fill="#000"/>
<text class="t" x="279.8" y="1011.3" text-anchor="middle">40 km</text>
<rect x="359.4" y="16.2" width="2.4" height="3" fill="#000"/>
<rect x="359.4" y="961.5" width="2.4" height="3" fill="#000"/>
<rect x="443.2" y="9.8" width="2.4" height="9.5" fill="#000"/>
<rect x="443.2" y="960.9" width="2.4" height="9.8" fill="#000"/>
<text class="t" x="447.4" y="1011.3" text-anchor="middle">60 km</text>
<rect x="527.0" y="16.2" width="2.4" height="3" fill="#000"/>
<rect x="527.0" y="961.5" width="2.4" height="3" fill="#000"/>
<rect x="610.8" y="9.8" width="2.4" height="9.5" fill="#000"/>
<rect x="610.8" y="960.9" width="2.4" height="9.8" fill="#000"/>
<text class="t" x="615.0" y="1011.3" text-anchor="middle">80 km</text>
<rect x="694.6" y="16.2" width="2.4" height="3" fill="#000"/>
<rect x="694.6" y="961.5" width="2.4" height="3" fill="#000"/>
<rect x="778.4" y="9.8" width="2.4" height="9.5" fill="#000"/>
<rect x="778.4" y="960.9" width="2.4" height="9.8" fill="#000"/>
<text class="t" x="782.6" y="1011.3" text-anchor="middle">100 km</text>
<rect x="862.2" y="16.2" width="2.4" height="3" fill="#000"/>
<rect x="862.2" y="961.5" width="2.4" height="3" fill="#000"/>
<rect x="946.0" y="9.8" width="2.4" height="9.5" fill="#000"/>
<rect x="946.0" y="960.9" width="2.4" height="9.8" fill="#000"/>
<text class="t" x="950.2" y="1011.3" text-anchor="middle">120 km</text>
<rect x="1029.8" y="16.2" width="2.4" height="3" fill="#000"/>
<rect x="1029.8" y="961.5" width="2.4" height="3" fill="#000"/>
<rect x="1113.6" y="9.8" width="2.4" height="9.5" fill="#000"/>
<rect x="1113.6" y="960.9" width="2.4" height="9.8" fill="#000"/>
<text class="t" x="1117.8" y="1011.3" text-anchor="middle">140 km</text>
<rect x="1197.4" y="16.2" width="2.4" height="3" fill="#000"/>
<rect x="1197.4" y="961.5" width="2.4" height="3" fill="#000"/>
<rect x="1281.2" y="9.8" width="2.4" height="9.5" fill="#000"/>
<rect x="1281.2" y="960.9" width="2.4" height="9.8" fill="#000"/>
<text class="t" x="1285.4" y="1011.3" text-anchor="middle">160 km</text>
<rect x="1365.0" y="16.2" width="2.4" height="3" fill="#000"/>
<rect x="1365.0" y="961.5" width="2.4" height="3" fill="#000"/>
<rect x="1448.8" y="9.8" width="2.4" height="9.5" fill="#000"/>
<rect x="1448.8" y="960.9" width="2.4" height="9.8" fill="#000"/>
<text class="t" x="1453.0" y="1011.3" text-anchor="middle">180 km</text>
<rect x="1532.6" y="16.2" width="2.4" height="3" fill="#000"/>
<rect x="1532.6" y="961.5" width="2.4" height="3" fill="#000"/>
<rect x="1616.4" y="9.8" width="2.4" height="9.5" fill="#000"/>
<rect x="1616.4" y="960.9" width="2.4" height="9.8" fill="#000"/>
<text class="t" x="1620.6" y="1011.3" text-anchor="middle">200 km</text>
<rect x="1700.2" y="16.2" width="2.4" height="3" fill="#000"/>
<rect x="1700.2" y="961.5" width="2.4" height="3" fill="#000"/>
<rect x="1784.0" y="9.8" width="2.4" height="9.5" fill="#000"/>
<rect x="1784.0" y="960.9" width="2.4" height="9.8" fill="#000"/>
<text class="t" x="1788.2" y="1011.3" text-anchor="middle">220 km</text>
<rect x="1867.8" y="16.2" width="2.4" height="3" fill="#000"/>
<rect x="1867.8" y="961.5" width="2.4" height="3" fill="#000"/>
<rect x="1951.6" y="9.8" width="2.4" height="9.5" fill="#000"/>
<rect x="1951.6" y="960.9" width="2.4" height="9.8" fill="#000"/>
<text class="t" x="1955.8" y="1011.3" text-anchor="middle">240 km</text>
<rect x="2035.4" y="16.2" width="2.4" height="3" fill="#000"/>
<rect x="2035.4" y="961.5" width="2.4" height="3" fill="#000"/>
<rect x="142.6" y="18.1" width="9.6" height="2.4" fill="#000"/>
<rect x="2036.6" y="18.1" width="9" height="2.4" fill="#000"/>
<text class="t" x="127.6" y="30.9" text-anchor="end">0</text>
<rect x="142.6" y="206.5" width="9.6" height="2.4" fill="#000"/>
<rect x="2036.6" y="206.5" width="9" height="2.4" fill="#000"/>
<text class="t" x="127.6" y="219.4" text-anchor="end">50</text>
<rect x="142.6" y="395.0" width="9.6" height="2.4" fill="#000"/>
<rect x="2036.6" y="395.0" width="9" height="2.4" fill="#000"/>
<text class="t" x="127.6" y="407.9" text-anchor="end">100</text>
<rect x="142.6" y="583.4" width="9.6" height="2.4" fill="#000"/>
<rect x="2036.6" y="583.4" width="9" height="2.4" fill="#000"/>
<text class="t" x="127.6" y="596.3" text-anchor="end">150</text>
<rect x="142.6" y="771.9" width="9.6" height="2.4" fill="#000"/>
<rect x="2036.6" y="771.9" width="9" height="2.4" fill="#000"/>
<text class="t" x="127.6" y="784.8" text-anchor="end">200</text>
<rect x="142.6" y="960.3" width="9.6" height="2.4" fill="#000"/>
<rect x="2036.6" y="960.3" width="9" height="2.4" fill="#000"/>
<text class="t" x="127.6" y="973.2" text-anchor="end">250</text>
<text x="40" y="488.8" font-size="26.8" text-anchor="middle" stroke="#000" stroke-width="0.7" transform="rotate(-90 40 488.8)">DEPTH(m)</text>
<text x="1094" y="1060.9" font-size="26.8" text-anchor="middle" stroke="#000" stroke-width="0.7">DISTANCE</text>
<text x="28.5" y="121.5" font-size="43.5">(b)</text>
<text x="363.8" y="404.9" font-size="37" font-weight="bold" font-style="italic" textLength="315" lengthAdjust="spacingAndGlyphs">Dardanelles strait</text>
<rect x="300.00" y="934.6" width="7.75" height="15.8" fill="#7808c8"/>
<rect x="307.35" y="934.6" width="7.75" height="15.8" fill="#8010e8"/>
<rect x="314.69" y="934.6" width="7.75" height="15.8" fill="#4808e8"/>
<rect x="322.04" y="934.6" width="7.75" height="15.8" fill="#1010e8"/>
<rect x="329.38" y="934.6" width="7.75" height="15.8" fill="#0c0cd8"/>
<rect x="336.73" y="934.6" width="7.75" height="15.8" fill="#0a0ac8"/>
<rect x="344.07" y="934.6" width="7.75" height="15.8" fill="#0808b8"/>
<rect x="351.42" y="934.6" width="7.75" height="15.8" fill="#0808a0"/>
<rect x="358.76" y="934.6" width="7.75" height="15.8" fill="#0a1488"/>
<rect x="366.11" y="934.6" width="7.75" height="15.8" fill="#0a3070"/>
<rect x="373.45" y="934.6" width="7.75" height="15.8" fill="#0a5070"/>
<rect x="380.80" y="934.6" width="7.75" height="15.8" fill="#0a6070"/>
<rect x="388.15" y="934.6" width="7.75" height="15.8" fill="#0a6080"/>
<rect x="395.49" y="934.6" width="7.75" height="15.8" fill="#0a6898"/>
<rect x="402.84" y="934.6" width="7.75" height="15.8" fill="#0a80a0"/>
<rect x="410.18" y="934.6" width="7.75" height="15.8" fill="#0a88a0"/>
<rect x="417.53" y="934.6" width="7.75" height="15.8" fill="#0aa0a8"/>
<rect x="424.87" y="934.6" width="7.75" height="15.8" fill="#088088"/>
<rect x="432.22" y="934.6" width="7.75" height="15.8" fill="#087068"/>
<rect x="439.56" y="934.6" width="7.75" height="15.8" fill="#009048"/>
<rect x="446.91" y="934.6" width="7.75" height="15.8" fill="#00b038"/>
<rect x="454.25" y="934.6" width="7.75" height="15.8" fill="#00d020"/>
<rect x="461.60" y="934.6" width="7.75" height="15.8" fill="#00f010"/>
<rect x="468.95" y="934.6" width="7.75" height="15.8" fill="#00e000"/>
<rect x="476.29" y="934.6" width="7.75" height="15.8" fill="#00c800"/>
<rect x="483.64" y="934.6" width="7.75" height="15.8" fill="#00a800"/>
<rect x="490.98" y="934.6" width="7.75" height="15.8" fill="#009000"/>
<rect x="498.33" y="934.6" width="7.75" height="15.8" fill="#087000"/>
<rect x="505.67" y="934.6" width="7.75" height="15.8" fill="#489000"/>
<rect x="513.02" y="934.6" width="7.75" height="15.8" fill="#78b000"/>
<rect x="520.36" y="934.6" width="7.75" height="15.8" fill="#b0d000"/>
<rect x="527.71" y="934.6" width="7.75" height="15.8" fill="#e8f000"/>
<rect x="535.05" y="934.6" width="7.75" height="15.8" fill="#f0f000"/>
<rect x="542.40" y="934.6" width="7.75" height="15.8" fill="#d8d000"/>
<rect x="549.75" y="934.6" width="7.75" height="15.8" fill="#b0a800"/>
<rect x="557.09" y="934.6" width="7.75" height="15.8" fill="#909000"/>
<rect x="564.44" y="934.6" width="7.75" height="15.8" fill="#707000"/>
<rect x="571.78" y="934.6" width="7.75" height="15.8" fill="#886800"/>
<rect x="579.13" y="934.6" width="7.75" height="15.8" fill="#a87000"/>
<rect x="586.47" y="934.6" width="7.75" height="15.8" fill="#c87800"/>
<rect x="593.82" y="934.6" width="7.75" height="15.8" fill="#e88000"/>
<rect x="601.16" y="934.6" width="7.75" height="15.8" fill="#ff8000"/>
<rect x="608.51" y="934.6" width="7.75" height="15.8" fill="#e87000"/>
<rect x="615.85" y="934.6" width="7.75" height="15.8" fill="#c86000"/>
<rect x="623.20" y="934.6" width="7.75" height="15.8" fill="#a85000"/>
<rect x="630.55" y="934.6" width="7.75" height="15.8" fill="#884000"/>
<rect x="637.89" y="934.6" width="7.75" height="15.8" fill="#983000"/>
<rect x="645.24" y="934.6" width="7.75" height="15.8" fill="#b82800"/>
<rect x="652.58" y="934.6" width="7.75" height="15.8" fill="#d01800"/>
<rect x="659.93" y="934.6" width="7.75" height="15.8" fill="#e80800"/>
<rect x="667.27" y="934.6" width="7.75" height="15.8" fill="#ff0000"/>
<rect x="674.62" y="934.6" width="7.75" height="15.8" fill="#e00000"/>
<rect x="681.96" y="934.6" width="7.75" height="15.8" fill="#c80000"/>
<rect x="689.31" y="934.6" width="7.75" height="15.8" fill="#ad0000"/>
<rect x="696.65" y="934.6" width="7.75" height="15.8" fill="#900000"/>
<rect x="300.0" y="934.6" width="404.0" height="15.8" fill="none" stroke="#000" stroke-width="1.2"/>
<rect x="323.2" y="925.4" width="2.2" height="9.2" fill="#000"/>
<text class="c" x="325.3" y="907.6" text-anchor="middle">24</text>
<rect x="396.5" y="925.4" width="2.2" height="9.2" fill="#000"/>
<text class="c" x="398.6" y="907.6" text-anchor="middle">27</text>
<rect x="469.9" y="925.4" width="2.2" height="9.2" fill="#000"/>
<text class="c" x="472.0" y="907.6" text-anchor="middle">30</text>
<rect x="543.2" y="925.4" width="2.2" height="9.2" fill="#000"/>
<text class="c" x="545.3" y="907.6" text-anchor="middle">33</text>
<rect x="616.6" y="925.4" width="2.2" height="9.2" fill="#000"/>
<text class="c" x="618.7" y="907.6" text-anchor="middle">36</text>
<rect x="689.9" y="925.4" width="2.2" height="9.2" fill="#000"/>
<text class="c" x="692.0" y="907.6" text-anchor="middle">39</text>
<text x="723" y="950.5" font-size="33" font-weight="bold" font-style="italic">psu</text>
</g>
</svg></body></html>
